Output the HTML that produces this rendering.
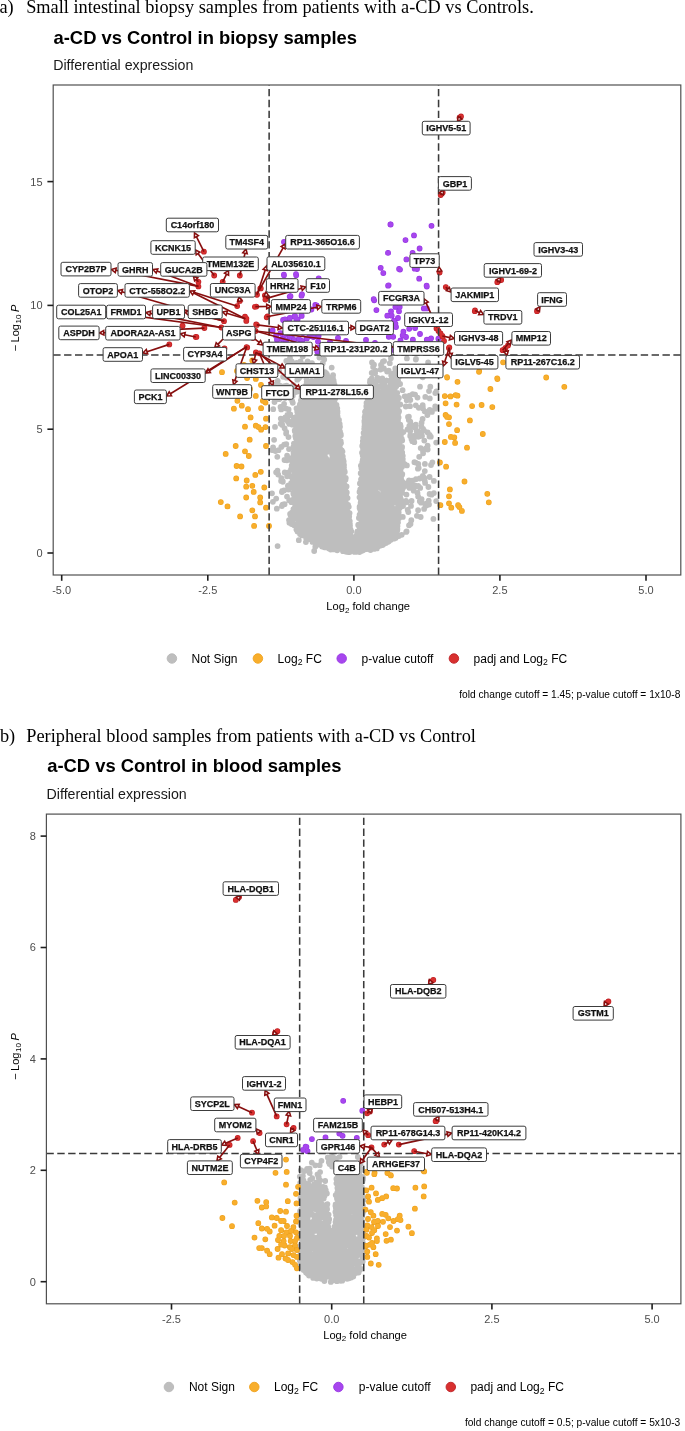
<!DOCTYPE html>
<html><head><meta charset="utf-8"><title>Volcano plots</title><style>
html,body{margin:0;padding:0;background:#fff;}
body{width:685px;height:1431px;overflow:hidden;}
svg{display:block;will-change:transform;}
text{font-family:"Liberation Sans",sans-serif;}
.cap{font-family:"Liberation Serif",serif;font-size:18.32px;fill:#000;}
.ttl{font-weight:bold;font-size:18.4px;fill:#000;}
.sub{font-size:14.2px;fill:#1a1a1a;}
.tick{font-size:11px;fill:#4d4d4d;}
.axt{font-size:11.15px;fill:#000;}
.leg{font-size:12px;fill:#000;}
.foot{font-size:10.2px;fill:#000;}
.lab{font-weight:bold;font-size:9px;fill:#111;stroke:#111;stroke-width:0.25px;}
</style></head><body>
<svg width="685" height="1431" viewBox="0 0 685 1431">
<rect width="685" height="1431" fill="#fff"/>
<text x="-0.6" y="12.6" class="cap">a)</text><text x="26.2" y="12.6" class="cap">Small intestinal biopsy samples from patients with a-CD vs Controls.</text>
<text x="53.5" y="43.7" class="ttl">a-CD vs Control in biopsy samples</text>
<text x="53.2" y="69.9" class="sub">Differential expression</text>
<text x="-0.1" y="741.9" class="cap">b)</text><text x="26.3" y="741.9" class="cap">Peripheral blood samples from patients with a-CD vs Control</text>
<text x="47.2" y="772.4" class="ttl">a-CD vs Control in blood samples</text>
<text x="46.6" y="798.8" class="sub">Differential expression</text>
<g>
<path d="M371.0 501.1h0M428.4 487.0h0M374.4 474.8h0M332.6 540.1h0M381.2 459.2h0M317.1 538.4h0M294.3 476.1h0M356.3 536.0h0M362.4 486.4h0M305.3 421.9h0M363.1 550.3h0M330.0 511.3h0M369.4 447.4h0M310.4 459.8h0M317.4 504.7h0M295.9 488.5h0M382.9 361.7h0M305.0 488.5h0M307.4 456.6h0M304.7 473.4h0M328.7 524.2h0M386.9 454.0h0M327.7 399.2h0M298.0 488.2h0M385.9 520.0h0M280.5 407.0h0M322.6 467.4h0M324.0 461.3h0M300.1 474.9h0M393.8 427.1h0M303.9 407.0h0M370.5 449.6h0M303.0 423.2h0M320.0 449.3h0M323.7 444.3h0M314.2 448.4h0M327.9 483.0h0M395.0 397.4h0M312.1 443.9h0M361.8 491.4h0M386.1 464.6h0M400.8 439.4h0M296.3 434.0h0M375.1 384.2h0M295.3 435.9h0M397.2 392.8h0M331.0 513.8h0M298.5 416.4h0M330.6 525.7h0M376.8 448.9h0M297.9 488.4h0M372.6 416.3h0M309.8 476.8h0M363.4 512.5h0M376.9 483.6h0M325.3 509.5h0M378.0 505.5h0M329.8 527.4h0M323.7 488.7h0M336.9 545.8h0M364.4 426.6h0M384.6 541.3h0M390.4 387.3h0M397.3 530.2h0M315.7 413.9h0M402.2 501.7h0M336.1 412.3h0M371.2 403.2h0M374.5 446.0h0M330.6 432.5h0M393.1 475.3h0M340.2 432.7h0M363.1 534.4h0M382.9 532.1h0M314.1 524.8h0M325.3 482.6h0M297.1 496.6h0M376.9 548.4h0M320.9 421.4h0M378.2 446.6h0M327.8 405.2h0M395.6 435.4h0M335.2 488.1h0M296.9 502.3h0M364.1 445.5h0M345.6 517.2h0M365.1 415.3h0M388.3 503.3h0M417.4 372.9h0M332.9 496.4h0M346.8 532.9h0M373.6 525.5h0M340.0 462.2h0M358.9 524.7h0M293.7 494.6h0M299.8 391.6h0M360.2 489.5h0M305.8 452.5h0M389.7 403.5h0M361.1 542.9h0M319.2 534.6h0M313.8 422.7h0M343.7 515.9h0M393.6 407.0h0M307.8 395.2h0M335.4 449.6h0M393.9 485.4h0M372.4 493.8h0M346.3 549.5h0M331.9 498.4h0M338.8 422.3h0M395.0 433.5h0M332.0 458.7h0M296.9 434.5h0M366.7 523.0h0M369.8 491.8h0M382.9 472.5h0M333.3 388.6h0M301.8 502.2h0M319.8 531.5h0M390.8 529.8h0M325.3 498.9h0M386.0 471.7h0M354.6 551.9h0M299.0 443.7h0M326.4 477.6h0M369.8 520.4h0M337.5 411.4h0M336.3 422.6h0M368.0 403.6h0M357.4 531.3h0M390.3 452.4h0M331.8 488.8h0M380.5 369.6h0M298.5 442.7h0M369.5 545.5h0M359.3 542.3h0M340.3 441.2h0M308.9 405.8h0M333.5 518.5h0M327.3 543.9h0M332.0 436.7h0M302.0 456.2h0M271.9 450.1h0M335.2 465.6h0M324.0 484.5h0M335.6 449.5h0M279.9 385.7h0M363.2 532.2h0M330.2 508.0h0M380.1 409.0h0M344.7 506.1h0M307.1 440.1h0M394.9 463.7h0M339.7 489.7h0M385.3 410.7h0M344.1 471.3h0M356.5 537.3h0M397.4 442.0h0M383.8 483.3h0M391.0 529.8h0M384.5 529.8h0M320.2 486.4h0M317.0 534.5h0M322.2 466.9h0M368.3 506.6h0M322.5 449.0h0M334.3 467.2h0M383.9 497.8h0M333.8 531.6h0M389.8 391.1h0M301.1 489.7h0M301.4 409.5h0M396.9 488.7h0M388.5 526.0h0M400.6 498.6h0M293.6 518.7h0M386.6 454.2h0M384.3 392.1h0M328.3 409.8h0M388.8 520.6h0M335.6 507.9h0M333.1 395.1h0M336.8 518.7h0M296.8 481.5h0M373.6 487.0h0M375.6 528.5h0M296.6 448.1h0M325.0 453.4h0M377.8 541.5h0M372.1 481.8h0M325.3 501.6h0M333.1 426.7h0M314.3 486.1h0M369.9 424.8h0M399.3 443.7h0M388.8 414.9h0M391.1 514.6h0M345.7 518.4h0M376.5 537.0h0M309.3 430.7h0M315.2 525.6h0M298.8 504.5h0M309.3 490.3h0M331.3 514.3h0M331.3 542.5h0M375.1 491.2h0M394.5 529.5h0M334.9 479.3h0M318.7 472.5h0M322.6 446.1h0M325.2 510.1h0M326.6 394.1h0M325.6 522.2h0M376.4 539.5h0M392.0 479.0h0M307.6 372.0h0M311.7 367.7h0M312.6 513.1h0M319.1 405.6h0M367.8 418.4h0M326.4 399.7h0M369.7 526.3h0M386.2 538.5h0M377.3 486.1h0M294.7 430.3h0M374.8 444.2h0M389.2 451.6h0M374.1 389.1h0M362.8 495.7h0M429.5 436.5h0M322.7 502.3h0M289.3 423.9h0M349.0 547.6h0M374.0 511.3h0M316.6 524.3h0M319.2 471.6h0M329.3 441.3h0M426.4 505.6h0M297.9 450.4h0M317.5 522.8h0M424.8 471.1h0M329.1 509.8h0M310.8 506.8h0M394.3 526.4h0M435.3 393.1h0M396.0 468.9h0M422.8 406.2h0M337.0 438.2h0M323.2 458.6h0M354.4 548.6h0M315.2 414.5h0M370.1 402.8h0M395.5 438.8h0M376.8 415.1h0M368.7 407.3h0M305.0 404.8h0M364.4 528.4h0M322.2 507.4h0M328.7 406.3h0M344.9 497.8h0M371.9 401.8h0M284.6 428.3h0M303.2 390.8h0M308.0 463.4h0M298.4 467.9h0M306.2 538.4h0M308.5 425.1h0M378.7 439.6h0M331.7 490.9h0M299.3 448.4h0M315.0 479.3h0M299.8 464.7h0M390.1 524.9h0M343.6 479.8h0M331.7 438.1h0M313.6 490.8h0M385.0 406.0h0M365.1 437.9h0M368.7 512.2h0M397.1 406.0h0M386.9 464.4h0M371.2 549.2h0M330.9 467.1h0M297.4 511.5h0M390.2 403.4h0M319.2 418.6h0M340.6 495.8h0M371.2 521.1h0M400.4 440.4h0M314.6 510.7h0M387.6 535.2h0M360.9 517.4h0M328.9 410.7h0M329.3 520.0h0M389.2 429.2h0M339.0 420.0h0M318.2 488.5h0M333.3 513.6h0M307.6 417.6h0M386.7 515.2h0M322.1 424.6h0M392.3 528.0h0M388.6 541.5h0M306.9 465.1h0M376.3 458.6h0M316.4 486.2h0M315.0 508.5h0M297.9 422.0h0M329.6 461.7h0M336.8 466.3h0M371.7 423.7h0M336.0 502.0h0M395.0 427.4h0M372.8 463.3h0M343.5 549.6h0M398.1 509.3h0M308.1 468.2h0M343.8 541.1h0M312.2 506.0h0M307.7 496.0h0M333.6 380.4h0M284.1 404.0h0M382.9 437.3h0M391.8 414.4h0M321.4 503.0h0M398.7 512.5h0M304.7 479.5h0M291.7 361.3h0M395.1 462.7h0M365.0 411.8h0M326.6 502.8h0M367.9 425.9h0M336.3 480.8h0M299.7 517.2h0M312.1 418.8h0M376.6 544.4h0M367.5 480.1h0M369.2 546.4h0M335.9 409.1h0M284.6 504.2h0M340.8 434.2h0M284.5 419.6h0M336.0 455.1h0M397.8 476.0h0M318.2 514.4h0M394.3 424.9h0M310.1 494.2h0M319.0 425.2h0M368.1 458.2h0M408.0 416.9h0M365.8 500.0h0M367.2 463.2h0M317.4 397.2h0M371.0 548.0h0M309.9 410.5h0M381.1 449.3h0M367.0 461.3h0M375.4 451.4h0M327.2 471.3h0M346.4 495.9h0M306.8 466.8h0M365.5 499.0h0M382.4 518.5h0M292.2 457.8h0M320.7 408.9h0M370.3 546.3h0M345.6 528.0h0M372.5 481.1h0M308.3 480.6h0M370.1 412.1h0M329.9 484.3h0M324.2 359.4h0M368.5 485.3h0M385.4 516.3h0M316.0 513.8h0M325.6 413.9h0M370.2 439.7h0M357.0 538.1h0M385.4 509.6h0M330.4 463.4h0M286.5 377.7h0M383.8 507.9h0M373.0 502.0h0M364.6 503.6h0M358.8 533.5h0M320.8 378.0h0M338.9 471.0h0M392.3 521.0h0M341.6 515.7h0M378.7 420.0h0M338.8 431.9h0M375.9 502.4h0M322.2 503.6h0M316.0 542.8h0M312.5 517.9h0M336.6 481.0h0M357.8 536.4h0M384.1 512.9h0M342.3 531.8h0M296.2 427.7h0M392.7 408.7h0M307.7 435.8h0M325.2 413.3h0M382.5 445.8h0M293.8 517.5h0M312.7 512.1h0M397.5 526.1h0M321.1 481.5h0M316.1 397.0h0M325.9 403.5h0M298.0 428.3h0M362.7 495.9h0M361.8 535.1h0M299.6 531.5h0M395.4 423.5h0M305.8 497.5h0M367.9 419.7h0M396.2 518.7h0M384.3 494.8h0M361.4 483.9h0M328.2 402.2h0M301.3 436.2h0M414.4 462.2h0M379.1 508.4h0M331.2 528.7h0M392.9 475.8h0M328.0 496.1h0M384.4 394.9h0M335.2 491.5h0M309.3 446.8h0M387.1 441.8h0M328.4 511.8h0M366.3 454.4h0M392.3 410.2h0M340.5 455.9h0M427.7 432.4h0M340.6 474.4h0M301.6 428.4h0M322.4 541.8h0M315.0 519.0h0M307.3 516.5h0M391.7 408.4h0M385.0 412.7h0M384.9 488.9h0M367.9 443.0h0M382.9 422.5h0M383.9 395.5h0M390.8 401.1h0M286.2 431.8h0M398.8 432.9h0M318.6 479.2h0M291.6 460.6h0M325.1 523.3h0M326.1 464.6h0M305.2 469.5h0M333.4 545.9h0M312.0 445.6h0M385.7 458.4h0M330.7 549.5h0M378.5 422.5h0M383.8 405.9h0M395.9 453.5h0M330.2 535.2h0M343.6 531.2h0M310.1 451.9h0M372.0 465.8h0M301.7 465.1h0M385.9 424.7h0M340.0 431.4h0M337.8 512.8h0M314.0 458.8h0M336.4 414.8h0M376.8 398.0h0M364.4 420.8h0M334.8 522.5h0M315.5 499.9h0M296.6 480.3h0M328.2 479.7h0M330.2 400.1h0M319.6 505.6h0M293.5 385.2h0M307.2 480.7h0M428.7 500.6h0M331.2 416.9h0M400.2 465.5h0M355.9 551.4h0M315.3 405.6h0M329.5 507.5h0M317.0 473.1h0M302.5 524.0h0M290.4 398.2h0M329.2 409.4h0M391.0 518.5h0M364.2 461.5h0M391.8 491.6h0M310.8 508.9h0M400.9 486.3h0M376.2 418.1h0M294.2 525.3h0M335.2 511.8h0M304.7 533.8h0M314.4 499.4h0M336.7 411.7h0M319.0 438.2h0M371.3 494.5h0M373.3 498.4h0M372.2 407.7h0M379.2 425.4h0M373.2 431.7h0M379.9 545.7h0M368.1 450.6h0M340.9 458.4h0M310.8 364.8h0M317.6 533.0h0M298.5 468.7h0M397.5 521.1h0M383.6 391.2h0M340.5 538.7h0M363.4 505.4h0M370.1 380.5h0M398.7 453.2h0M303.0 501.4h0M313.1 514.8h0M379.8 507.5h0M387.7 541.9h0M433.4 518.9h0M301.5 437.6h0M319.2 391.0h0M398.0 507.2h0M325.1 515.9h0M399.0 376.4h0M377.3 514.7h0M423.4 476.8h0M291.0 469.5h0M389.5 402.8h0M400.0 477.9h0M297.3 530.1h0M349.9 524.0h0M332.8 483.8h0M336.7 466.7h0M379.4 448.3h0M384.1 384.2h0M379.5 530.9h0M294.9 512.7h0M281.2 409.4h0M336.9 492.0h0M378.9 443.8h0M374.5 526.3h0M389.6 527.8h0M284.5 460.0h0M310.8 507.1h0M320.9 462.3h0M374.9 477.7h0M389.2 407.7h0M374.7 401.6h0M369.0 396.1h0M320.1 438.8h0M418.1 510.2h0M311.2 468.2h0M295.3 505.9h0M327.5 430.3h0M336.7 543.8h0M288.5 485.3h0M388.3 464.5h0M312.0 466.1h0M318.7 442.3h0M317.7 543.8h0M322.9 469.5h0M371.2 451.3h0M297.2 494.7h0M385.3 486.5h0M395.2 489.3h0M370.2 515.3h0M306.0 421.8h0M385.6 496.5h0M378.7 521.8h0M366.7 548.8h0M307.5 427.3h0M330.2 500.5h0M399.0 503.8h0M350.1 539.4h0M345.7 477.8h0M389.4 472.7h0M327.9 521.8h0M397.9 504.3h0M386.9 542.1h0M339.1 538.2h0M329.3 443.6h0M357.0 546.6h0M340.8 497.4h0M387.5 481.0h0M312.9 440.9h0M396.3 485.0h0M378.9 450.0h0M319.8 473.9h0M394.2 392.5h0M350.3 547.0h0M361.3 528.5h0M311.6 537.2h0M376.5 528.9h0M382.6 459.8h0M367.8 449.6h0M321.4 507.8h0M328.2 409.5h0M302.2 514.6h0M336.7 412.5h0M313.3 368.4h0M295.7 513.6h0M391.9 428.8h0M351.3 531.3h0M314.1 509.5h0M334.3 536.5h0M332.9 377.6h0M312.4 527.5h0M340.4 515.7h0M304.2 421.1h0M409.5 395.7h0M376.0 459.2h0M302.9 526.4h0M299.9 429.3h0M379.7 542.8h0M368.6 422.1h0M383.2 441.6h0M402.3 481.6h0M374.1 548.9h0M338.1 450.1h0M328.4 527.6h0M363.4 531.3h0M292.8 480.2h0M304.7 428.2h0M339.0 441.1h0M347.2 510.9h0M346.8 526.8h0M383.0 506.0h0M379.6 519.7h0M344.4 502.1h0M295.8 516.8h0M344.4 510.2h0M344.7 541.7h0M397.2 528.9h0M384.9 437.1h0M335.7 536.3h0M376.6 454.3h0M313.7 532.0h0M317.8 434.3h0M309.4 488.9h0M342.3 466.4h0M334.8 490.2h0M399.0 485.5h0M420.0 386.7h0M327.4 432.3h0M337.7 445.9h0M395.1 408.9h0M310.0 381.5h0M394.4 418.6h0M337.0 448.3h0M296.5 508.4h0M319.4 357.6h0M415.9 479.2h0M389.2 447.7h0M345.2 499.4h0M372.6 509.5h0M329.6 531.2h0M304.2 514.7h0M324.8 407.9h0M314.1 394.7h0M305.4 407.6h0M312.8 486.9h0M391.7 486.9h0M378.5 432.1h0M320.3 430.7h0M309.4 521.3h0M351.5 539.4h0M345.4 505.0h0M291.0 522.8h0M364.9 460.4h0M368.5 528.0h0M324.2 524.6h0M313.2 494.3h0M373.6 401.5h0M315.5 413.8h0M316.7 500.7h0M367.5 498.8h0M319.8 451.5h0M379.5 435.9h0M308.0 416.3h0M348.2 541.1h0M300.3 448.3h0M317.9 433.2h0M349.3 533.8h0M365.4 517.6h0M401.6 489.6h0M371.5 400.8h0M374.1 522.4h0M398.5 482.4h0M305.3 458.3h0M374.6 481.6h0M321.1 442.8h0M381.0 403.6h0M390.1 508.3h0M305.6 418.5h0M375.0 407.0h0M380.9 497.7h0M370.1 511.8h0M379.9 451.2h0M296.0 428.6h0M326.0 420.7h0M393.3 464.4h0M357.1 532.7h0M386.5 463.4h0M382.0 427.2h0M333.3 448.7h0M305.0 461.1h0M386.5 470.2h0M386.6 433.3h0M373.4 411.2h0M405.7 396.3h0M304.3 478.7h0M337.6 545.9h0M334.1 483.6h0M380.0 495.6h0M412.7 394.1h0M328.2 493.8h0M372.2 401.6h0M335.6 429.9h0M402.8 516.9h0M381.0 457.5h0M366.0 473.1h0M298.4 491.0h0M388.7 443.6h0M319.2 457.4h0M364.5 440.7h0M337.3 546.5h0M373.4 502.4h0M375.9 521.0h0M364.8 473.2h0M313.2 413.1h0M380.9 544.4h0M369.1 547.5h0M333.9 401.2h0M296.7 474.7h0M423.1 453.3h0M329.9 463.7h0M318.3 419.8h0M366.5 403.0h0M326.2 458.6h0M341.8 450.5h0M381.3 496.3h0M376.6 459.9h0M372.4 500.8h0M356.0 551.9h0M344.9 549.8h0M383.2 400.3h0M308.5 493.8h0M317.3 390.2h0M404.7 396.3h0M303.8 528.2h0M321.2 392.4h0M339.8 540.0h0M398.0 419.0h0M324.7 508.4h0M378.5 498.5h0M375.5 409.7h0M375.9 434.9h0M336.7 539.5h0M293.4 493.9h0M340.2 492.8h0M338.7 421.6h0M337.8 529.3h0M337.4 457.2h0M305.3 447.0h0M329.8 540.3h0M388.3 490.2h0M367.2 523.6h0M327.8 485.3h0M310.8 457.3h0M311.9 399.9h0M369.5 524.6h0M303.3 526.2h0M332.8 443.0h0M285.3 417.3h0M385.5 417.2h0M384.0 501.9h0M300.5 410.5h0M365.4 506.4h0M298.4 461.6h0M275.5 451.0h0M332.2 468.2h0M338.5 464.2h0M388.6 538.5h0M393.6 509.8h0M300.0 534.0h0M390.1 458.2h0M385.3 539.3h0M349.2 529.0h0M398.4 465.4h0M376.2 493.9h0M316.6 379.5h0M308.2 522.2h0M324.3 520.2h0M313.9 445.7h0M394.4 423.4h0M324.6 444.5h0M339.0 523.9h0M326.6 432.0h0M318.8 478.3h0M329.2 382.5h0M326.1 479.9h0M364.2 477.7h0M358.3 543.9h0M378.1 519.5h0M382.6 420.7h0M392.3 453.1h0M328.4 520.5h0M307.3 537.5h0M319.3 486.5h0M316.4 443.1h0M398.0 522.5h0M390.9 506.6h0M374.4 521.1h0M277.7 380.8h0M391.1 480.7h0M309.7 469.8h0M300.8 439.9h0M297.3 379.7h0M372.2 548.3h0M346.5 503.9h0M307.3 391.1h0M319.5 451.9h0M292.2 487.3h0M418.2 485.9h0M384.9 536.1h0M349.6 531.4h0M362.2 499.4h0M392.7 528.3h0M340.0 517.1h0M320.5 517.5h0M327.1 497.0h0M316.9 468.9h0M409.0 480.3h0M300.4 447.6h0M346.0 549.0h0M359.6 533.2h0M389.0 387.1h0M374.6 512.7h0M365.2 494.9h0M315.3 383.2h0M320.6 432.4h0M329.1 400.5h0M334.8 507.3h0M373.9 397.4h0M306.7 381.8h0M393.6 384.4h0M294.3 500.5h0M324.9 372.2h0M396.7 411.4h0M320.9 379.1h0M299.9 404.4h0M319.2 525.6h0M363.0 448.5h0M319.0 458.1h0M282.8 481.8h0M326.8 433.3h0M373.1 494.7h0M365.9 411.8h0M328.6 471.3h0M367.7 486.7h0M339.6 542.4h0M299.0 459.1h0M402.0 492.1h0M339.7 505.6h0M314.2 494.6h0M389.4 478.3h0M332.4 457.7h0M364.5 488.5h0M383.8 416.8h0M366.1 532.5h0M303.3 515.5h0M312.7 414.2h0M365.8 549.2h0M311.7 489.6h0M295.2 465.5h0M366.7 524.8h0M337.6 444.6h0M365.9 462.7h0M396.8 438.5h0M328.7 476.4h0M333.9 524.8h0M373.3 436.2h0M313.3 492.7h0M383.6 418.3h0M292.2 401.1h0M336.1 425.0h0M385.1 501.4h0M331.1 513.6h0M346.9 510.9h0M318.7 489.2h0M371.5 416.6h0M369.4 462.8h0M299.4 528.1h0M305.5 437.2h0M307.0 447.5h0M324.2 526.5h0M366.4 449.4h0M389.3 529.2h0M375.8 381.7h0M307.7 441.2h0M337.6 416.4h0M385.6 532.8h0M293.8 483.2h0M376.8 446.1h0M301.9 453.5h0M382.4 529.7h0M398.5 456.8h0M384.6 501.2h0M313.6 455.8h0M371.0 418.6h0M377.0 460.4h0M314.0 423.5h0M365.7 510.6h0M306.7 534.1h0M316.1 431.4h0M386.0 391.4h0M376.8 499.3h0M334.9 459.7h0M395.8 408.4h0M311.9 460.5h0M385.9 543.0h0M325.2 379.7h0M296.8 479.9h0M289.0 520.1h0M330.6 437.2h0M400.0 465.4h0M329.9 461.4h0M345.7 550.5h0M377.6 514.9h0M395.3 404.9h0M360.2 509.5h0M398.9 397.9h0M392.2 475.0h0M343.9 519.5h0M394.0 389.4h0M370.2 438.0h0M300.8 503.5h0M357.0 544.7h0M300.9 400.5h0M319.1 453.1h0M324.7 496.1h0M365.7 538.9h0M387.5 404.8h0M394.1 527.8h0M310.0 517.8h0M332.6 506.2h0M379.8 541.2h0M307.8 416.0h0M325.8 415.6h0M316.5 525.7h0M402.2 452.4h0M314.0 531.3h0M397.3 445.1h0M305.4 457.4h0M326.7 402.7h0M314.5 418.6h0M384.5 533.3h0M372.8 545.8h0M375.3 469.0h0M274.1 439.8h0M325.2 522.1h0M304.4 441.2h0M315.5 506.5h0M420.2 487.9h0M304.2 399.0h0M339.1 451.8h0M389.3 459.7h0M324.6 536.6h0M379.0 415.1h0M384.3 412.1h0M302.4 535.4h0M401.1 463.9h0M302.3 391.4h0M398.8 475.3h0M322.7 544.5h0M385.4 508.5h0M366.0 514.5h0M321.4 466.4h0M327.8 534.1h0M349.1 522.6h0M341.6 519.6h0M381.6 407.0h0M330.2 444.7h0M393.5 431.1h0M365.6 533.0h0M391.1 470.2h0M311.6 535.9h0M337.7 543.4h0M365.3 539.3h0M309.6 406.0h0M374.0 413.5h0M326.6 541.4h0M295.8 438.1h0M397.8 517.0h0M299.3 389.7h0M384.0 389.4h0M386.6 380.6h0M310.2 458.0h0M363.1 452.6h0M307.6 409.5h0M387.5 514.8h0M331.5 500.7h0M383.5 496.3h0M416.9 515.8h0M299.8 499.5h0M389.8 509.4h0M398.2 495.3h0M366.4 511.7h0M383.2 476.6h0M305.2 528.0h0M296.8 488.3h0M322.8 396.7h0M335.2 483.4h0M394.7 419.2h0M302.1 429.8h0M334.0 431.4h0M322.5 483.4h0M336.2 413.5h0M370.2 509.5h0M281.4 478.2h0M324.3 547.3h0M319.9 413.2h0M418.3 436.8h0M370.8 532.5h0M317.9 456.5h0M348.1 552.0h0M340.1 501.6h0M326.4 381.4h0M339.1 426.6h0M347.2 513.5h0M376.2 535.1h0M388.2 402.7h0M320.3 419.0h0M326.6 396.0h0M359.6 506.7h0M371.7 545.8h0M362.8 454.5h0M423.0 451.5h0M337.5 412.9h0M399.7 457.7h0M362.2 476.3h0M302.9 485.4h0M316.8 474.1h0M326.0 478.4h0M295.3 474.3h0M397.4 519.4h0M346.1 524.2h0M328.9 414.5h0M368.3 546.0h0M309.5 486.1h0M365.5 443.2h0M373.4 475.7h0M341.4 511.6h0M394.5 413.0h0M379.9 507.1h0M359.4 544.6h0M316.3 501.6h0M328.8 511.4h0M317.2 436.8h0M384.3 411.2h0M314.5 501.8h0M381.0 365.0h0M396.1 454.4h0M318.2 410.2h0M372.3 452.0h0M396.9 456.2h0M387.3 503.1h0M332.2 483.2h0M384.6 461.0h0M386.7 480.5h0M406.6 531.5h0M304.7 507.9h0M345.3 509.2h0M320.0 391.2h0M295.0 471.0h0M338.8 420.4h0M334.4 447.1h0M396.6 408.7h0M285.2 398.1h0M288.5 489.5h0M400.9 435.0h0M347.0 528.3h0M300.8 520.6h0M310.6 385.5h0M361.4 468.3h0M389.5 409.9h0M394.5 476.2h0M383.2 473.4h0M294.9 482.5h0M346.6 486.4h0M369.3 483.0h0M290.8 459.6h0M359.5 552.0h0M394.5 497.6h0M396.6 482.3h0M361.0 545.4h0M384.6 540.6h0M306.7 429.1h0M321.4 446.7h0M366.4 421.1h0M389.4 479.5h0M336.8 548.5h0M307.6 450.7h0M429.7 409.9h0M380.9 496.6h0M327.1 460.9h0M291.8 512.7h0M399.2 451.6h0M356.2 547.8h0M322.8 376.8h0M308.5 404.0h0M402.3 474.1h0M297.9 501.4h0M392.2 418.1h0M338.2 540.0h0M311.8 385.8h0M363.6 532.4h0M320.8 413.3h0M368.7 503.0h0M333.2 494.0h0M315.7 433.6h0M343.2 477.9h0M397.9 403.8h0M349.1 532.4h0M316.1 540.3h0M367.0 537.1h0M371.3 480.5h0M382.5 534.6h0M311.5 528.6h0M298.2 467.6h0M309.4 524.5h0M350.1 535.9h0M428.2 375.1h0M371.4 439.1h0M402.8 459.1h0M310.1 450.1h0M372.6 430.2h0M370.1 496.3h0M325.4 483.9h0M341.4 525.1h0M377.3 466.0h0M304.2 400.4h0M376.7 511.3h0M294.7 460.0h0M392.4 510.1h0M318.5 388.1h0M366.0 456.9h0M407.4 482.8h0M305.3 510.2h0M293.6 494.2h0M296.0 493.6h0M341.3 497.6h0M399.2 466.9h0M332.9 473.2h0M340.9 477.5h0M394.2 464.5h0M312.2 518.7h0M410.3 421.7h0M317.9 426.6h0M376.7 415.6h0M367.4 456.6h0M386.2 419.2h0M331.1 430.7h0M309.0 482.1h0M381.5 467.3h0M294.1 466.1h0M384.4 511.6h0M312.5 503.9h0M324.3 396.2h0M391.3 418.0h0M306.3 511.7h0M369.8 387.1h0M308.7 484.2h0M375.6 546.8h0M371.0 464.5h0M326.1 432.8h0M363.6 492.9h0M303.6 494.5h0M387.9 453.3h0M332.7 535.3h0M302.1 503.6h0M345.1 479.1h0M336.1 514.6h0M393.0 499.8h0M376.7 495.1h0M315.6 510.8h0M391.0 491.3h0M313.7 508.3h0M383.6 508.9h0M366.3 428.7h0M314.4 529.2h0M398.5 509.7h0M311.3 423.7h0M399.6 425.9h0M323.5 406.4h0M394.5 463.7h0M392.0 516.5h0M374.6 423.2h0M332.4 507.4h0M367.2 471.4h0M331.8 546.2h0M370.7 383.1h0M389.7 459.4h0M321.1 496.1h0M316.3 456.8h0M319.3 416.5h0M365.0 524.1h0M386.5 504.8h0M375.4 407.2h0M300.8 444.6h0M327.9 536.7h0M300.9 441.2h0M384.3 493.2h0M311.8 509.7h0M374.3 448.4h0M379.6 420.2h0M382.0 462.7h0M342.0 524.7h0M319.7 461.5h0M335.2 491.5h0M329.5 399.3h0M381.5 401.2h0M306.7 489.8h0M333.1 375.2h0M371.7 383.3h0M315.3 526.3h0M381.5 449.0h0M383.9 368.5h0M380.3 528.5h0M312.4 432.3h0M388.7 370.6h0M274.5 402.0h0M327.6 474.1h0M297.4 515.5h0M386.5 468.8h0M318.8 521.3h0M389.2 492.3h0M401.1 499.9h0M382.9 414.2h0M401.4 451.9h0M324.4 423.7h0M373.6 426.5h0M324.7 524.1h0M325.7 410.6h0M328.2 474.7h0M380.8 541.5h0M293.3 493.0h0M291.2 476.7h0M335.1 463.0h0M335.1 463.3h0M334.2 395.0h0M365.6 417.0h0M357.8 532.8h0M393.1 513.5h0M336.5 433.6h0M359.5 491.9h0M297.4 432.8h0M369.2 538.6h0M321.5 450.7h0M402.8 455.8h0M388.8 464.9h0M313.8 454.4h0M365.9 470.9h0M312.1 461.7h0M397.0 469.1h0M379.1 461.3h0M313.3 471.1h0M276.1 472.3h0M342.7 511.2h0M327.8 436.4h0M333.5 437.3h0M330.8 546.2h0M369.0 459.8h0M300.5 483.8h0M301.2 363.2h0M309.9 525.2h0M394.3 468.1h0M398.0 420.9h0M415.3 427.7h0M321.4 473.9h0M334.4 498.3h0M337.7 516.5h0M323.1 443.6h0M336.0 467.8h0M366.6 449.4h0M334.0 511.8h0M323.2 543.4h0M387.9 400.0h0M380.1 496.3h0M344.4 508.6h0M374.6 489.0h0M385.1 414.9h0M397.1 433.4h0M333.2 500.8h0M355.5 540.9h0M399.8 442.6h0M316.5 432.7h0M306.3 500.3h0M301.8 421.1h0M368.4 480.8h0M383.0 501.2h0M415.8 359.5h0M312.3 461.1h0M344.5 470.9h0M383.0 439.2h0M297.2 448.4h0M370.5 393.5h0M328.8 540.6h0M337.3 425.3h0M309.6 445.2h0M327.1 487.5h0M388.7 494.9h0M329.3 390.4h0M376.4 385.9h0M289.0 449.1h0M379.2 475.4h0M409.5 487.9h0M386.7 511.7h0M377.6 377.9h0M294.2 523.8h0M401.7 482.7h0M338.1 460.9h0M314.4 463.7h0M362.5 508.9h0M387.1 402.1h0M397.4 529.0h0M345.8 500.0h0M372.3 485.5h0M378.4 544.0h0M369.4 500.2h0M390.3 518.5h0M322.7 424.6h0M310.4 398.1h0M324.1 454.2h0M379.8 537.8h0M367.7 419.8h0M374.4 452.1h0M340.4 520.2h0M310.3 390.6h0M431.9 411.9h0M288.6 409.4h0M303.4 427.7h0M386.3 489.6h0M370.9 533.2h0M394.9 491.1h0M352.8 538.9h0M390.6 477.6h0M302.2 510.4h0M369.5 394.3h0M367.8 441.0h0M418.3 463.9h0M326.3 474.3h0M388.3 480.5h0M347.0 550.3h0M380.9 437.9h0M361.0 479.5h0M391.4 516.5h0M374.8 450.7h0M376.0 392.0h0M311.1 397.7h0M398.0 462.3h0M304.3 436.5h0M327.7 477.1h0M406.9 465.4h0M330.5 498.6h0M371.3 405.1h0M343.5 473.9h0M345.4 527.6h0M378.7 517.6h0M431.0 465.0h0M380.0 427.8h0M374.3 414.1h0M333.6 467.3h0M335.8 439.2h0M301.2 425.3h0M381.0 435.2h0M297.7 501.7h0M322.6 469.2h0M375.1 523.6h0M321.5 421.1h0M324.5 408.7h0M352.6 548.7h0M329.7 546.1h0M398.3 515.7h0M388.9 451.8h0M337.0 412.8h0M365.9 537.7h0M369.1 392.3h0M298.8 531.9h0M398.7 478.3h0M367.4 514.2h0M336.7 456.6h0M329.5 400.5h0M326.7 505.6h0M384.3 439.1h0M319.2 429.8h0M335.0 419.0h0M331.6 441.0h0M363.9 492.5h0M371.3 524.8h0M396.1 496.4h0M322.9 423.9h0M365.6 462.8h0M379.4 479.9h0M308.8 472.4h0M313.9 387.0h0M344.5 489.4h0M394.8 487.4h0M382.1 541.1h0M363.1 454.0h0M374.4 548.5h0M370.4 431.3h0M335.8 419.2h0M298.4 494.2h0M363.3 500.7h0M377.0 407.4h0M332.7 481.6h0M322.9 473.7h0M301.3 456.6h0M395.5 530.3h0M308.2 487.1h0M384.0 426.1h0M398.9 518.2h0M318.1 393.9h0M333.9 421.1h0M319.2 509.7h0M335.8 471.9h0M360.6 504.4h0M303.6 455.2h0M298.8 433.1h0M338.7 470.9h0M373.0 402.1h0M311.8 471.4h0M381.0 465.6h0M297.9 412.2h0M312.1 441.5h0M380.6 504.4h0M317.1 393.5h0M427.7 449.5h0M381.4 511.9h0M379.2 512.0h0M347.8 529.2h0M341.8 473.1h0M301.7 427.5h0M336.8 419.3h0M394.7 479.8h0M324.1 503.1h0M366.7 515.5h0M346.2 549.2h0M420.7 448.1h0M397.4 460.8h0M371.2 380.1h0M334.3 438.9h0M306.4 452.4h0M337.8 534.5h0M345.8 478.1h0M332.1 512.5h0M383.1 493.2h0M318.2 491.6h0M368.7 399.5h0M315.9 443.2h0M375.2 413.3h0M319.4 493.7h0M309.4 445.7h0M318.9 509.2h0M390.5 467.2h0M380.0 533.0h0M319.9 530.5h0M377.8 545.7h0M314.7 416.0h0M335.1 538.9h0M385.7 448.1h0M299.6 492.2h0M377.7 519.3h0M371.6 482.8h0M381.1 511.1h0M365.5 411.1h0M330.1 409.0h0M347.6 539.8h0M395.4 490.7h0M356.1 537.7h0M374.3 509.1h0M307.9 427.4h0M332.8 473.4h0M391.7 502.2h0M319.4 404.2h0M326.2 494.2h0M330.6 479.6h0M323.0 457.2h0M367.8 484.5h0M306.3 417.8h0M324.1 515.0h0M308.8 453.0h0M311.4 513.9h0M385.2 499.2h0M300.1 523.7h0M342.1 481.9h0M360.9 465.7h0M325.0 411.7h0M294.7 465.0h0M293.4 509.1h0M334.7 503.2h0M294.9 498.4h0M320.5 373.7h0M388.2 517.8h0M334.8 475.7h0M395.0 465.0h0M299.2 438.7h0M389.0 443.4h0M330.5 524.1h0M340.3 449.0h0M322.6 540.9h0M385.5 467.3h0M368.0 475.1h0M343.1 460.7h0M287.4 419.4h0M340.0 426.7h0M376.9 504.0h0M334.6 472.4h0M311.6 529.4h0M332.2 444.1h0M316.5 442.3h0M382.5 521.0h0M286.4 418.5h0M395.0 479.2h0M322.5 546.2h0M299.8 434.9h0M327.6 420.8h0M382.7 489.8h0M326.5 477.1h0M338.0 513.6h0M293.1 499.6h0M347.1 497.8h0M362.4 527.3h0M336.8 482.3h0M286.6 385.6h0M301.2 519.1h0M299.6 496.3h0M348.6 543.7h0M384.1 436.8h0M435.1 408.7h0M311.3 393.9h0M339.0 504.0h0M359.3 541.8h0M297.9 464.4h0M327.8 425.8h0M371.9 452.9h0M301.3 520.3h0M387.3 392.1h0M363.1 547.5h0M319.0 462.9h0M312.0 469.8h0M418.7 467.9h0M306.2 496.5h0M364.6 417.2h0M331.7 417.9h0M279.2 371.1h0M397.3 415.1h0M394.9 517.7h0M397.0 511.1h0M294.6 453.1h0M387.6 404.6h0M326.9 460.7h0M296.2 482.6h0M338.2 481.8h0M408.3 512.1h0M303.9 405.8h0M310.2 527.0h0M376.9 537.7h0M397.6 406.7h0M295.0 504.0h0M384.9 417.9h0M320.2 526.0h0M355.3 540.3h0M380.5 510.0h0M369.0 426.0h0M305.7 480.3h0M336.8 478.9h0M394.1 513.3h0M387.0 483.1h0M397.0 508.4h0M402.3 484.5h0M312.9 439.2h0M367.1 529.5h0M336.2 425.5h0M375.7 439.3h0M385.0 434.1h0M341.2 547.4h0M362.0 466.2h0M312.7 519.7h0M390.3 456.3h0M342.3 513.6h0M376.5 415.7h0M332.3 546.0h0M381.7 518.1h0M326.5 522.5h0M385.3 476.2h0M291.4 502.2h0M315.0 446.7h0M299.5 487.6h0M393.4 404.7h0M311.9 450.6h0M394.3 530.2h0M373.1 539.2h0M363.4 499.4h0M317.6 503.2h0M308.1 478.9h0M335.5 454.5h0M307.0 452.8h0M294.7 373.4h0M301.4 466.5h0M318.0 483.6h0M383.9 455.6h0M331.9 409.2h0M379.0 398.8h0M418.8 407.8h0M321.1 480.3h0M314.0 464.9h0M373.3 421.2h0M372.8 451.9h0M382.8 449.7h0M318.7 515.5h0M297.2 411.8h0M304.4 511.0h0M324.8 400.1h0M368.6 523.4h0M340.6 462.4h0M301.5 512.0h0M327.7 432.0h0M401.1 488.2h0M315.9 431.1h0M364.2 542.5h0M343.5 479.8h0M320.8 516.4h0M366.2 549.2h0M375.7 387.6h0M367.2 520.1h0M318.6 536.1h0M362.0 452.7h0M377.5 526.1h0M385.4 496.9h0M320.7 480.3h0M384.2 436.8h0M377.6 455.3h0M381.2 540.9h0M320.0 486.7h0M394.9 472.6h0M336.6 413.7h0M390.8 434.7h0M367.4 507.3h0M390.0 452.0h0M339.7 485.0h0M335.1 529.8h0M387.9 513.4h0M369.0 510.4h0M389.5 462.9h0M388.8 496.5h0M323.9 520.6h0M372.4 431.9h0M294.6 419.8h0M405.7 369.8h0M398.8 411.9h0M377.6 401.1h0M326.6 519.8h0M394.3 535.7h0M364.0 511.3h0M318.4 389.1h0M301.4 400.7h0M310.7 482.1h0M306.1 439.4h0M376.6 523.0h0M351.0 546.9h0M312.9 480.8h0M383.6 398.0h0M333.0 455.8h0M388.6 537.3h0M345.5 489.9h0M391.8 452.4h0M376.6 530.1h0M336.5 435.6h0M320.4 403.7h0M322.8 484.2h0M369.0 447.3h0M313.8 493.0h0M369.8 470.1h0M290.1 514.0h0M359.5 497.3h0M336.0 532.3h0M389.4 398.1h0M304.6 493.0h0M342.5 486.2h0M341.9 535.5h0M316.6 412.3h0M397.6 512.5h0M383.0 462.6h0M366.0 521.0h0M379.2 519.5h0M335.6 539.8h0M318.1 424.5h0M311.6 495.2h0M370.5 455.4h0M395.4 533.2h0M300.0 376.9h0M302.0 463.4h0M362.6 499.5h0M380.0 380.9h0M380.6 386.5h0M340.4 500.4h0M324.7 539.9h0M375.9 513.6h0M302.7 356.5h0M328.9 537.3h0M297.6 476.3h0M348.1 504.9h0M344.1 531.8h0M391.0 498.7h0M384.6 443.6h0M397.7 518.7h0M305.2 475.0h0M378.5 479.8h0M298.4 469.7h0M319.3 520.4h0M335.3 398.5h0M317.9 419.5h0M320.1 377.7h0M306.7 532.7h0M370.1 501.9h0M326.2 419.2h0M306.6 491.0h0M333.2 471.9h0M286.3 360.9h0M317.1 500.3h0M329.0 490.9h0M296.6 443.8h0M335.9 532.0h0M370.0 436.6h0M381.8 408.3h0M375.1 373.3h0M317.5 390.9h0M379.9 442.3h0M300.8 521.3h0M341.7 513.9h0M364.5 450.0h0M316.6 430.1h0M385.2 432.8h0M330.9 548.6h0M296.9 502.1h0M304.4 531.9h0M372.4 444.7h0M319.6 431.7h0M315.9 524.9h0M385.9 390.1h0M390.6 405.4h0M319.2 443.5h0M364.5 440.0h0M362.9 517.7h0M337.6 529.0h0M387.4 485.6h0M306.3 490.7h0M335.7 521.6h0M399.4 439.3h0M372.2 424.9h0M340.8 466.2h0M364.4 496.2h0M314.8 405.4h0M396.1 525.5h0M339.6 535.6h0M380.0 433.5h0M369.4 453.9h0M309.9 515.4h0M377.4 497.8h0M387.2 467.7h0M303.4 481.5h0M322.1 546.5h0M333.3 479.3h0M371.9 492.9h0M380.1 478.2h0M317.8 481.8h0M330.4 446.0h0M332.4 445.8h0M286.3 444.1h0M344.0 467.3h0M402.7 460.9h0M387.8 493.8h0M291.9 421.7h0M376.7 520.9h0M312.8 527.1h0M410.3 435.2h0M407.5 429.4h0M402.1 452.9h0M376.7 422.4h0M301.7 468.4h0M325.9 512.1h0M376.7 457.6h0M386.8 532.3h0M389.7 526.4h0M361.6 516.6h0M305.8 433.3h0M382.8 482.9h0M372.0 506.3h0M362.8 441.2h0M391.0 399.5h0M381.7 470.7h0M307.1 532.7h0M391.3 482.4h0M366.3 406.2h0M300.6 487.7h0M334.3 507.2h0M330.2 420.6h0M415.6 462.6h0M321.5 474.1h0M296.5 408.4h0M362.9 463.5h0M338.1 527.9h0M375.1 535.9h0M338.6 524.6h0M319.2 375.0h0M273.2 409.2h0M394.3 461.2h0M399.3 465.2h0M311.8 458.9h0M334.3 455.4h0M315.2 448.8h0M386.8 450.5h0M410.5 523.9h0M316.1 396.2h0M395.1 476.7h0M334.7 471.3h0M315.3 446.0h0M322.4 390.7h0M372.6 464.2h0M320.3 469.0h0M379.8 445.7h0M380.8 488.1h0M303.6 445.9h0M338.0 448.2h0M390.8 488.5h0M360.7 529.7h0M369.6 530.1h0M272.0 493.3h0M385.7 461.9h0M301.9 509.0h0M424.7 411.3h0M377.7 495.5h0M374.5 396.4h0M301.7 484.8h0M331.6 509.4h0M315.8 514.6h0M383.7 479.3h0M289.9 359.2h0M333.8 382.1h0M372.0 447.8h0M332.6 488.2h0M323.7 470.3h0M381.2 417.0h0M322.6 535.8h0M305.4 395.8h0M318.8 432.3h0M357.5 550.5h0M368.3 399.0h0M323.0 515.8h0M292.7 481.6h0M393.1 519.9h0M341.0 483.5h0M304.5 403.9h0M381.3 544.1h0M371.3 449.8h0M343.2 468.4h0M432.4 462.3h0M340.2 503.3h0M411.6 500.9h0M316.2 522.8h0M326.0 458.4h0M324.4 447.5h0M390.4 516.5h0M346.7 543.2h0M309.9 473.3h0M363.8 517.2h0M281.3 446.9h0M375.3 526.6h0M319.7 460.7h0M307.8 535.7h0M396.8 531.7h0M323.3 456.9h0M377.8 542.8h0M401.1 430.6h0M378.4 476.1h0M335.5 501.3h0M396.5 509.6h0M333.3 502.2h0M331.4 546.7h0M318.1 524.8h0M319.9 370.3h0M332.1 498.4h0M309.2 427.7h0M320.4 509.9h0M338.1 516.4h0M397.7 445.6h0M377.3 469.5h0M337.1 436.8h0M392.7 377.2h0M308.8 531.1h0M344.6 497.4h0M313.0 500.6h0M420.9 373.8h0M309.5 474.4h0M317.3 432.5h0M392.8 462.7h0M316.0 508.7h0M390.1 454.4h0M375.2 442.1h0M329.0 548.4h0M379.6 378.9h0M326.8 436.3h0M326.9 426.0h0M365.6 488.6h0M311.4 381.2h0M368.1 459.5h0M304.2 519.8h0M314.1 387.8h0M299.2 484.4h0M368.4 454.5h0M373.7 494.3h0M349.6 533.1h0M329.5 407.0h0M359.8 528.7h0M293.5 418.1h0M379.2 503.3h0M371.8 378.3h0M363.2 465.8h0M308.0 493.8h0M382.5 534.0h0M385.9 391.1h0M379.3 417.6h0M364.2 428.8h0M410.2 436.1h0M308.1 523.0h0M305.6 432.8h0M386.9 452.1h0M362.7 473.6h0M338.4 486.9h0M293.7 475.1h0M325.6 430.4h0M399.2 463.0h0M314.6 513.9h0M404.3 464.0h0M307.8 388.8h0M375.0 473.8h0M380.5 511.4h0M332.7 410.2h0M316.5 455.3h0M305.3 422.6h0M374.4 492.5h0M299.2 524.0h0M318.4 501.3h0M386.4 529.9h0M312.9 431.9h0M310.5 455.5h0M318.8 445.5h0M313.9 481.1h0M365.4 498.8h0M362.9 498.1h0M370.6 476.5h0M366.9 465.4h0M372.5 393.0h0M332.3 472.0h0M310.5 372.1h0M370.9 407.2h0M318.5 397.8h0M322.9 495.7h0M322.3 539.1h0M401.4 483.2h0M373.9 462.8h0M384.8 439.0h0M343.3 506.3h0M369.0 412.1h0M332.1 467.3h0M309.6 453.0h0M323.0 487.5h0M400.1 468.8h0M391.9 506.1h0M389.3 467.9h0M370.0 405.5h0M419.8 501.2h0M395.0 380.0h0M392.5 518.1h0M317.7 522.4h0M313.1 522.3h0M423.0 408.6h0M313.3 538.1h0M374.8 451.3h0M388.6 494.7h0M341.8 483.2h0M422.7 405.1h0M378.4 402.3h0M385.9 459.9h0M290.9 365.2h0M317.1 468.3h0M384.7 482.0h0M402.2 440.5h0M334.7 444.2h0M391.3 415.2h0M297.3 451.6h0M325.2 417.5h0M377.3 440.8h0M299.0 441.3h0M370.6 445.0h0M301.9 438.6h0M388.5 445.0h0M424.9 463.9h0M326.6 378.4h0M305.8 523.0h0M318.8 401.6h0M297.8 478.4h0M296.5 505.4h0M391.5 489.1h0M335.7 450.1h0M388.1 475.1h0M376.0 519.6h0M374.1 535.2h0M322.5 476.0h0M343.0 551.2h0M383.4 539.4h0M339.1 483.1h0M334.7 393.0h0M325.0 529.4h0M385.6 540.3h0M393.8 516.3h0M374.1 536.6h0M312.3 498.5h0M382.0 450.0h0M367.5 472.2h0M410.3 400.0h0M299.2 433.7h0M310.7 531.4h0M336.7 423.5h0M313.6 458.3h0M333.6 476.4h0M344.2 520.3h0M320.3 380.0h0M393.7 399.6h0M328.5 532.5h0M335.1 466.0h0M370.3 442.8h0M305.5 533.2h0M357.7 541.9h0M390.9 383.8h0M338.7 442.1h0M373.1 443.6h0M295.0 487.9h0M354.5 537.2h0M341.2 528.2h0M430.8 436.7h0M284.2 444.6h0M307.6 470.3h0M366.4 448.9h0M316.9 533.9h0M345.1 502.9h0M389.4 390.8h0M380.0 526.9h0M333.6 475.9h0M377.2 525.5h0M390.9 539.8h0M395.3 455.6h0M308.1 464.5h0M334.4 453.5h0M371.6 434.3h0M380.4 477.3h0M374.2 401.4h0M395.4 373.6h0M412.3 441.2h0M349.2 516.5h0M389.6 413.5h0M376.3 478.6h0M383.7 460.6h0M321.5 439.1h0M317.2 426.0h0M344.8 503.1h0M411.3 520.2h0M347.1 551.9h0M389.2 453.3h0M327.0 481.9h0M349.1 519.7h0M325.2 502.6h0M387.2 426.3h0M309.8 456.6h0M394.3 446.3h0M339.2 500.7h0M399.4 433.4h0M380.1 439.0h0M314.0 402.1h0M373.2 494.6h0M322.5 495.0h0M321.0 454.6h0M392.8 420.6h0M311.9 381.0h0M381.5 445.2h0M272.9 501.8h0M401.5 439.7h0M390.4 411.7h0M368.0 514.0h0M388.4 390.2h0M433.9 493.1h0M311.2 464.0h0M332.2 454.8h0M381.1 538.2h0M302.9 435.4h0M311.0 472.7h0M305.9 462.7h0M396.3 520.3h0M362.3 495.3h0M400.3 503.7h0M381.2 466.0h0M304.5 532.7h0M380.2 400.6h0M347.9 535.7h0M322.8 362.9h0M365.1 433.6h0M316.1 533.3h0M387.2 463.8h0M403.0 488.0h0M313.5 528.4h0M310.8 420.7h0M417.5 397.6h0M340.0 444.7h0M368.2 487.7h0M362.3 481.8h0M382.3 437.3h0M388.3 480.5h0M372.7 424.2h0M369.3 466.3h0M321.7 433.3h0M351.0 540.0h0M304.0 405.4h0M314.2 405.4h0M318.7 414.9h0M384.4 503.9h0M377.5 496.7h0M298.9 484.4h0M294.5 508.1h0M376.2 449.3h0M331.7 527.8h0M303.5 507.9h0M403.4 432.1h0M320.0 466.0h0M306.9 524.8h0M380.9 478.8h0M388.5 475.1h0M383.1 533.2h0M333.5 471.4h0M368.9 535.0h0M359.6 514.6h0M399.4 502.3h0M331.8 528.5h0M323.0 488.8h0M345.5 479.7h0M377.3 400.6h0M302.7 474.2h0M328.4 525.6h0M424.1 508.9h0M349.5 541.2h0M316.0 441.1h0M329.4 478.7h0M393.8 538.7h0M390.2 452.2h0M393.8 474.1h0M375.5 485.4h0M304.3 414.5h0M340.8 463.9h0M318.7 535.2h0M374.0 537.4h0M388.4 442.8h0M373.6 437.1h0M393.7 473.0h0M308.8 539.2h0M383.2 484.5h0M319.0 500.9h0M333.5 480.3h0M396.0 442.2h0M298.9 526.9h0M399.8 473.1h0M330.7 416.0h0M381.7 476.2h0M315.7 536.8h0M382.1 471.5h0M319.8 465.7h0M328.6 478.1h0M314.8 420.6h0M382.6 447.0h0M297.5 506.2h0M387.8 540.5h0M301.6 396.9h0M343.2 467.1h0M373.0 464.3h0M340.1 548.6h0M377.0 512.5h0M319.0 497.2h0M360.8 547.6h0M313.5 400.1h0M303.9 452.6h0M381.4 437.3h0M293.8 470.7h0M314.3 412.4h0M334.9 412.5h0M329.3 523.8h0M331.2 425.6h0M360.4 517.8h0M309.3 514.9h0M409.0 525.3h0M395.8 431.5h0M326.3 443.4h0M398.0 480.8h0M400.3 404.4h0M381.7 429.7h0M362.0 521.9h0M376.7 515.7h0M304.0 500.4h0M325.8 547.4h0M378.7 514.9h0M386.9 508.6h0M390.9 358.3h0M417.2 486.3h0M388.6 529.1h0M327.3 447.9h0M367.3 432.9h0M308.3 477.6h0M298.9 479.4h0M381.9 436.8h0M384.1 474.6h0M317.9 446.0h0M334.3 429.6h0M321.9 522.9h0M318.2 437.8h0M321.3 399.9h0M350.7 544.6h0M399.2 501.7h0M385.1 470.6h0M386.0 524.6h0M316.4 427.1h0M358.2 524.9h0M353.6 550.3h0M318.6 530.2h0M338.5 448.4h0M365.2 541.5h0M383.3 400.6h0M366.5 410.5h0M384.3 471.1h0M306.2 417.9h0M341.4 501.1h0M396.4 423.7h0M335.9 527.7h0M395.1 471.5h0M392.3 447.2h0M319.6 485.0h0M327.4 442.8h0M381.6 453.5h0M294.4 490.6h0M377.1 428.8h0M394.6 427.6h0M316.4 437.7h0M303.4 500.8h0M305.1 532.7h0M368.4 518.5h0M375.9 478.7h0M313.5 503.2h0M323.4 508.8h0M387.1 402.6h0M388.4 538.5h0M299.2 490.0h0M344.2 492.6h0M366.4 532.7h0M337.6 496.8h0M381.8 399.4h0M373.7 477.7h0M394.3 476.5h0M304.9 478.6h0M297.9 458.0h0M364.6 423.9h0M392.2 427.1h0M398.8 497.2h0M389.5 516.2h0M326.1 543.0h0M337.0 436.3h0M328.6 509.5h0M313.9 406.3h0M322.6 517.5h0M334.0 501.5h0M309.8 477.3h0M308.2 400.3h0M340.5 500.8h0M358.2 532.5h0M378.1 431.3h0M393.7 457.1h0M328.5 531.4h0M301.5 433.2h0M322.1 440.2h0M395.0 415.5h0M387.9 445.2h0M297.7 470.7h0M382.4 408.9h0M321.4 529.5h0M314.4 477.9h0M375.4 407.5h0M337.5 436.7h0M396.0 411.2h0M337.0 468.0h0M380.2 497.0h0M323.5 413.3h0M338.2 522.4h0M310.5 407.2h0M318.4 536.8h0M335.0 519.7h0M392.7 467.5h0M389.9 484.0h0M314.8 542.0h0M353.2 542.7h0M334.3 431.1h0M309.7 479.5h0M397.2 416.0h0M393.7 397.8h0M394.2 424.5h0M371.1 415.7h0M396.6 524.3h0M305.5 430.8h0M297.6 455.9h0M342.7 499.1h0M305.8 512.0h0M309.4 520.5h0M372.6 459.8h0M295.9 463.9h0M346.0 497.8h0M430.3 386.7h0M304.6 451.7h0M314.0 390.8h0M413.2 425.9h0M413.4 485.7h0M364.8 546.8h0M321.4 511.9h0M330.1 479.7h0M379.1 501.5h0M327.7 440.6h0M352.7 545.4h0M374.3 450.7h0M296.8 470.3h0M335.9 526.6h0M318.8 434.6h0M400.2 467.2h0M386.3 540.8h0M398.2 447.4h0M336.4 414.8h0M385.4 476.3h0M386.1 520.4h0M334.0 522.9h0M320.3 445.1h0M302.1 398.1h0M330.9 517.9h0M318.2 424.9h0M421.6 499.2h0M330.9 533.9h0M397.8 435.7h0M367.4 460.2h0M366.2 492.6h0M365.6 452.8h0M373.9 489.5h0M315.2 402.3h0M300.4 446.1h0M317.9 491.7h0M322.6 451.1h0M306.6 459.9h0M313.3 489.3h0M372.8 507.3h0M349.6 513.1h0M379.6 422.2h0M384.8 482.4h0M320.6 490.4h0M337.2 550.3h0M306.8 521.8h0M333.9 533.0h0M334.5 397.5h0M396.2 379.1h0M324.0 523.2h0M330.1 412.8h0M308.5 538.9h0M396.5 509.4h0M346.8 492.5h0M363.0 502.5h0M415.8 424.7h0M367.3 441.5h0M315.5 389.0h0M298.1 497.4h0M334.5 384.7h0M309.5 535.3h0M365.9 528.0h0M380.6 419.0h0M395.5 451.0h0M424.1 430.7h0M385.9 389.7h0M303.2 499.1h0M381.7 432.7h0M387.1 371.5h0M307.5 480.1h0M322.0 527.7h0M307.5 453.8h0M390.8 464.5h0M379.1 477.3h0M379.4 415.7h0M315.2 520.0h0M365.1 446.9h0M412.2 480.7h0M388.3 487.9h0M312.3 420.2h0M364.5 438.2h0M389.2 514.1h0M419.7 478.5h0M334.6 545.8h0M330.2 393.6h0M365.9 485.9h0M311.3 425.9h0M341.5 506.4h0M293.5 501.5h0M401.9 493.1h0M387.3 448.3h0M385.8 486.6h0M335.0 390.7h0M318.2 543.7h0M309.4 509.0h0M371.2 432.4h0M323.4 409.6h0M391.7 418.2h0M411.5 439.3h0M378.5 480.4h0M320.7 411.7h0M320.9 519.6h0M363.4 466.1h0M309.5 437.0h0M319.8 533.7h0M374.8 479.4h0M326.2 412.3h0M363.9 484.4h0M427.7 503.0h0M382.6 545.0h0M336.0 407.2h0M390.3 518.3h0M348.1 518.8h0M375.6 427.1h0M313.9 427.7h0M395.2 473.8h0M375.4 489.7h0M327.2 434.1h0M313.7 504.8h0M334.6 418.0h0M377.8 449.5h0M277.5 470.6h0M299.1 458.6h0M334.0 507.5h0M396.4 495.4h0M336.0 514.8h0M383.5 413.7h0M329.8 504.2h0M384.6 452.9h0M274.8 384.8h0M310.7 445.0h0M335.9 507.8h0M384.0 520.2h0M369.1 506.3h0M370.1 457.6h0M333.7 533.5h0M381.7 403.1h0M399.5 455.0h0M332.2 525.8h0M383.9 441.2h0M393.9 390.9h0M320.1 509.8h0M316.0 438.2h0M368.4 423.6h0M429.6 434.9h0M304.2 488.1h0M315.9 478.2h0M286.1 408.6h0M330.4 541.0h0M381.2 525.9h0M394.3 407.2h0M316.0 390.2h0M376.0 413.4h0M393.1 403.3h0M396.2 414.9h0M380.0 503.7h0M323.0 457.1h0M325.8 518.9h0M382.4 448.6h0M296.9 371.3h0M384.5 395.2h0M368.8 389.3h0M378.7 462.6h0M324.2 422.0h0M394.1 421.5h0M303.1 488.9h0M395.0 384.0h0M305.3 465.2h0M311.7 466.1h0M326.9 512.2h0M393.8 447.3h0M296.8 434.7h0M377.9 402.0h0M390.6 405.3h0M431.5 494.7h0M362.6 512.8h0M296.1 497.4h0M305.6 448.6h0M419.2 456.8h0M305.0 485.2h0M364.3 537.8h0M328.5 451.3h0M300.3 517.5h0M389.9 387.0h0M393.7 465.9h0M335.2 514.6h0M346.2 516.3h0M297.3 495.7h0M338.0 426.5h0M367.7 505.8h0M393.9 407.9h0M405.8 406.5h0M315.6 467.0h0M366.4 528.9h0M311.6 412.3h0M338.2 483.3h0M364.4 421.8h0M311.8 510.1h0M388.4 442.0h0M304.4 414.9h0M320.3 470.2h0M312.7 493.1h0M299.6 440.6h0M334.4 401.1h0M365.9 436.1h0M348.7 524.3h0M334.9 524.3h0M365.5 531.3h0M306.1 526.0h0M336.8 486.2h0M384.1 479.0h0M397.6 502.2h0M293.6 476.2h0M373.8 547.9h0M297.6 508.8h0M331.8 542.9h0M341.8 485.6h0M400.7 503.1h0M368.3 449.3h0M332.5 417.1h0M319.0 499.6h0M380.9 414.7h0M325.1 484.0h0M393.6 373.5h0M325.4 527.4h0M277.6 383.3h0M332.4 486.2h0M301.4 512.0h0M322.7 436.2h0M399.4 449.8h0M307.5 527.5h0M334.9 444.0h0M398.4 436.7h0M332.0 411.4h0M308.3 430.0h0M379.1 398.6h0M299.6 504.8h0M310.9 459.9h0M368.1 487.3h0M313.9 533.5h0M336.1 460.3h0M393.3 433.3h0M313.9 439.1h0M393.2 523.7h0M392.1 450.6h0M334.7 392.1h0M328.0 518.6h0M383.4 437.2h0M363.3 524.5h0M372.5 465.4h0M331.2 386.2h0M306.4 530.1h0M373.4 484.0h0M278.2 474.5h0M360.8 547.9h0M401.8 438.8h0M375.1 451.3h0M310.5 486.5h0M319.3 418.8h0M343.7 532.3h0M382.4 410.0h0M394.5 458.3h0M372.0 537.3h0M390.6 493.5h0M392.5 481.6h0M341.6 487.1h0M343.5 501.7h0M316.5 475.6h0M329.7 533.9h0M372.0 362.5h0M308.3 507.3h0M335.2 495.2h0M287.1 476.3h0M277.5 391.6h0M326.2 424.1h0M388.5 482.3h0M377.6 443.9h0M315.4 450.7h0M382.5 541.7h0M386.7 420.1h0M388.8 423.7h0M386.1 442.6h0M384.4 526.7h0M301.2 402.1h0M373.9 512.4h0M301.1 422.4h0M321.4 451.1h0M375.9 423.8h0M371.6 480.7h0M297.2 444.1h0M376.2 427.2h0M363.1 446.8h0M307.9 420.3h0M429.0 504.5h0M370.5 413.5h0M300.1 494.7h0M366.5 451.3h0M428.1 362.5h0M369.1 544.6h0M397.9 462.9h0M296.3 512.5h0M306.8 363.4h0M396.9 399.7h0M364.5 478.0h0M367.4 470.6h0M378.1 388.8h0M315.0 381.7h0M322.1 446.4h0M279.9 398.4h0M309.9 436.2h0M391.4 414.9h0M368.4 497.9h0M287.4 415.0h0M366.4 423.5h0M349.5 538.6h0M402.1 456.4h0M329.6 411.2h0M389.9 485.2h0M311.8 503.7h0M372.1 382.5h0M388.0 532.4h0M365.9 492.4h0M350.0 525.7h0M302.0 497.1h0M374.0 537.0h0M289.7 386.9h0M321.7 408.5h0M386.7 482.1h0M302.3 516.8h0M331.6 527.7h0M371.3 478.8h0M380.1 500.8h0M300.4 433.0h0M325.3 409.6h0M389.0 399.9h0M417.6 432.9h0M367.4 437.8h0M384.9 477.7h0M295.5 454.3h0M363.0 539.2h0M399.7 463.8h0M306.3 530.1h0M304.4 428.8h0M335.7 418.5h0M302.3 412.9h0M319.0 410.6h0M369.1 535.7h0M384.3 491.8h0M334.0 448.5h0M311.2 450.5h0M321.1 472.6h0M368.6 389.3h0M332.9 436.3h0M328.1 410.5h0M295.3 495.5h0M369.6 429.1h0M332.7 443.9h0M299.9 416.7h0M329.4 464.9h0M389.4 438.8h0M392.6 518.7h0M314.1 384.3h0M327.5 473.5h0M317.2 512.6h0M373.5 458.4h0M303.0 487.6h0M290.3 414.3h0M325.3 411.2h0M367.8 531.2h0M394.1 435.4h0M392.7 423.0h0M333.3 470.7h0M384.4 532.1h0M322.3 521.9h0M370.9 386.5h0M307.5 506.8h0M314.2 475.9h0M377.4 493.1h0M302.7 426.0h0M335.8 427.6h0M363.1 437.8h0M382.5 503.9h0M380.7 477.9h0M287.0 460.3h0M308.3 449.8h0M406.7 400.3h0M292.8 395.7h0M281.1 481.0h0M387.3 408.2h0M329.4 523.8h0M396.5 533.1h0M370.4 528.9h0M321.8 430.3h0M273.1 447.3h0M377.2 523.7h0M394.3 437.8h0M372.1 540.8h0M309.7 480.0h0M372.2 518.3h0M336.9 412.4h0M312.2 453.7h0M321.6 464.3h0M299.4 464.2h0M293.6 418.1h0M338.2 514.5h0M373.0 448.7h0M368.5 396.8h0M303.0 442.1h0M335.7 447.7h0M327.9 483.8h0M384.7 505.1h0M300.1 487.1h0M329.9 506.7h0M399.2 465.0h0M369.3 482.8h0M310.0 406.4h0M335.1 479.4h0M366.3 533.4h0M313.8 496.1h0M417.6 431.1h0M336.6 469.8h0M348.9 550.2h0M320.3 499.8h0M308.4 472.6h0M299.8 500.5h0M420.7 517.0h0M374.3 506.3h0M366.3 443.9h0M397.6 465.9h0M341.7 470.4h0M303.2 391.6h0M392.5 407.3h0M330.2 448.5h0M291.7 465.4h0M329.8 398.6h0M371.8 449.8h0M390.8 444.5h0M370.4 503.7h0M374.8 536.4h0M386.6 414.6h0M315.9 485.6h0M391.4 513.5h0M312.8 526.1h0M306.1 385.1h0M334.3 488.7h0M320.1 479.5h0M376.1 539.3h0M371.8 523.9h0M395.1 511.6h0M367.7 398.6h0M316.2 426.2h0M377.8 431.4h0M316.4 522.2h0M344.7 484.9h0M399.1 506.8h0M334.0 548.0h0M318.1 477.4h0M342.1 506.8h0M325.0 382.8h0M398.7 432.2h0M322.7 469.7h0M312.8 531.1h0M307.9 410.5h0M344.8 546.8h0M436.4 391.4h0M392.5 391.4h0M361.5 548.4h0M389.8 503.7h0M303.0 529.4h0M339.5 480.9h0M298.1 481.7h0M320.7 485.6h0M328.8 422.8h0M333.5 489.8h0M303.7 524.5h0M376.4 467.3h0M311.5 527.7h0M381.3 434.3h0M365.6 419.8h0M315.0 434.3h0M411.5 482.8h0M329.1 526.1h0M306.2 500.1h0M302.0 465.5h0M330.2 543.9h0M382.1 524.5h0M384.0 451.1h0M333.0 501.0h0M313.2 522.5h0M343.9 544.9h0M315.8 464.2h0M304.1 393.9h0M382.1 503.6h0M371.5 480.4h0M308.9 444.5h0M399.3 470.2h0M359.9 483.4h0M319.9 429.3h0M375.9 422.8h0M314.9 531.8h0M313.0 477.2h0M397.4 470.1h0M364.9 493.4h0M333.4 520.2h0M369.7 466.9h0M380.9 406.9h0M377.0 506.5h0M394.9 521.6h0M391.4 423.6h0M391.5 529.4h0M344.6 520.6h0M365.5 513.6h0M366.4 407.0h0M369.7 449.3h0M386.3 405.9h0M395.5 418.1h0M350.8 530.9h0M314.2 551.0h0M387.2 496.5h0M335.7 510.2h0M336.9 511.7h0M370.8 546.1h0M315.9 445.9h0M297.2 503.4h0M296.9 517.0h0M341.0 443.1h0M375.7 465.4h0M378.1 502.4h0M379.2 482.1h0M309.5 406.6h0M309.1 390.1h0M325.3 519.2h0M313.2 473.1h0M379.3 441.6h0M308.0 409.6h0M372.1 453.0h0M385.7 483.8h0M320.8 418.6h0M312.6 525.6h0M398.6 417.4h0M317.3 383.4h0M273.2 384.7h0M324.5 484.1h0M321.5 530.4h0M367.4 456.8h0M329.0 437.3h0M327.7 399.0h0M389.0 439.8h0M323.8 538.9h0M386.6 489.4h0M311.0 472.4h0M376.8 509.7h0M339.7 546.2h0M333.1 484.6h0M368.0 433.7h0M322.7 453.3h0M303.4 432.0h0M333.2 466.5h0M323.6 416.7h0M303.0 469.8h0M330.6 415.3h0M330.7 537.2h0M383.0 485.0h0M310.9 426.8h0M394.9 388.2h0M389.7 522.5h0M391.8 398.9h0M425.3 396.9h0M327.7 463.5h0M376.0 423.9h0M338.8 486.4h0M297.3 433.1h0M326.1 490.9h0M398.5 482.1h0M314.7 524.0h0M364.8 446.2h0M397.2 482.0h0M322.0 378.3h0M371.8 417.2h0M303.6 506.3h0M380.6 527.6h0M319.8 502.5h0M407.5 486.0h0M337.8 426.8h0M331.9 415.7h0M315.8 436.5h0M370.6 479.5h0M381.1 415.8h0M360.3 514.9h0M401.7 534.8h0M324.1 410.6h0M361.1 493.9h0M323.8 477.8h0M313.8 505.8h0M298.7 465.1h0M331.4 430.0h0M349.8 521.1h0M386.9 526.8h0M302.1 437.7h0M372.5 526.4h0M312.6 514.1h0M343.3 516.4h0M320.9 491.4h0M368.3 422.7h0M365.9 430.5h0M399.3 516.1h0M299.6 466.6h0M381.2 431.2h0M330.4 489.8h0M309.1 508.4h0M389.1 483.1h0M376.1 517.0h0M326.6 532.1h0M327.3 426.1h0M327.0 432.0h0M381.1 520.7h0M320.3 446.0h0M359.6 508.1h0M383.9 385.2h0M315.4 528.4h0M379.8 497.5h0M347.1 526.4h0M377.6 485.2h0M385.1 463.3h0M328.6 451.7h0M325.5 517.9h0M372.4 435.9h0M305.9 542.1h0M325.7 389.3h0M372.5 510.4h0M301.7 485.5h0M312.5 529.5h0M367.4 518.4h0M311.6 462.6h0M312.5 462.8h0M305.9 440.4h0M373.1 367.0h0M319.1 492.4h0M398.1 434.3h0M386.1 389.5h0M323.6 507.2h0M300.8 532.0h0M337.5 513.7h0M368.5 496.1h0M400.8 475.6h0M348.1 522.7h0M312.7 422.3h0M368.9 493.3h0M381.0 414.1h0M398.1 512.5h0M299.8 529.4h0M344.0 465.0h0M329.8 421.9h0M277.6 546.1h0M370.6 445.8h0M295.3 492.2h0M425.3 504.0h0M301.7 396.4h0M376.2 517.4h0M388.4 477.5h0M329.0 434.7h0M311.1 450.1h0M427.6 445.7h0M325.2 447.2h0M371.0 506.4h0M374.2 421.3h0M343.4 473.4h0M397.8 397.1h0M378.9 444.7h0M334.6 426.4h0M298.0 436.1h0M294.3 459.0h0M314.7 437.2h0M369.0 471.8h0M312.5 407.7h0M325.3 513.3h0M391.7 427.1h0M317.3 441.9h0M374.0 418.7h0M400.7 502.5h0M321.9 389.0h0M380.7 417.7h0M301.7 451.1h0M398.8 492.2h0M366.3 437.6h0M338.3 475.4h0M316.1 399.1h0M349.9 527.5h0M332.4 504.4h0M388.9 462.8h0M374.0 428.9h0M381.8 449.6h0M383.2 432.2h0M347.6 498.1h0M318.7 391.4h0M325.0 447.1h0M314.3 424.7h0M383.3 501.3h0M327.2 380.2h0M386.4 509.0h0M282.3 424.9h0M340.1 444.5h0M361.6 550.9h0M327.0 410.2h0M367.5 474.1h0M409.0 371.9h0M299.3 422.5h0M302.6 459.1h0M323.0 401.4h0M415.8 405.3h0M339.0 515.3h0M384.1 409.8h0M301.3 470.0h0M299.1 415.4h0M382.4 432.2h0M369.5 436.9h0M366.0 420.6h0M321.0 517.1h0M296.2 462.6h0M329.7 443.4h0M399.7 457.1h0M361.7 550.1h0M366.4 523.9h0M391.1 481.4h0M348.1 541.8h0M374.0 455.3h0M341.8 522.1h0M398.1 412.4h0M399.1 411.2h0M311.3 418.9h0M310.1 465.4h0M313.7 391.6h0M344.8 513.8h0M378.2 429.7h0M395.0 425.4h0M338.8 433.3h0M309.5 437.1h0M309.8 453.7h0M388.4 441.1h0M388.3 430.1h0M315.1 474.5h0M298.9 418.9h0M315.7 473.2h0M310.6 524.2h0M368.9 480.9h0M314.5 436.6h0M373.4 431.4h0M315.1 510.3h0M392.8 433.5h0M395.6 538.0h0M400.3 492.0h0M331.6 484.7h0M369.4 530.3h0M322.8 488.1h0M384.9 430.8h0M342.9 543.2h0M326.0 413.4h0M380.5 399.8h0M310.3 537.8h0M297.9 428.0h0M392.5 498.3h0M306.5 445.9h0M398.7 442.3h0M295.2 499.7h0M302.8 408.9h0M318.4 470.0h0M345.6 544.4h0M351.4 536.7h0M348.3 526.9h0M319.5 397.5h0M360.8 542.9h0M301.9 402.5h0M377.1 504.0h0M317.9 522.2h0M389.7 455.2h0M403.0 506.0h0M337.4 475.1h0M365.5 414.1h0M340.3 482.3h0M306.1 414.9h0M315.4 539.7h0M383.1 475.5h0M394.5 453.6h0M390.2 454.6h0M408.9 416.6h0M338.3 544.7h0M310.9 470.9h0M309.1 450.9h0M288.3 472.5h0M424.2 477.9h0M393.5 403.6h0M368.2 502.8h0M337.8 543.6h0M370.3 549.4h0M394.4 421.4h0M332.8 480.4h0M335.4 541.6h0M313.3 433.3h0M336.9 422.3h0M393.1 479.5h0M322.2 415.1h0M322.8 363.2h0M401.9 467.1h0M377.3 470.9h0M280.7 423.7h0M422.7 377.3h0M340.2 458.2h0M309.0 526.7h0M310.9 501.2h0M324.4 468.4h0M369.1 437.8h0M322.3 399.9h0M327.0 478.0h0M429.6 477.0h0M325.3 539.4h0M387.3 459.9h0M305.3 419.7h0M308.4 535.8h0M348.6 548.9h0M335.3 434.1h0M298.8 540.2h0M305.5 462.2h0M324.1 459.7h0M384.4 536.3h0M349.7 540.7h0M311.9 494.7h0M362.9 481.8h0M394.7 459.4h0M388.8 441.2h0M330.4 517.0h0M363.9 489.9h0M324.8 398.5h0M326.7 392.8h0M318.4 536.4h0M323.7 529.3h0M308.2 454.5h0M385.5 499.9h0M297.8 436.2h0M334.4 432.4h0M309.6 455.7h0M390.3 523.4h0M312.5 451.4h0M330.9 442.3h0M315.8 436.1h0M374.1 492.8h0M324.9 456.2h0M360.6 528.0h0M312.0 520.2h0M336.6 510.3h0M338.7 538.8h0M363.6 507.7h0M305.9 525.3h0M328.6 441.2h0M309.8 490.8h0M304.5 471.3h0M372.4 530.9h0M282.6 504.6h0M334.3 507.8h0M373.4 398.3h0M333.9 527.4h0M313.6 426.9h0M362.0 505.8h0M400.0 498.1h0M376.3 433.3h0M319.6 396.0h0M323.5 501.8h0M328.6 529.8h0M386.2 459.2h0M392.0 500.0h0M388.1 531.8h0M326.8 478.9h0M337.8 443.0h0M374.6 482.0h0M343.1 525.9h0M402.0 464.3h0M310.1 498.4h0M394.8 525.5h0M282.8 481.2h0M371.0 476.4h0M369.9 441.3h0M390.7 442.0h0M380.6 409.5h0M331.1 533.3h0M339.7 423.9h0M329.8 432.8h0M382.8 444.9h0M316.6 490.0h0M301.9 498.9h0M401.0 456.0h0M381.1 495.1h0M387.9 520.7h0M324.1 398.4h0M363.4 533.6h0M393.4 393.6h0M339.9 466.9h0M390.6 468.0h0M340.7 441.2h0M320.8 480.8h0M373.8 409.9h0M326.3 444.6h0M390.5 401.5h0M322.6 413.0h0M373.2 441.4h0M321.8 511.0h0M378.0 456.0h0M313.6 431.7h0M330.0 477.8h0M398.6 497.3h0M377.1 447.8h0M400.5 450.9h0M300.0 495.0h0M336.7 410.3h0M384.6 411.0h0M307.9 515.7h0M363.6 456.4h0M335.2 496.0h0M298.7 435.6h0M308.8 441.8h0M307.9 414.4h0M332.3 527.8h0M320.7 508.0h0M336.3 461.1h0M363.8 497.5h0M389.6 396.5h0M384.2 529.0h0M337.9 507.7h0M327.0 478.9h0M421.6 422.7h0M383.5 475.1h0M337.7 534.2h0M376.2 515.2h0M385.2 528.3h0M363.8 472.0h0M294.8 479.3h0M374.0 415.2h0M381.8 514.2h0M361.3 509.2h0M295.9 496.6h0M344.5 502.4h0M334.5 421.0h0M386.4 398.0h0M381.4 432.3h0M367.8 527.8h0M365.1 518.5h0M335.1 543.5h0M312.9 532.6h0M376.0 435.2h0M316.1 515.2h0M386.0 427.7h0M400.6 446.7h0M372.4 394.8h0M402.0 447.8h0M322.5 530.5h0M287.9 486.0h0M310.3 533.8h0M317.5 451.9h0M390.1 421.5h0M335.9 455.0h0M379.7 428.1h0M394.9 474.3h0M415.1 394.6h0M305.8 525.6h0M346.1 510.9h0M344.8 471.9h0M310.4 418.5h0M314.1 439.2h0M280.8 418.6h0M331.5 399.3h0M343.8 479.5h0M306.8 474.4h0M379.0 518.6h0M363.7 532.9h0M330.8 529.2h0M321.5 435.2h0M321.2 398.9h0M364.2 507.5h0M392.0 517.7h0M302.0 479.2h0M374.6 426.7h0M390.5 448.5h0M343.8 538.3h0M313.9 523.4h0M331.7 506.5h0M393.5 439.7h0M399.1 463.3h0M394.4 406.5h0M315.3 476.0h0M283.1 376.8h0M334.3 410.9h0M301.5 416.4h0M387.7 486.7h0M326.1 462.7h0M302.1 449.6h0M399.0 489.4h0M294.8 431.2h0M414.0 436.0h0M380.2 392.5h0M314.0 415.6h0M402.4 503.1h0M290.0 357.9h0M361.3 504.1h0M362.3 462.2h0M300.9 417.1h0M331.8 396.8h0M365.8 539.8h0M295.4 422.3h0M345.9 503.8h0M309.7 501.8h0M296.7 449.5h0M337.7 452.8h0M275.0 426.9h0M392.0 403.6h0M314.5 488.1h0M375.6 393.6h0M301.2 436.3h0M389.7 540.4h0M338.9 533.9h0M413.7 490.7h0M375.1 505.4h0M319.7 413.0h0M372.3 418.3h0M368.5 541.3h0M308.2 389.8h0M400.3 472.7h0M315.0 485.4h0M327.7 409.6h0M309.3 416.4h0M310.0 474.4h0M370.0 510.7h0M301.8 533.9h0M311.7 433.2h0M301.9 465.4h0M345.1 523.0h0M367.3 415.7h0M302.5 535.4h0M313.9 474.1h0M314.8 522.7h0M290.6 515.3h0M377.9 529.7h0M421.2 434.2h0M305.8 426.1h0M307.8 496.1h0M393.5 403.0h0M397.0 501.5h0M295.8 392.0h0M340.3 535.0h0M348.8 506.8h0M317.6 465.1h0M348.1 537.4h0M365.9 513.0h0M367.9 466.2h0M371.1 422.4h0M316.7 440.2h0M314.7 533.7h0M313.0 479.9h0M317.5 404.2h0M347.2 529.6h0M307.0 435.0h0M373.7 437.9h0M365.0 546.9h0M316.9 499.1h0M401.5 474.1h0M306.8 475.2h0M293.6 447.7h0M324.0 439.5h0M383.0 537.0h0M391.2 375.3h0M417.5 493.0h0M368.7 433.9h0M303.0 456.5h0M395.5 445.4h0M349.3 550.7h0M310.2 498.6h0M326.0 525.3h0M314.0 397.7h0M409.3 426.0h0M371.6 489.5h0M331.4 449.6h0M329.3 396.3h0M378.8 407.6h0M392.2 441.1h0M387.5 393.0h0M321.2 377.1h0M360.8 523.5h0M336.8 498.3h0M375.9 494.4h0M324.0 413.9h0M401.1 438.6h0M395.2 497.5h0M294.2 386.2h0M329.2 421.6h0M310.6 492.5h0M373.1 404.2h0M398.5 476.8h0M309.8 421.3h0M334.2 444.7h0M388.5 399.7h0M369.3 542.8h0M369.5 529.0h0M313.3 495.1h0M312.3 448.3h0M302.1 424.9h0M422.6 418.9h0M321.2 368.2h0M322.3 421.1h0M358.4 524.7h0M333.8 438.5h0M323.4 425.1h0M378.5 471.1h0M327.0 472.6h0M377.4 443.6h0M284.7 472.5h0M288.4 362.4h0M399.3 467.5h0M297.4 510.9h0M374.0 538.9h0M321.7 424.4h0M379.5 527.6h0M368.3 494.1h0M371.0 498.8h0M303.6 392.9h0M336.7 471.9h0M372.3 486.7h0M411.7 436.2h0M384.9 390.6h0M372.9 414.2h0M307.8 412.4h0M333.4 509.6h0M380.3 417.7h0M396.0 404.7h0M311.1 478.2h0M330.8 480.7h0M379.1 408.5h0M342.0 455.2h0M395.5 465.0h0M318.2 531.8h0M381.7 432.1h0M360.5 535.6h0M350.9 542.4h0M336.5 408.2h0M328.0 542.8h0M376.9 468.1h0M393.2 468.2h0M338.8 422.4h0M325.5 473.0h0M379.1 392.1h0M375.1 539.6h0M367.3 542.9h0M320.7 483.7h0M386.7 468.8h0M425.1 482.9h0M348.2 519.1h0M337.2 441.7h0M360.6 502.8h0M307.6 361.5h0M372.1 415.2h0M371.5 423.9h0M379.3 522.2h0M324.3 479.7h0M344.0 547.9h0M392.3 442.2h0M369.2 513.8h0M362.8 459.6h0M331.8 417.0h0M331.7 449.5h0M305.1 509.9h0M387.6 488.5h0M307.6 433.3h0M380.0 467.9h0M308.8 451.4h0M433.9 480.9h0M310.3 450.6h0M329.5 470.0h0M380.5 417.0h0M371.6 411.6h0M392.7 407.9h0M298.5 390.0h0M347.0 547.2h0M307.2 455.2h0M371.6 480.1h0M378.6 440.7h0M396.3 386.3h0M296.8 505.1h0M348.9 551.7h0M320.8 383.1h0M316.9 425.2h0M296.8 515.7h0M324.9 414.8h0M384.6 405.4h0M385.6 495.1h0M382.0 513.2h0M328.8 484.2h0M378.7 455.5h0M327.2 469.8h0M334.5 437.0h0M333.1 470.7h0M308.2 453.5h0M392.8 419.9h0M305.4 411.6h0M375.4 370.7h0M366.7 425.3h0M303.0 501.6h0M370.9 531.8h0M297.4 513.0h0M364.9 466.7h0M385.7 523.3h0M315.3 525.7h0M310.9 478.5h0M314.1 412.8h0M364.3 521.7h0M325.3 465.7h0M361.6 507.7h0M342.7 506.3h0M360.9 501.0h0M335.2 502.5h0M305.2 486.6h0M428.6 412.2h0M311.1 474.5h0M362.1 547.2h0M429.6 493.9h0M388.7 528.2h0M315.5 409.2h0M375.2 466.2h0M394.6 434.4h0M305.2 530.2h0M374.0 364.7h0M295.5 471.3h0M371.5 431.8h0M344.7 530.8h0M393.8 376.7h0M299.0 462.7h0M378.2 473.4h0M393.7 488.1h0M325.6 467.2h0M361.3 523.1h0M322.5 495.7h0M416.0 358.9h0M349.7 552.0h0M318.3 520.6h0M395.4 369.2h0M311.8 447.5h0M369.2 436.3h0M333.9 534.7h0M303.3 392.4h0M395.7 533.2h0M393.2 434.0h0M361.6 484.9h0M384.1 537.0h0M400.5 474.1h0M317.8 544.1h0M370.6 503.4h0M308.6 484.1h0M308.7 414.6h0M397.9 489.9h0M322.9 493.8h0M321.5 484.0h0M326.8 471.7h0M337.5 467.6h0M309.3 448.7h0M297.6 503.7h0M337.8 486.9h0M387.1 453.2h0M380.5 417.1h0M368.0 471.2h0M363.7 439.4h0M362.2 445.9h0M378.7 450.4h0M344.2 520.3h0M367.9 405.8h0M329.3 501.9h0M334.2 494.0h0M311.7 508.0h0M305.6 419.9h0M363.1 535.8h0M424.8 481.1h0M295.7 451.3h0M316.8 533.1h0M400.7 426.5h0M372.2 511.4h0M384.6 492.4h0M372.2 469.6h0M300.4 534.3h0M293.8 485.9h0M329.6 507.9h0M340.1 531.6h0M392.7 416.8h0M399.7 508.0h0M293.7 461.5h0M282.1 396.9h0M295.1 455.9h0M373.9 492.3h0M329.6 532.8h0M339.0 544.5h0M400.1 384.0h0M390.8 531.3h0M322.0 507.8h0M395.4 439.0h0M287.9 376.6h0M386.4 390.0h0M398.0 460.6h0M367.8 407.2h0M320.5 441.6h0M426.0 448.4h0M376.6 398.5h0M402.1 490.2h0M327.4 393.0h0M318.7 396.8h0M333.2 494.0h0M297.1 427.7h0M373.7 393.8h0M324.9 481.2h0M305.3 397.6h0M321.4 392.7h0M322.4 493.4h0M321.1 495.4h0M314.4 518.1h0M333.6 426.5h0M423.1 428.8h0M306.8 395.2h0M337.9 447.9h0M383.9 506.5h0M320.0 443.3h0M381.7 439.5h0M371.3 471.5h0M327.8 482.7h0M367.0 534.5h0M361.1 530.3h0M295.8 443.2h0M421.1 502.7h0M401.3 476.0h0M374.4 504.2h0M316.0 521.0h0M302.5 476.2h0M325.5 441.8h0M397.7 479.0h0M318.7 422.4h0M317.7 419.3h0M311.6 496.6h0M382.4 532.7h0M323.0 487.5h0M299.0 412.7h0M342.3 485.2h0M393.6 431.9h0M334.9 511.0h0M343.3 459.9h0M332.8 484.8h0M297.0 434.9h0M311.2 526.5h0M360.7 473.2h0M330.8 535.0h0M359.1 550.5h0M343.3 530.0h0M325.6 401.2h0M365.5 509.5h0M293.0 424.2h0M328.2 470.2h0M317.2 475.4h0M380.2 483.4h0M366.5 420.1h0M381.1 539.2h0M323.8 417.7h0M304.0 442.8h0M342.8 477.8h0M299.7 446.3h0M396.8 408.7h0M299.5 527.3h0M282.3 490.9h0M313.2 506.1h0M390.1 401.4h0M363.1 549.8h0M391.0 422.9h0M389.1 535.4h0M294.2 473.8h0M304.6 426.2h0M371.7 495.2h0M429.0 391.1h0M319.7 507.4h0M346.2 534.2h0M363.4 499.7h0M392.1 447.1h0M367.3 433.6h0M373.7 543.7h0M340.9 435.3h0M416.6 431.0h0M337.1 439.0h0M390.9 435.6h0M375.0 510.1h0M364.4 518.5h0M326.9 533.0h0M308.0 465.4h0M312.4 540.2h0M293.5 452.8h0M322.8 457.2h0M308.2 438.2h0M326.1 517.7h0M318.5 502.3h0M368.7 423.9h0M370.0 459.0h0M298.1 511.9h0M331.7 367.6h0M311.6 498.1h0M338.0 547.7h0M322.1 383.2h0M372.2 539.9h0M400.5 470.8h0M391.6 513.5h0M324.4 425.8h0M278.5 450.2h0M381.5 397.2h0M376.8 435.1h0M385.3 528.7h0M295.1 493.5h0M315.9 436.0h0M343.5 487.7h0M385.6 428.7h0M327.4 426.4h0M312.9 518.4h0M397.6 400.9h0M295.0 450.7h0M386.9 485.1h0M345.8 548.2h0M380.1 537.7h0M304.3 448.0h0M301.4 485.1h0M307.8 428.5h0M331.2 377.3h0M400.4 428.6h0M338.1 528.5h0M342.8 458.4h0M393.2 502.5h0M337.3 467.2h0M315.1 398.5h0M325.3 425.3h0M371.9 397.6h0M371.8 454.2h0M334.2 439.0h0M382.2 513.9h0M332.3 439.2h0M314.2 382.6h0M406.5 494.6h0M377.6 540.0h0M316.4 541.7h0M354.4 547.4h0M394.4 463.5h0M328.7 382.8h0M414.5 485.1h0M337.7 478.9h0M369.3 464.5h0M312.0 461.2h0M345.4 521.5h0M332.1 498.9h0M323.6 406.9h0M276.8 508.7h0M309.8 366.2h0M305.3 477.5h0M340.9 541.0h0M321.7 504.8h0M410.2 430.9h0M368.1 499.8h0M332.2 486.2h0M358.9 518.0h0M317.1 470.6h0M390.9 399.3h0M307.6 414.1h0M292.4 424.7h0M297.4 485.0h0M298.8 378.2h0M398.5 373.0h0M385.6 428.0h0M384.6 477.3h0M334.6 531.1h0M295.4 485.4h0M324.6 503.7h0M376.5 462.6h0M367.3 475.9h0M388.9 444.7h0M334.5 404.0h0M296.3 487.5h0M314.2 453.5h0M394.8 514.6h0M364.6 436.7h0M393.2 487.1h0M406.9 358.4h0M398.8 536.1h0M363.8 518.6h0M300.0 444.7h0M362.7 455.6h0M306.9 438.5h0M383.6 456.0h0M326.7 438.1h0M298.4 487.3h0M305.0 528.0h0M324.7 418.5h0M324.7 523.4h0M318.0 526.3h0M299.8 405.2h0M305.1 430.0h0M364.8 459.8h0M298.4 528.0h0M312.0 363.1h0M366.5 434.0h0M326.1 373.1h0M343.8 501.7h0M313.9 421.1h0M326.1 514.7h0M388.1 420.7h0M371.5 522.7h0M367.6 403.7h0M387.3 449.8h0M335.8 407.9h0M368.4 477.4h0M339.9 466.4h0M398.9 471.4h0M323.2 539.3h0M299.0 421.4h0M387.5 403.1h0M391.9 530.8h0M318.3 458.5h0M298.5 461.0h0M358.6 525.4h0M301.9 435.1h0M324.4 453.5h0M388.7 395.1h0M346.5 530.9h0M313.5 372.6h0M374.8 486.4h0M325.7 424.0h0M390.1 528.8h0M388.4 425.5h0M386.6 460.5h0M374.9 424.3h0M311.4 472.8h0M287.9 421.6h0M380.5 536.6h0M315.3 546.7h0M327.8 481.4h0M316.0 412.2h0M312.2 406.2h0M364.1 487.8h0M379.0 402.6h0M391.6 428.2h0M317.7 490.3h0M365.4 442.6h0M377.8 396.1h0M306.4 378.4h0M384.3 458.1h0M329.4 409.1h0M364.5 504.9h0M372.0 446.5h0M397.0 525.6h0M298.7 520.9h0M297.7 493.0h0M316.3 439.3h0M332.9 476.2h0M300.6 478.8h0M329.1 487.4h0M343.2 494.7h0M384.9 442.9h0M292.5 520.9h0M307.5 445.4h0M321.2 488.0h0M395.8 459.3h0M322.7 406.0h0M328.5 540.0h0M422.8 475.9h0M342.5 451.6h0M323.9 452.2h0M391.0 509.9h0M378.8 462.7h0M370.9 493.7h0M302.8 507.0h0M302.7 410.5h0M393.9 454.6h0M299.4 437.9h0M363.6 432.9h0M366.2 533.0h0M414.2 437.7h0M305.6 512.1h0M384.6 521.2h0M301.6 507.2h0M366.8 452.3h0M382.3 378.5h0M335.9 422.3h0M334.4 477.7h0M325.1 409.0h0M393.8 463.4h0M370.4 443.5h0M333.9 477.9h0M371.8 511.5h0M370.4 418.5h0M384.3 458.9h0M369.0 495.1h0M372.2 463.5h0M389.8 363.2h0M339.8 499.0h0M388.8 455.6h0M368.7 498.8h0M397.7 430.0h0M377.8 476.6h0M337.7 505.6h0M367.8 490.9h0M424.3 440.6h0M333.6 492.7h0M336.4 453.7h0M370.8 459.2h0M318.0 408.8h0M393.4 483.3h0M376.8 447.6h0M305.1 388.0h0M374.9 409.6h0M361.1 514.4h0M336.1 464.2h0M367.0 481.9h0M368.5 548.3h0M365.0 481.0h0M295.1 458.9h0M384.4 501.2h0M436.2 442.6h0M307.4 446.0h0M372.1 416.4h0M310.6 407.8h0M333.9 549.4h0M314.6 469.6h0M301.3 455.5h0M337.7 474.2h0M338.2 504.1h0M365.4 473.3h0M368.4 411.5h0M406.0 500.9h0M400.2 495.5h0M362.4 505.0h0M296.7 362.9h0M380.1 424.5h0M401.1 459.5h0M377.0 454.7h0M307.9 524.4h0M411.0 505.9h0M332.5 499.6h0M309.0 492.1h0M421.4 426.6h0M295.7 513.3h0M303.8 523.7h0M374.3 421.6h0M393.7 404.3h0M339.9 454.2h0M393.8 465.6h0M367.6 486.2h0M368.1 473.1h0M380.7 399.1h0M307.9 481.1h0M398.3 507.4h0M394.5 403.0h0M288.5 437.1h0M340.7 468.9h0M316.3 440.1h0M398.1 458.8h0M429.8 398.4h0M365.7 443.9h0M360.1 550.6h0M332.3 499.4h0M388.2 424.4h0M387.7 514.4h0M338.3 487.4h0M390.1 403.4h0M303.7 452.2h0M360.9 489.2h0M294.0 389.3h0M391.4 493.8h0M324.4 402.7h0M380.6 539.4h0M375.6 409.6h0M289.2 500.2h0M349.0 512.8h0M380.9 381.3h0M298.4 509.2h0M326.1 519.1h0M327.8 518.7h0M372.7 518.5h0M348.5 534.0h0M383.1 457.3h0M379.6 514.3h0M414.3 442.2h0M303.2 478.0h0M304.0 430.1h0M373.0 403.3h0M385.4 495.2h0M326.3 424.5h0M333.8 441.5h0M378.8 439.6h0M323.4 523.1h0M335.2 505.0h0M317.4 505.2h0M311.6 507.0h0M302.7 491.7h0M319.8 544.0h0M303.1 474.7h0M316.9 491.3h0M364.0 532.0h0M309.4 408.2h0M390.2 447.8h0M340.9 480.0h0M330.6 429.6h0M334.9 492.9h0M316.6 397.9h0M417.9 468.7h0M303.5 462.3h0M373.7 517.1h0M375.6 409.9h0M387.3 460.4h0M343.7 461.5h0M298.5 457.1h0M281.9 506.0h0M391.7 453.0h0M376.0 446.2h0M388.8 406.8h0M372.8 454.5h0M410.0 406.2h0M328.1 417.3h0M326.8 507.9h0M300.2 430.3h0M376.2 531.8h0M331.5 491.4h0M390.2 431.0h0M395.4 454.0h0M374.9 394.8h0M297.9 490.2h0M308.0 451.3h0M355.3 547.2h0M381.9 544.3h0M406.2 531.9h0M343.5 518.9h0M383.7 544.1h0M388.9 500.4h0M359.7 516.5h0M324.2 533.5h0M324.8 409.0h0M317.2 437.0h0M385.8 387.9h0M334.7 536.3h0M381.9 416.1h0M324.6 433.0h0M300.7 523.1h0M324.4 444.6h0M376.4 401.5h0M387.2 525.0h0M306.8 420.1h0M330.8 531.3h0M323.8 481.0h0M322.9 405.9h0M389.9 396.9h0M382.6 415.1h0M303.3 435.8h0M325.0 395.5h0M397.3 492.4h0M287.1 455.7h0M337.3 539.1h0M395.1 450.5h0M384.1 361.1h0M400.2 455.2h0M376.9 541.6h0M376.1 451.4h0M319.4 544.7h0M381.8 475.5h0M340.2 505.4h0M329.3 504.6h0M393.2 463.1h0M383.8 474.9h0M391.1 501.2h0M316.0 488.9h0M369.9 382.3h0M368.8 462.6h0M339.1 525.9h0M392.3 385.3h0M293.6 488.2h0M364.1 489.7h0M336.0 416.6h0M341.9 523.6h0M314.7 538.2h0M363.1 452.1h0M427.4 415.1h0M383.4 436.0h0M345.5 545.6h0M314.8 519.0h0M330.9 479.6h0M300.5 361.4h0M293.9 443.6h0M337.3 408.3h0M346.8 520.3h0M299.3 519.0h0M391.5 484.2h0M295.6 390.4h0M327.0 374.3h0M422.0 435.9h0M331.0 501.7h0M397.4 502.3h0M297.7 472.3h0M379.9 463.2h0M367.9 518.7h0M379.5 512.6h0M402.1 474.8h0M327.5 445.9h0M344.7 484.9h0M371.7 372.8h0M343.6 525.5h0M312.1 492.3h0M384.2 493.3h0M384.9 381.9h0M335.1 411.1h0M332.5 544.0h0M393.1 407.6h0M370.9 526.9h0M336.5 405.0h0M299.8 469.4h0M397.8 414.2h0M381.4 454.4h0M299.0 513.3h0M378.5 546.3h0M326.8 420.5h0M342.1 464.2h0M306.1 504.2h0M329.0 517.8h0M397.4 414.5h0M388.0 424.8h0M380.5 456.5h0M340.0 529.0h0M324.1 407.1h0M346.7 516.0h0M383.8 457.9h0M319.7 540.1h0M303.4 444.5h0M338.6 494.4h0M334.4 529.7h0M330.4 515.0h0M316.7 521.1h0M365.9 414.6h0M291.6 524.1h0M281.9 492.0h0M370.1 402.7h0M380.4 483.0h0M394.3 475.9h0M397.9 502.7h0M309.4 520.4h0M342.8 521.3h0M391.8 425.1h0M339.0 469.0h0M296.8 512.9h0M293.3 455.9h0M307.2 431.6h0M304.2 440.1h0M307.5 493.0h0M406.3 502.3h0M313.9 406.1h0M344.8 490.0h0M326.2 486.0h0M315.1 472.9h0M279.0 399.2h0M372.9 453.6h0M374.9 523.7h0M345.1 551.2h0M331.1 382.9h0M299.5 520.4h0M293.4 447.0h0M324.6 388.5h0M335.3 453.1h0M393.2 448.0h0M305.0 466.2h0M277.3 456.8h0M418.1 496.5h0M333.5 402.2h0M314.4 471.1h0M318.6 444.6h0M395.1 530.6h0M323.5 457.1h0M303.6 460.8h0M331.6 385.2h0M395.3 368.3h0M385.2 417.4h0M343.1 480.6h0M316.4 476.0h0M435.2 406.4h0M330.4 449.7h0M373.6 487.7h0M374.5 526.7h0M391.8 395.8h0M393.8 517.2h0M321.3 492.5h0M386.4 507.2h0M324.6 477.8h0M401.1 478.8h0M340.4 480.6h0M298.7 511.3h0M396.3 523.9h0M319.4 534.2h0M327.9 521.9h0M323.1 484.5h0M296.5 416.7h0M325.9 540.7h0M297.8 439.5h0M385.6 388.4h0M385.5 531.0h0M377.0 393.5h0M318.3 445.6h0M382.7 517.5h0M318.1 536.0h0M386.9 410.5h0M334.2 523.0h0M319.2 413.8h0M320.7 393.6h0M374.5 451.1h0M274.8 390.7h0M312.1 424.5h0M343.6 465.9h0M311.4 493.5h0M332.5 469.0h0M374.8 515.5h0M330.6 433.1h0M345.4 539.5h0M388.8 435.5h0M355.2 550.8h0M324.1 399.7h0M370.0 536.1h0M309.3 465.8h0M389.8 482.0h0M375.6 439.1h0M363.4 464.8h0M328.3 468.8h0M313.9 534.0h0M297.3 446.3h0M402.6 390.2h0M305.9 473.1h0M374.3 433.9h0M288.6 422.6h0M358.7 538.6h0M308.7 427.8h0M304.5 535.4h0M335.6 452.7h0M370.6 545.4h0M315.5 532.9h0M367.4 431.9h0M332.6 469.5h0M364.5 457.1h0M299.3 444.5h0M344.5 477.7h0M338.9 432.7h0M308.9 446.6h0M335.1 456.2h0M313.1 474.3h0M373.8 426.1h0M301.3 439.6h0M365.7 484.8h0M330.7 394.4h0M314.5 498.7h0M296.4 529.6h0M396.6 422.4h0M306.3 412.1h0M325.6 517.8h0M309.6 407.6h0M387.6 507.1h0M389.5 446.4h0M337.6 513.0h0M396.0 520.8h0M366.8 543.3h0M387.5 502.6h0M390.5 513.4h0M336.0 430.3h0M304.7 498.9h0M317.5 434.2h0M307.9 446.2h0M346.6 496.9h0M286.1 433.6h0M310.1 425.2h0M332.4 515.9h0M330.8 437.4h0M305.3 451.5h0M323.0 436.2h0M314.8 517.7h0M396.0 483.9h0M381.1 533.3h0M398.2 484.7h0M365.9 471.7h0M322.7 522.8h0M374.0 433.3h0M398.1 414.0h0M400.3 424.7h0M276.2 498.6h0M299.6 508.8h0M342.8 456.3h0M304.4 498.1h0M384.6 455.1h0M313.3 417.1h0M388.7 386.9h0M300.0 468.7h0M324.6 440.0h0M388.2 518.7h0M326.5 464.1h0M319.7 531.7h0M316.2 412.1h0M292.8 402.8h0M390.8 380.1h0M316.6 518.8h0M383.3 507.5h0M402.1 446.8h0M328.3 405.8h0M378.3 534.1h0M385.7 387.1h0M330.7 467.1h0M309.5 473.5h0M399.5 460.3h0M326.6 536.2h0M325.9 534.6h0M327.4 436.1h0M296.3 526.4h0M370.0 536.7h0M360.6 534.2h0M302.2 424.2h0M381.5 415.3h0M343.2 533.6h0M391.0 492.3h0M316.3 521.7h0M315.5 532.2h0M369.9 420.9h0M312.6 457.5h0M284.0 490.4h0M325.5 427.7h0M344.5 478.6h0M332.0 472.0h0M311.7 408.2h0M393.8 538.2h0M309.3 455.8h0M333.7 411.3h0M328.0 412.1h0M295.2 501.5h0M375.4 503.4h0M339.3 544.0h0M392.6 448.4h0M375.1 383.9h0M307.7 533.8h0M388.1 520.2h0M381.8 466.9h0M301.1 510.0h0M309.1 446.0h0M332.3 475.6h0M387.0 459.8h0M360.7 512.6h0M320.0 376.1h0M344.1 489.1h0M366.0 510.9h0M395.3 439.0h0M363.7 496.3h0M353.8 538.3h0M284.3 386.2h0M380.0 422.2h0M326.9 495.6h0M338.3 465.9h0M381.7 468.2h0M362.1 529.9h0M314.8 448.3h0M392.5 443.4h0M363.6 500.0h0M393.5 413.0h0M299.2 446.0h0M338.4 482.2h0M393.8 498.7h0M375.0 406.1h0M327.3 444.9h0M384.8 543.1h0M381.8 516.3h0M342.6 530.8h0M309.5 483.7h0M357.2 544.0h0M371.6 502.0h0M374.2 531.3h0M366.5 426.4h0M299.2 415.9h0M338.2 529.2h0M399.5 441.9h0M381.1 410.3h0M381.5 542.8h0M396.3 495.9h0M330.6 443.5h0M305.9 524.7h0M339.5 548.5h0M322.2 545.8h0M378.7 524.1h0M400.2 505.0h0M314.1 436.4h0M303.9 512.0h0M340.4 523.7h0M297.9 517.8h0M336.7 436.3h0M287.0 496.6h0M347.7 546.2h0M367.4 410.5h0M313.7 502.2h0M302.9 517.1h0M299.9 456.6h0M304.4 418.4h0M289.7 415.0h0M330.1 422.5h0M315.0 414.4h0M395.7 520.2h0M403.6 369.1h0M391.1 470.6h0M393.0 432.4h0M376.5 501.8h0M347.1 522.9h0M379.6 464.9h0M407.7 509.9h0M362.1 505.0h0M319.6 488.6h0M386.7 541.1h0M369.9 521.5h0M332.2 403.8h0M400.8 485.6h0M381.6 538.1h0M385.9 505.7h0M396.4 409.7h0M421.3 432.1h0M350.7 529.9h0M379.5 526.1h0M297.5 531.6h0M341.8 477.7h0M334.5 395.5h0M342.0 520.7h0M370.5 550.0h0M313.7 404.1h0M320.4 402.0h0M303.4 448.8h0M302.7 504.0h0M308.7 514.3h0M346.9 534.3h0M306.5 398.4h0M386.4 380.7h0M314.1 508.6h0M371.2 535.8h0M315.3 452.6h0M340.1 442.8h0M326.8 478.7h0M304.4 534.1h0M376.5 483.6h0M317.9 438.0h0M359.8 518.2h0M381.3 412.2h0M331.8 465.5h0M340.7 441.6h0M307.6 399.3h0M306.3 517.9h0M321.9 486.5h0M316.6 463.0h0M380.4 472.7h0M332.6 396.0h0M375.4 435.7h0M313.9 423.8h0M327.0 449.4h0M327.7 497.1h0M387.3 498.6h0M302.3 510.0h0M388.3 417.5h0M304.5 436.9h0M367.2 503.2h0M383.9 426.4h0M319.6 394.6h0M302.4 442.2h0M369.5 393.4h0M298.3 497.1h0M376.2 445.9h0M301.5 431.6h0M398.2 445.2h0M307.5 463.3h0M322.3 455.5h0M312.5 541.9h0M398.1 380.3h0M364.5 543.1h0M332.6 471.3h0M394.1 408.7h0M321.5 431.0h0M302.6 479.1h0M394.3 407.3h0M289.4 522.8h0M314.3 462.9h0M388.9 400.6h0M394.2 515.8h0M343.0 542.9h0M388.1 450.2h0M291.1 483.2h0M321.7 434.4h0M312.7 408.8h0M396.0 445.6h0M335.0 394.7h0M333.3 478.6h0M331.1 393.3h0M341.6 536.4h0M355.2 541.2h0M375.6 429.7h0M392.8 440.5h0M313.8 429.8h0M328.0 414.6h0M375.8 405.8h0M329.9 466.3h0M400.6 493.5h0M333.1 422.7h0M307.5 451.7h0M337.2 520.8h0M296.0 482.5h0M367.5 469.8h0M387.1 466.0h0M362.8 444.2h0M318.4 446.5h0M338.4 448.9h0M314.3 539.0h0M304.8 478.6h0M304.6 402.2h0M307.3 447.9h0M436.2 501.1h0M309.9 417.1h0M307.8 393.0h0M325.5 545.2h0M342.1 480.6h0M376.5 468.1h0M381.3 437.6h0M338.7 482.2h0M350.4 534.0h0M420.4 436.1h0M320.5 458.0h0M322.8 469.7h0M326.9 527.4h0M301.7 438.2h0M302.1 427.3h0M408.8 420.1h0M345.6 551.5h0M295.6 436.8h0M326.4 463.6h0M380.5 395.4h0M377.6 380.4h0M331.0 526.2h0M324.3 465.6h0M335.8 530.9h0M316.3 495.5h0M308.5 504.5h0" stroke="#BEBEBE" stroke-width="5.8" stroke-linecap="round" fill="none"/>
<path d="M222.0 372.2h0M247.1 378.0h0M255.8 378.9h0M252.3 360.5h0M255.8 395.9h0M237.4 400.8h0M241.8 405.7h0M233.9 408.7h0M248.0 409.2h0M261.1 408.2h0M262.9 400.8h0M265.5 402.6h0M250.6 417.4h0M266.0 418.7h0M245.0 426.7h0M255.8 425.7h0M258.5 427.1h0M261.1 429.7h0M265.5 427.1h0M249.7 439.7h0M235.7 446.0h0M266.0 446.0h0M225.7 453.9h0M245.0 451.3h0M248.8 456.0h0M236.6 466.0h0M241.5 466.5h0M260.8 471.8h0M255.3 474.9h0M236.2 478.4h0M246.7 480.5h0M246.2 486.7h0M252.3 485.8h0M264.3 487.5h0M253.7 491.9h0M246.2 497.5h0M260.2 497.5h0M260.2 502.4h0M220.8 502.1h0M227.5 506.4h0M266.0 507.7h0M252.3 510.3h0M240.1 516.4h0M255.0 516.4h0M254.1 525.9h0M269.0 525.9h0M237.0 371.0h0M244.0 365.0h0M258.0 366.0h0M264.0 372.0h0M250.0 389.0h0M261.0 385.0h0M503.1 362.3h0M479.0 371.8h0M546.2 377.5h0M447.1 377.5h0M457.5 381.8h0M497.4 379.0h0M490.4 389.0h0M444.8 396.1h0M450.5 396.4h0M455.6 395.1h0M457.5 395.7h0M445.6 403.3h0M456.6 404.6h0M472.1 406.1h0M481.6 405.0h0M492.3 407.1h0M445.6 415.0h0M447.1 416.9h0M449.0 417.3h0M469.9 420.4h0M449.0 424.1h0M457.1 430.2h0M482.8 434.0h0M450.9 436.9h0M454.3 437.4h0M444.8 442.0h0M455.1 442.9h0M467.0 447.7h0M439.9 462.5h0M446.1 466.7h0M464.5 481.5h0M449.9 489.4h0M449.0 496.3h0M487.3 493.8h0M488.8 502.3h0M449.0 503.3h0M440.4 505.2h0M451.3 507.7h0M458.1 505.2h0M459.4 507.1h0M461.9 510.9h0M564.3 386.8h0M447.0 377.1h0M479.2 371.2h0M497.2 378.3h0" stroke="#EFA21C" stroke-width="5.8" stroke-linecap="round" fill="none"/>
<path d="M222.0 372.2h0M247.1 378.0h0M255.8 378.9h0M252.3 360.5h0M255.8 395.9h0M237.4 400.8h0M241.8 405.7h0M233.9 408.7h0M248.0 409.2h0M261.1 408.2h0M262.9 400.8h0M265.5 402.6h0M250.6 417.4h0M266.0 418.7h0M245.0 426.7h0M255.8 425.7h0M258.5 427.1h0M261.1 429.7h0M265.5 427.1h0M249.7 439.7h0M235.7 446.0h0M266.0 446.0h0M225.7 453.9h0M245.0 451.3h0M248.8 456.0h0M236.6 466.0h0M241.5 466.5h0M260.8 471.8h0M255.3 474.9h0M236.2 478.4h0M246.7 480.5h0M246.2 486.7h0M252.3 485.8h0M264.3 487.5h0M253.7 491.9h0M246.2 497.5h0M260.2 497.5h0M260.2 502.4h0M220.8 502.1h0M227.5 506.4h0M266.0 507.7h0M252.3 510.3h0M240.1 516.4h0M255.0 516.4h0M254.1 525.9h0M269.0 525.9h0M237.0 371.0h0M244.0 365.0h0M258.0 366.0h0M264.0 372.0h0M250.0 389.0h0M261.0 385.0h0M503.1 362.3h0M479.0 371.8h0M546.2 377.5h0M447.1 377.5h0M457.5 381.8h0M497.4 379.0h0M490.4 389.0h0M444.8 396.1h0M450.5 396.4h0M455.6 395.1h0M457.5 395.7h0M445.6 403.3h0M456.6 404.6h0M472.1 406.1h0M481.6 405.0h0M492.3 407.1h0M445.6 415.0h0M447.1 416.9h0M449.0 417.3h0M469.9 420.4h0M449.0 424.1h0M457.1 430.2h0M482.8 434.0h0M450.9 436.9h0M454.3 437.4h0M444.8 442.0h0M455.1 442.9h0M467.0 447.7h0M439.9 462.5h0M446.1 466.7h0M464.5 481.5h0M449.9 489.4h0M449.0 496.3h0M487.3 493.8h0M488.8 502.3h0M449.0 503.3h0M440.4 505.2h0M451.3 507.7h0M458.1 505.2h0M459.4 507.1h0M461.9 510.9h0M564.3 386.8h0M447.0 377.1h0M479.2 371.2h0M497.2 378.3h0" stroke="#F8AE2C" stroke-width="4.7" stroke-linecap="round" fill="none"/>
<path d="M390.7 224.5h0M431.5 225.8h0M414.0 235.4h0M405.5 240.1h0M419.6 248.5h0M388.0 252.9h0M406.4 259.4h0M412.6 252.9h0M380.7 267.8h0M383.3 273.1h0M400.0 269.6h0M414.7 268.7h0M417.0 269.0h0M419.2 278.7h0M388.6 285.3h0M426.6 285.7h0M388.1 252.9h0M399.1 269.0h0M373.7 299.2h0M284.0 275.2h0M296.2 275.2h0M290.5 296.2h0M301.9 294.5h0M284.0 241.9h0M318.7 278.4h0M316.6 305.4h0M301.7 315.9h0M285.0 319.4h0M296.4 319.4h0M390.4 224.4h0M289.7 296.6h0M301.5 295.7h0M315.3 304.9h0M311.4 309.5h0M301.5 315.4h0M295.0 316.0h0M289.7 318.7h0M283.1 320.0h0M297.6 319.3h0M272.6 330.5h0M280.5 333.1h0M281.8 339.0h0M289.7 337.0h0M298.9 339.0h0M306.8 338.4h0M313.4 337.0h0M318.6 335.7h0M318.0 341.6h0M318.6 347.6h0M317.3 351.5h0M276.0 336.0h0M285.0 335.0h0M293.0 334.0h0M303.0 333.0h0M310.0 336.0h0M286.0 341.0h0M294.0 340.0h0M302.0 341.0h0M277.0 340.0h0M283.9 319.8h0M289.8 317.8h0M294.4 316.5h0M301.6 315.2h0M290.2 296.1h0M302.0 294.4h0M316.8 306.0h0M283.9 274.7h0M296.0 274.2h0M388.1 285.7h0M426.8 286.5h0M374.2 300.3h0M376.4 310.1h0M391.0 311.3h0M399.0 311.3h0M399.7 306.9h0M395.4 306.9h0M387.3 315.7h0M391.7 315.7h0M393.9 320.8h0M395.4 323.7h0M423.8 308.4h0M426.8 308.4h0M403.4 331.7h0M402.7 335.4h0M409.2 328.8h0M415.1 328.1h0M388.8 336.8h0M393.2 336.8h0M400.5 340.5h0M412.9 339.7h0M426.8 339.7h0M431.1 338.3h0M438.4 338.7h0M396.0 327.0h0M406.0 337.0h0M420.0 334.0h0M430.0 342.0h0M398.0 318.0h0M385.0 326.0h0M380.0 331.0h0M414.0 346.0h0M404.0 348.0h0M394.0 350.0h0M384.0 345.0h0M422.0 349.0h0M434.0 350.0h0M375.0 343.0h0M366.0 340.0h0M360.0 345.0h0M352.0 350.0h0M346.0 341.0h0M338.0 338.0h0M330.0 342.0h0M325.0 347.0h0M335.0 350.0h0M343.0 352.0h0M372.0 352.0h0M380.0 353.0h0" stroke="#9636E2" stroke-width="5.8" stroke-linecap="round" fill="none"/>
<path d="M390.7 224.5h0M431.5 225.8h0M414.0 235.4h0M405.5 240.1h0M419.6 248.5h0M388.0 252.9h0M406.4 259.4h0M412.6 252.9h0M380.7 267.8h0M383.3 273.1h0M400.0 269.6h0M414.7 268.7h0M417.0 269.0h0M419.2 278.7h0M388.6 285.3h0M426.6 285.7h0M388.1 252.9h0M399.1 269.0h0M373.7 299.2h0M284.0 275.2h0M296.2 275.2h0M290.5 296.2h0M301.9 294.5h0M284.0 241.9h0M318.7 278.4h0M316.6 305.4h0M301.7 315.9h0M285.0 319.4h0M296.4 319.4h0M390.4 224.4h0M289.7 296.6h0M301.5 295.7h0M315.3 304.9h0M311.4 309.5h0M301.5 315.4h0M295.0 316.0h0M289.7 318.7h0M283.1 320.0h0M297.6 319.3h0M272.6 330.5h0M280.5 333.1h0M281.8 339.0h0M289.7 337.0h0M298.9 339.0h0M306.8 338.4h0M313.4 337.0h0M318.6 335.7h0M318.0 341.6h0M318.6 347.6h0M317.3 351.5h0M276.0 336.0h0M285.0 335.0h0M293.0 334.0h0M303.0 333.0h0M310.0 336.0h0M286.0 341.0h0M294.0 340.0h0M302.0 341.0h0M277.0 340.0h0M283.9 319.8h0M289.8 317.8h0M294.4 316.5h0M301.6 315.2h0M290.2 296.1h0M302.0 294.4h0M316.8 306.0h0M283.9 274.7h0M296.0 274.2h0M388.1 285.7h0M426.8 286.5h0M374.2 300.3h0M376.4 310.1h0M391.0 311.3h0M399.0 311.3h0M399.7 306.9h0M395.4 306.9h0M387.3 315.7h0M391.7 315.7h0M393.9 320.8h0M395.4 323.7h0M423.8 308.4h0M426.8 308.4h0M403.4 331.7h0M402.7 335.4h0M409.2 328.8h0M415.1 328.1h0M388.8 336.8h0M393.2 336.8h0M400.5 340.5h0M412.9 339.7h0M426.8 339.7h0M431.1 338.3h0M438.4 338.7h0M396.0 327.0h0M406.0 337.0h0M420.0 334.0h0M430.0 342.0h0M398.0 318.0h0M385.0 326.0h0M380.0 331.0h0M414.0 346.0h0M404.0 348.0h0M394.0 350.0h0M384.0 345.0h0M422.0 349.0h0M434.0 350.0h0M375.0 343.0h0M366.0 340.0h0M360.0 345.0h0M352.0 350.0h0M346.0 341.0h0M338.0 338.0h0M330.0 342.0h0M325.0 347.0h0M335.0 350.0h0M343.0 352.0h0M372.0 352.0h0M380.0 353.0h0" stroke="#A746EE" stroke-width="4.7" stroke-linecap="round" fill="none"/>
<path d="M461.0 116.5h0M459.5 117.8h0M440.7 195.0h0M442.7 192.5h0M203.9 251.7h0M214.2 275.5h0M239.8 275.5h0M198.4 281.8h0M198.4 286.4h0M222.7 281.8h0M256.9 294.3h0M260.8 288.4h0M237.2 306.1h0M239.8 300.9h0M246.4 318.6h0M245.0 316.6h0M254.9 306.8h0M224.0 321.2h0M204.3 327.8h0M182.6 325.8h0M256.2 324.5h0M266.7 317.3h0M265.4 299.6h0M196.4 336.9h0M169.3 344.4h0M247.2 347.4h0M257.0 294.8h0M260.3 288.3h0M264.9 295.5h0M266.2 298.8h0M256.3 306.6h0M267.5 316.5h0M224.5 348.3h0M246.6 347.2h0M255.9 352.4h0M259.4 353.3h0M256.8 324.9h0M246.3 320.9h0M251.0 334.0h0M253.0 338.0h0M182.5 325.6h0M204.4 328.1h0M255.5 331.0h0M221.4 327.5h0M195.8 337.0h0M439.6 272.5h0M445.8 287.1h0M437.0 327.3h0M442.3 336.0h0M449.3 347.4h0M474.8 311.2h0M497.3 282.2h0M501.2 280.0h0M537.0 311.2h0M475.0 310.5h0M448.9 347.9h0M502.6 350.2h0M505.4 347.9h0M508.0 345.5h0M440.0 320.0h0M444.0 341.0h0M436.5 328.5h0M438.5 331.0h0M440.5 333.5h0M442.5 336.5h0" stroke="#BE2026" stroke-width="5.8" stroke-linecap="round" fill="none"/>
<path d="M461.0 116.5h0M459.5 117.8h0M440.7 195.0h0M442.7 192.5h0M203.9 251.7h0M214.2 275.5h0M239.8 275.5h0M198.4 281.8h0M198.4 286.4h0M222.7 281.8h0M256.9 294.3h0M260.8 288.4h0M237.2 306.1h0M239.8 300.9h0M246.4 318.6h0M245.0 316.6h0M254.9 306.8h0M224.0 321.2h0M204.3 327.8h0M182.6 325.8h0M256.2 324.5h0M266.7 317.3h0M265.4 299.6h0M196.4 336.9h0M169.3 344.4h0M247.2 347.4h0M257.0 294.8h0M260.3 288.3h0M264.9 295.5h0M266.2 298.8h0M256.3 306.6h0M267.5 316.5h0M224.5 348.3h0M246.6 347.2h0M255.9 352.4h0M259.4 353.3h0M256.8 324.9h0M246.3 320.9h0M251.0 334.0h0M253.0 338.0h0M182.5 325.6h0M204.4 328.1h0M255.5 331.0h0M221.4 327.5h0M195.8 337.0h0M439.6 272.5h0M445.8 287.1h0M437.0 327.3h0M442.3 336.0h0M449.3 347.4h0M474.8 311.2h0M497.3 282.2h0M501.2 280.0h0M537.0 311.2h0M475.0 310.5h0M448.9 347.9h0M502.6 350.2h0M505.4 347.9h0M508.0 345.5h0M440.0 320.0h0M444.0 341.0h0M436.5 328.5h0M438.5 331.0h0M440.5 333.5h0M442.5 336.5h0" stroke="#D8302F" stroke-width="4.7" stroke-linecap="round" fill="none"/>
<line x1="269.13" y1="575.0" x2="269.13" y2="85.0" stroke="#3a3a3a" stroke-width="1.55" stroke-dasharray="7.4 3.48"/>
<line x1="438.57" y1="575.0" x2="438.57" y2="85.0" stroke="#3a3a3a" stroke-width="1.55" stroke-dasharray="7.4 3.48"/>
<line x1="53.2" y1="354.92" x2="680.8" y2="354.92" stroke="#3a3a3a" stroke-width="1.55" stroke-dasharray="7.4 3.48"/>
<line x1="191.5" y1="291.5" x2="237.4" y2="306.3" stroke="#870E0E" stroke-width="1.65"/>
<line x1="461.0" y1="116.5" x2="460.0" y2="117.8" stroke="#870E0E" stroke-width="1.65"/><path d="M457.5 121.3L458.2 116.5L461.9 119.2Z" fill="#fff" stroke="#870E0E" stroke-width="1.55" stroke-linejoin="miter"/>
<line x1="440.7" y1="195.0" x2="441.4" y2="193.8" stroke="#870E0E" stroke-width="1.65"/><path d="M443.5 190.0L443.4 194.9L439.4 192.7Z" fill="#fff" stroke="#870E0E" stroke-width="1.55" stroke-linejoin="miter"/>
<line x1="203.9" y1="251.7" x2="196.4" y2="236.7" stroke="#870E0E" stroke-width="1.65"/><path d="M194.5 232.8L198.4 235.6L194.4 237.7Z" fill="#fff" stroke="#870E0E" stroke-width="1.55" stroke-linejoin="miter"/>
<line x1="214.2" y1="275.5" x2="198.0" y2="253.5" stroke="#870E0E" stroke-width="1.65"/><path d="M195.5 250.0L199.9 252.1L196.2 254.8Z" fill="#fff" stroke="#870E0E" stroke-width="1.55" stroke-linejoin="miter"/>
<line x1="239.8" y1="275.5" x2="245.0" y2="253.2" stroke="#870E0E" stroke-width="1.65"/><path d="M246.0 249.0L247.2 253.7L242.8 252.7Z" fill="#fff" stroke="#870E0E" stroke-width="1.55" stroke-linejoin="miter"/>
<line x1="222.7" y1="281.8" x2="226.6" y2="274.2" stroke="#870E0E" stroke-width="1.65"/><path d="M228.5 270.4L228.6 275.3L224.5 273.2Z" fill="#fff" stroke="#870E0E" stroke-width="1.55" stroke-linejoin="miter"/>
<line x1="198.4" y1="281.8" x2="196.3" y2="279.4" stroke="#870E0E" stroke-width="1.65"/><path d="M193.4 276.2L197.9 277.9L194.6 280.9Z" fill="#fff" stroke="#870E0E" stroke-width="1.55" stroke-linejoin="miter"/>
<line x1="198.4" y1="286.4" x2="115.7" y2="270.3" stroke="#870E0E" stroke-width="1.65"/><path d="M111.5 269.5L116.2 268.1L115.3 272.5Z" fill="#fff" stroke="#870E0E" stroke-width="1.55" stroke-linejoin="miter"/>
<line x1="198.4" y1="286.4" x2="157.0" y2="271.0" stroke="#870E0E" stroke-width="1.65"/><path d="M153.0 269.5L157.8 268.9L156.2 273.1Z" fill="#fff" stroke="#870E0E" stroke-width="1.55" stroke-linejoin="miter"/>
<line x1="224.0" y1="321.2" x2="121.9" y2="291.7" stroke="#870E0E" stroke-width="1.65"/><path d="M117.8 290.5L122.6 289.5L121.3 293.9Z" fill="#fff" stroke="#870E0E" stroke-width="1.55" stroke-linejoin="miter"/>
<line x1="245.3" y1="318.7" x2="193.6" y2="292.9" stroke="#870E0E" stroke-width="1.65"/><path d="M189.8 291.0L194.7 290.9L192.6 294.9Z" fill="#fff" stroke="#870E0E" stroke-width="1.55" stroke-linejoin="miter"/>
<line x1="239.8" y1="300.9" x2="239.9" y2="301.2" stroke="#870E0E" stroke-width="1.65"/><path d="M239.1 297.0L242.1 300.8L237.6 301.6Z" fill="#fff" stroke="#870E0E" stroke-width="1.55" stroke-linejoin="miter"/>
<line x1="221.4" y1="327.5" x2="110.3" y2="312.6" stroke="#870E0E" stroke-width="1.65"/><path d="M106.0 312.0L110.6 310.3L110.0 314.8Z" fill="#fff" stroke="#870E0E" stroke-width="1.55" stroke-linejoin="miter"/>
<line x1="221.4" y1="327.5" x2="150.2" y2="313.4" stroke="#870E0E" stroke-width="1.65"/><path d="M146.0 312.6L150.7 311.2L149.8 315.6Z" fill="#fff" stroke="#870E0E" stroke-width="1.55" stroke-linejoin="miter"/>
<line x1="224.3" y1="320.9" x2="189.2" y2="313.2" stroke="#870E0E" stroke-width="1.65"/><path d="M185.0 312.3L189.7 311.0L188.7 315.4Z" fill="#fff" stroke="#870E0E" stroke-width="1.55" stroke-linejoin="miter"/>
<line x1="245.3" y1="318.7" x2="226.7" y2="313.2" stroke="#870E0E" stroke-width="1.65"/><path d="M222.6 312.0L227.4 311.1L226.1 315.4Z" fill="#fff" stroke="#870E0E" stroke-width="1.55" stroke-linejoin="miter"/>
<line x1="204.4" y1="328.1" x2="103.8" y2="332.8" stroke="#870E0E" stroke-width="1.65"/><path d="M99.5 333.0L103.7 330.6L103.9 335.0Z" fill="#fff" stroke="#870E0E" stroke-width="1.55" stroke-linejoin="miter"/>
<line x1="195.8" y1="337.0" x2="184.7" y2="334.7" stroke="#870E0E" stroke-width="1.65"/><path d="M180.5 333.8L185.2 332.5L184.2 336.9Z" fill="#fff" stroke="#870E0E" stroke-width="1.55" stroke-linejoin="miter"/>
<line x1="169.3" y1="344.4" x2="147.0" y2="351.7" stroke="#870E0E" stroke-width="1.65"/><path d="M142.9 353.0L146.3 349.5L147.7 353.8Z" fill="#fff" stroke="#870E0E" stroke-width="1.55" stroke-linejoin="miter"/>
<line x1="228.0" y1="334.0" x2="217.8" y2="344.3" stroke="#870E0E" stroke-width="1.65"/><path d="M214.8 347.4L216.2 342.8L219.4 345.9Z" fill="#fff" stroke="#870E0E" stroke-width="1.55" stroke-linejoin="miter"/>
<line x1="246.9" y1="346.6" x2="209.2" y2="370.7" stroke="#870E0E" stroke-width="1.65"/><path d="M205.6 373.0L208.0 368.8L210.4 372.6Z" fill="#fff" stroke="#870E0E" stroke-width="1.55" stroke-linejoin="miter"/>
<line x1="246.9" y1="346.6" x2="170.4" y2="393.7" stroke="#870E0E" stroke-width="1.65"/><path d="M166.7 396.0L169.2 391.8L171.5 395.7Z" fill="#fff" stroke="#870E0E" stroke-width="1.55" stroke-linejoin="miter"/>
<line x1="246.6" y1="347.2" x2="234.9" y2="380.6" stroke="#870E0E" stroke-width="1.65"/><path d="M233.5 384.7L232.8 379.9L237.0 381.4Z" fill="#fff" stroke="#870E0E" stroke-width="1.55" stroke-linejoin="miter"/>
<line x1="255.9" y1="352.4" x2="254.4" y2="359.6" stroke="#870E0E" stroke-width="1.65"/><path d="M253.5 363.8L252.2 359.1L256.6 360.1Z" fill="#fff" stroke="#870E0E" stroke-width="1.55" stroke-linejoin="miter"/>
<line x1="255.9" y1="352.4" x2="281.0" y2="366.0" stroke="#870E0E" stroke-width="1.65"/><path d="M284.8 368.0L279.9 367.9L282.1 364.0Z" fill="#fff" stroke="#870E0E" stroke-width="1.55" stroke-linejoin="miter"/>
<line x1="259.4" y1="353.3" x2="271.3" y2="381.7" stroke="#870E0E" stroke-width="1.65"/><path d="M273.0 385.7L269.3 382.6L273.4 380.9Z" fill="#fff" stroke="#870E0E" stroke-width="1.55" stroke-linejoin="miter"/>
<line x1="259.4" y1="353.3" x2="297.0" y2="386.6" stroke="#870E0E" stroke-width="1.65"/><path d="M300.2 389.5L295.5 388.3L298.5 385.0Z" fill="#fff" stroke="#870E0E" stroke-width="1.55" stroke-linejoin="miter"/>
<line x1="252.0" y1="337.0" x2="259.3" y2="342.4" stroke="#870E0E" stroke-width="1.65"/><path d="M262.7 345.0L257.9 344.2L260.6 340.6Z" fill="#fff" stroke="#870E0E" stroke-width="1.55" stroke-linejoin="miter"/>
<line x1="255.5" y1="331.0" x2="315.3" y2="347.8" stroke="#870E0E" stroke-width="1.65"/><path d="M319.4 349.0L314.7 350.0L315.9 345.7Z" fill="#fff" stroke="#870E0E" stroke-width="1.55" stroke-linejoin="miter"/>
<line x1="255.5" y1="331.0" x2="388.7" y2="346.5" stroke="#870E0E" stroke-width="1.65"/><path d="M393.0 347.0L388.5 348.7L389.0 344.3Z" fill="#fff" stroke="#870E0E" stroke-width="1.55" stroke-linejoin="miter"/>
<line x1="256.8" y1="324.9" x2="278.2" y2="327.5" stroke="#870E0E" stroke-width="1.65"/><path d="M282.5 328.0L278.0 329.7L278.5 325.3Z" fill="#fff" stroke="#870E0E" stroke-width="1.55" stroke-linejoin="miter"/>
<line x1="300.0" y1="328.0" x2="351.0" y2="327.7" stroke="#870E0E" stroke-width="1.65"/><path d="M355.3 327.7L351.0 330.0L351.0 325.5Z" fill="#fff" stroke="#870E0E" stroke-width="1.55" stroke-linejoin="miter"/>
<line x1="255.3" y1="306.6" x2="266.7" y2="306.5" stroke="#870E0E" stroke-width="1.65"/><path d="M271.0 306.5L266.7 308.8L266.7 304.3Z" fill="#fff" stroke="#870E0E" stroke-width="1.55" stroke-linejoin="miter"/>
<line x1="266.6" y1="316.8" x2="317.2" y2="307.3" stroke="#870E0E" stroke-width="1.65"/><path d="M321.4 306.5L317.6 309.5L316.8 305.1Z" fill="#fff" stroke="#870E0E" stroke-width="1.55" stroke-linejoin="miter"/>
<line x1="266.6" y1="298.4" x2="266.4" y2="296.1" stroke="#870E0E" stroke-width="1.65"/><path d="M266.0 291.8L268.6 295.9L264.1 296.3Z" fill="#fff" stroke="#870E0E" stroke-width="1.55" stroke-linejoin="miter"/>
<line x1="266.6" y1="298.4" x2="301.7" y2="288.2" stroke="#870E0E" stroke-width="1.65"/><path d="M305.8 287.0L302.3 290.4L301.0 286.0Z" fill="#fff" stroke="#870E0E" stroke-width="1.55" stroke-linejoin="miter"/>
<line x1="257.0" y1="294.8" x2="265.2" y2="270.0" stroke="#870E0E" stroke-width="1.65"/><path d="M266.6 265.9L267.4 270.7L263.1 269.3Z" fill="#fff" stroke="#870E0E" stroke-width="1.55" stroke-linejoin="miter"/>
<line x1="257.0" y1="294.0" x2="283.2" y2="247.7" stroke="#870E0E" stroke-width="1.65"/><path d="M285.3 244.0L285.1 248.9L281.2 246.6Z" fill="#fff" stroke="#870E0E" stroke-width="1.55" stroke-linejoin="miter"/>
<line x1="439.6" y1="272.5" x2="439.5" y2="271.2" stroke="#870E0E" stroke-width="1.65"/><path d="M439.0 266.9L441.7 270.9L437.2 271.4Z" fill="#fff" stroke="#870E0E" stroke-width="1.55" stroke-linejoin="miter"/>
<line x1="437.0" y1="327.3" x2="426.1" y2="302.9" stroke="#870E0E" stroke-width="1.65"/><path d="M424.4 299.0L428.2 302.0L424.1 303.8Z" fill="#fff" stroke="#870E0E" stroke-width="1.55" stroke-linejoin="miter"/>
<line x1="445.8" y1="287.1" x2="447.9" y2="289.1" stroke="#870E0E" stroke-width="1.65"/><path d="M451.0 292.0L446.3 290.7L449.4 287.4Z" fill="#fff" stroke="#870E0E" stroke-width="1.55" stroke-linejoin="miter"/>
<line x1="497.3" y1="282.2" x2="498.1" y2="280.9" stroke="#870E0E" stroke-width="1.65"/><path d="M500.5 277.3L500.0 282.1L496.3 279.7Z" fill="#fff" stroke="#870E0E" stroke-width="1.55" stroke-linejoin="miter"/>
<line x1="537.0" y1="311.2" x2="537.6" y2="310.3" stroke="#870E0E" stroke-width="1.65"/><path d="M540.0 306.7L539.5 311.5L535.7 309.0Z" fill="#fff" stroke="#870E0E" stroke-width="1.55" stroke-linejoin="miter"/>
<line x1="475.0" y1="310.5" x2="479.6" y2="312.7" stroke="#870E0E" stroke-width="1.65"/><path d="M483.5 314.5L478.7 314.7L480.6 310.6Z" fill="#fff" stroke="#870E0E" stroke-width="1.55" stroke-linejoin="miter"/>
<line x1="442.3" y1="336.0" x2="449.9" y2="337.6" stroke="#870E0E" stroke-width="1.65"/><path d="M454.1 338.5L449.4 339.8L450.4 335.4Z" fill="#fff" stroke="#870E0E" stroke-width="1.55" stroke-linejoin="miter"/>
<line x1="502.6" y1="350.2" x2="508.7" y2="343.2" stroke="#870E0E" stroke-width="1.65"/><path d="M511.5 340.0L510.4 344.7L507.0 341.8Z" fill="#fff" stroke="#870E0E" stroke-width="1.55" stroke-linejoin="miter"/>
<line x1="448.9" y1="347.9" x2="450.1" y2="353.8" stroke="#870E0E" stroke-width="1.65"/><path d="M451.0 358.0L447.9 354.2L452.3 353.3Z" fill="#fff" stroke="#870E0E" stroke-width="1.55" stroke-linejoin="miter"/>
<line x1="505.4" y1="347.9" x2="506.1" y2="351.2" stroke="#870E0E" stroke-width="1.65"/><path d="M507.0 355.4L503.9 351.7L508.3 350.7Z" fill="#fff" stroke="#870E0E" stroke-width="1.55" stroke-linejoin="miter"/>
<line x1="449.3" y1="347.4" x2="444.7" y2="361.9" stroke="#870E0E" stroke-width="1.65"/><path d="M443.4 366.0L442.6 361.2L446.8 362.6Z" fill="#fff" stroke="#870E0E" stroke-width="1.55" stroke-linejoin="miter"/>
<rect x="422.3" y="121.3" width="47.8" height="13.6" rx="1.8" fill="#fff" stroke="#3c3c3c" stroke-width="1.0"/><text x="446.2" y="131.2" text-anchor="middle" class="lab">IGHV5-51</text>
<rect x="438.4" y="176.6" width="33.0" height="13.6" rx="1.8" fill="#fff" stroke="#3c3c3c" stroke-width="1.0"/><text x="454.9" y="186.5" text-anchor="middle" class="lab">GBP1</text>
<rect x="166.3" y="218.2" width="52.2" height="13.6" rx="1.8" fill="#fff" stroke="#3c3c3c" stroke-width="1.0"/><text x="192.4" y="228.1" text-anchor="middle" class="lab">C14orf180</text>
<rect x="150.9" y="240.7" width="44.3" height="13.6" rx="1.8" fill="#fff" stroke="#3c3c3c" stroke-width="1.0"/><text x="173.1" y="250.6" text-anchor="middle" class="lab">KCNK15</text>
<rect x="225.8" y="235.4" width="41.9" height="13.6" rx="1.8" fill="#fff" stroke="#3c3c3c" stroke-width="1.0"/><text x="246.8" y="245.3" text-anchor="middle" class="lab">TM4SF4</text>
<rect x="202.7" y="257.0" width="55.6" height="13.6" rx="1.8" fill="#fff" stroke="#3c3c3c" stroke-width="1.0"/><text x="230.5" y="266.9" text-anchor="middle" class="lab">TMEM132E</text>
<rect x="160.7" y="262.6" width="46.2" height="13.6" rx="1.8" fill="#fff" stroke="#3c3c3c" stroke-width="1.0"/><text x="183.8" y="272.5" text-anchor="middle" class="lab">GUCA2B</text>
<rect x="61.0" y="262.3" width="50.0" height="13.6" rx="1.8" fill="#fff" stroke="#3c3c3c" stroke-width="1.0"/><text x="86.0" y="272.2" text-anchor="middle" class="lab">CYP2B7P</text>
<rect x="118.0" y="262.6" width="34.5" height="13.6" rx="1.8" fill="#fff" stroke="#3c3c3c" stroke-width="1.0"/><text x="135.2" y="272.5" text-anchor="middle" class="lab">GHRH</text>
<rect x="78.6" y="283.6" width="38.8" height="13.6" rx="1.8" fill="#fff" stroke="#3c3c3c" stroke-width="1.0"/><text x="98.0" y="293.5" text-anchor="middle" class="lab">OTOP2</text>
<rect x="125.0" y="283.6" width="64.4" height="13.6" rx="1.8" fill="#fff" stroke="#3c3c3c" stroke-width="1.0"/><text x="157.2" y="293.5" text-anchor="middle" class="lab">CTC-558O2.2</text>
<rect x="210.4" y="283.5" width="44.7" height="13.6" rx="1.8" fill="#fff" stroke="#3c3c3c" stroke-width="1.0"/><text x="232.8" y="293.4" text-anchor="middle" class="lab">UNC93A</text>
<rect x="56.7" y="305.2" width="49.0" height="13.6" rx="1.8" fill="#fff" stroke="#3c3c3c" stroke-width="1.0"/><text x="81.2" y="315.1" text-anchor="middle" class="lab">COL25A1</text>
<rect x="106.6" y="305.2" width="38.9" height="13.6" rx="1.8" fill="#fff" stroke="#3c3c3c" stroke-width="1.0"/><text x="126.0" y="315.1" text-anchor="middle" class="lab">FRMD1</text>
<rect x="152.6" y="305.0" width="31.9" height="13.6" rx="1.8" fill="#fff" stroke="#3c3c3c" stroke-width="1.0"/><text x="168.6" y="314.9" text-anchor="middle" class="lab">UPB1</text>
<rect x="188.2" y="305.0" width="34.0" height="13.6" rx="1.8" fill="#fff" stroke="#3c3c3c" stroke-width="1.0"/><text x="205.2" y="314.9" text-anchor="middle" class="lab">SHBG</text>
<rect x="58.8" y="326.1" width="40.3" height="13.6" rx="1.8" fill="#fff" stroke="#3c3c3c" stroke-width="1.0"/><text x="78.9" y="336.0" text-anchor="middle" class="lab">ASPDH</text>
<rect x="105.7" y="326.4" width="74.4" height="13.6" rx="1.8" fill="#fff" stroke="#3c3c3c" stroke-width="1.0"/><text x="142.9" y="336.3" text-anchor="middle" class="lab">ADORA2A-AS1</text>
<rect x="103.1" y="347.7" width="39.4" height="13.6" rx="1.8" fill="#fff" stroke="#3c3c3c" stroke-width="1.0"/><text x="122.8" y="357.6" text-anchor="middle" class="lab">APOA1</text>
<rect x="222.6" y="326.4" width="32.5" height="13.6" rx="1.8" fill="#fff" stroke="#3c3c3c" stroke-width="1.0"/><text x="238.8" y="336.3" text-anchor="middle" class="lab">ASPG</text>
<rect x="183.6" y="347.4" width="43.0" height="13.6" rx="1.8" fill="#fff" stroke="#3c3c3c" stroke-width="1.0"/><text x="205.1" y="357.3" text-anchor="middle" class="lab">CYP3A4</text>
<rect x="150.9" y="368.9" width="54.3" height="13.6" rx="1.8" fill="#fff" stroke="#3c3c3c" stroke-width="1.0"/><text x="178.1" y="378.8" text-anchor="middle" class="lab">LINC00330</text>
<rect x="134.4" y="390.0" width="32.0" height="13.6" rx="1.8" fill="#fff" stroke="#3c3c3c" stroke-width="1.0"/><text x="150.4" y="399.9" text-anchor="middle" class="lab">PCK1</text>
<rect x="212.7" y="384.7" width="38.9" height="13.6" rx="1.8" fill="#fff" stroke="#3c3c3c" stroke-width="1.0"/><text x="232.1" y="394.6" text-anchor="middle" class="lab">WNT9B</text>
<rect x="236.0" y="363.8" width="41.8" height="13.6" rx="1.8" fill="#fff" stroke="#3c3c3c" stroke-width="1.0"/><text x="256.9" y="373.7" text-anchor="middle" class="lab">CHST13</text>
<rect x="285.2" y="363.8" width="38.5" height="13.6" rx="1.8" fill="#fff" stroke="#3c3c3c" stroke-width="1.0"/><text x="304.4" y="373.7" text-anchor="middle" class="lab">LAMA1</text>
<rect x="261.7" y="385.7" width="31.5" height="13.6" rx="1.8" fill="#fff" stroke="#3c3c3c" stroke-width="1.0"/><text x="277.4" y="395.6" text-anchor="middle" class="lab">FTCD</text>
<rect x="300.4" y="385.2" width="73.0" height="13.6" rx="1.8" fill="#fff" stroke="#3c3c3c" stroke-width="1.0"/><text x="336.9" y="395.1" text-anchor="middle" class="lab">RP11-278L15.6</text>
<rect x="263.1" y="342.2" width="49.1" height="13.6" rx="1.8" fill="#fff" stroke="#3c3c3c" stroke-width="1.0"/><text x="287.6" y="352.1" text-anchor="middle" class="lab">TMEM198</text>
<rect x="319.8" y="342.4" width="71.8" height="13.6" rx="1.8" fill="#fff" stroke="#3c3c3c" stroke-width="1.0"/><text x="355.7" y="352.3" text-anchor="middle" class="lab">RP11-231P20.2</text>
<rect x="393.3" y="341.7" width="50.4" height="13.6" rx="1.8" fill="#fff" stroke="#3c3c3c" stroke-width="1.0"/><text x="418.5" y="351.6" text-anchor="middle" class="lab">TMPRSS6</text>
<rect x="282.9" y="321.2" width="65.6" height="13.6" rx="1.8" fill="#fff" stroke="#3c3c3c" stroke-width="1.0"/><text x="315.7" y="331.1" text-anchor="middle" class="lab">CTC-251I16.1</text>
<rect x="355.7" y="320.9" width="37.7" height="13.6" rx="1.8" fill="#fff" stroke="#3c3c3c" stroke-width="1.0"/><text x="374.5" y="330.8" text-anchor="middle" class="lab">DGAT2</text>
<rect x="271.4" y="299.6" width="39.0" height="13.6" rx="1.8" fill="#fff" stroke="#3c3c3c" stroke-width="1.0"/><text x="290.9" y="309.5" text-anchor="middle" class="lab">MMP24</text>
<rect x="321.8" y="299.6" width="38.9" height="13.6" rx="1.8" fill="#fff" stroke="#3c3c3c" stroke-width="1.0"/><text x="341.2" y="309.5" text-anchor="middle" class="lab">TRPM6</text>
<rect x="266.4" y="278.7" width="31.6" height="13.6" rx="1.8" fill="#fff" stroke="#3c3c3c" stroke-width="1.0"/><text x="282.2" y="288.6" text-anchor="middle" class="lab">HRH2</text>
<rect x="306.2" y="278.7" width="23.3" height="13.6" rx="1.8" fill="#fff" stroke="#3c3c3c" stroke-width="1.0"/><text x="317.9" y="288.6" text-anchor="middle" class="lab">F10</text>
<rect x="267.0" y="256.8" width="57.8" height="13.6" rx="1.8" fill="#fff" stroke="#3c3c3c" stroke-width="1.0"/><text x="295.9" y="266.7" text-anchor="middle" class="lab">AL035610.1</text>
<rect x="285.7" y="235.4" width="73.7" height="13.6" rx="1.8" fill="#fff" stroke="#3c3c3c" stroke-width="1.0"/><text x="322.5" y="245.3" text-anchor="middle" class="lab">RP11-365O16.6</text>
<rect x="409.9" y="253.8" width="29.3" height="13.6" rx="1.8" fill="#fff" stroke="#3c3c3c" stroke-width="1.0"/><text x="424.5" y="263.7" text-anchor="middle" class="lab">TP73</text>
<rect x="378.7" y="291.4" width="45.3" height="13.6" rx="1.8" fill="#fff" stroke="#3c3c3c" stroke-width="1.0"/><text x="401.4" y="301.3" text-anchor="middle" class="lab">FCGR3A</text>
<rect x="404.7" y="312.9" width="47.8" height="13.6" rx="1.8" fill="#fff" stroke="#3c3c3c" stroke-width="1.0"/><text x="428.6" y="322.8" text-anchor="middle" class="lab">IGKV1-12</text>
<rect x="451.1" y="288.0" width="47.4" height="13.6" rx="1.8" fill="#fff" stroke="#3c3c3c" stroke-width="1.0"/><text x="474.8" y="297.9" text-anchor="middle" class="lab">JAKMIP1</text>
<rect x="484.2" y="263.6" width="57.3" height="13.6" rx="1.8" fill="#fff" stroke="#3c3c3c" stroke-width="1.0"/><text x="512.9" y="273.5" text-anchor="middle" class="lab">IGHV1-69-2</text>
<rect x="534.0" y="242.6" width="48.5" height="13.6" rx="1.8" fill="#fff" stroke="#3c3c3c" stroke-width="1.0"/><text x="558.2" y="252.5" text-anchor="middle" class="lab">IGHV3-43</text>
<rect x="537.6" y="292.7" width="28.9" height="13.6" rx="1.8" fill="#fff" stroke="#3c3c3c" stroke-width="1.0"/><text x="552.0" y="302.6" text-anchor="middle" class="lab">IFNG</text>
<rect x="483.9" y="310.5" width="37.9" height="13.6" rx="1.8" fill="#fff" stroke="#3c3c3c" stroke-width="1.0"/><text x="502.8" y="320.4" text-anchor="middle" class="lab">TRDV1</text>
<rect x="454.5" y="331.5" width="48.1" height="13.6" rx="1.8" fill="#fff" stroke="#3c3c3c" stroke-width="1.0"/><text x="478.6" y="341.4" text-anchor="middle" class="lab">IGHV3-48</text>
<rect x="511.9" y="331.5" width="38.6" height="13.6" rx="1.8" fill="#fff" stroke="#3c3c3c" stroke-width="1.0"/><text x="531.2" y="341.4" text-anchor="middle" class="lab">MMP12</text>
<rect x="451.2" y="355.4" width="46.7" height="13.6" rx="1.8" fill="#fff" stroke="#3c3c3c" stroke-width="1.0"/><text x="474.5" y="365.3" text-anchor="middle" class="lab">IGLV5-45</text>
<rect x="505.9" y="355.4" width="73.6" height="13.6" rx="1.8" fill="#fff" stroke="#3c3c3c" stroke-width="1.0"/><text x="542.7" y="365.3" text-anchor="middle" class="lab">RP11-267C16.2</text>
<rect x="397.4" y="364.2" width="45.6" height="13.6" rx="1.8" fill="#fff" stroke="#3c3c3c" stroke-width="1.0"/><text x="420.2" y="374.1" text-anchor="middle" class="lab">IGLV1-47</text>
</g>
<rect x="53.2" y="85.0" width="627.6" height="490.0" fill="none" stroke="#505050" stroke-width="1.2"/>
<line x1="61.7" y1="575.0" x2="61.7" y2="580.8" stroke="#1e1e1e" stroke-width="1.6"/>
<text x="61.7" y="594.0" text-anchor="middle" class="tick">-5.0</text>
<line x1="207.8" y1="575.0" x2="207.8" y2="580.8" stroke="#1e1e1e" stroke-width="1.6"/>
<text x="207.8" y="594.0" text-anchor="middle" class="tick">-2.5</text>
<line x1="353.9" y1="575.0" x2="353.9" y2="580.8" stroke="#1e1e1e" stroke-width="1.6"/>
<text x="353.9" y="594.0" text-anchor="middle" class="tick">0.0</text>
<line x1="499.9" y1="575.0" x2="499.9" y2="580.8" stroke="#1e1e1e" stroke-width="1.6"/>
<text x="499.9" y="594.0" text-anchor="middle" class="tick">2.5</text>
<line x1="646.0" y1="575.0" x2="646.0" y2="580.8" stroke="#1e1e1e" stroke-width="1.6"/>
<text x="646.0" y="594.0" text-anchor="middle" class="tick">5.0</text>
<line x1="47.4" y1="553.0" x2="53.2" y2="553.0" stroke="#1e1e1e" stroke-width="1.6"/>
<text x="42.6" y="556.9" text-anchor="end" class="tick">0</text>
<line x1="47.4" y1="429.2" x2="53.2" y2="429.2" stroke="#1e1e1e" stroke-width="1.6"/>
<text x="42.6" y="433.1" text-anchor="end" class="tick">5</text>
<line x1="47.4" y1="305.4" x2="53.2" y2="305.4" stroke="#1e1e1e" stroke-width="1.6"/>
<text x="42.6" y="309.3" text-anchor="end" class="tick">10</text>
<line x1="47.4" y1="181.6" x2="53.2" y2="181.6" stroke="#1e1e1e" stroke-width="1.6"/>
<text x="42.6" y="185.5" text-anchor="end" class="tick">15</text>
<text x="368.2" y="610.1" text-anchor="middle" class="axt">Log<tspan font-size="8" dy="2.4">2</tspan><tspan dy="-2.4"> fold change</tspan></text>
<text transform="translate(18.9 328.0) rotate(-90)" text-anchor="middle" class="axt" style="font-size:11px"><tspan>−</tspan><tspan dx="2.4">Log</tspan><tspan font-size="8" dy="2.3" dx="0.6">10</tspan><tspan dy="-2.3" dx="2.6" font-style="italic">P</tspan></text>
<circle cx="171.9" cy="658.5" r="4.75" fill="#BEBEBE" stroke="#B8B8B8" stroke-width="0.9"/>
<text x="191.5" y="662.7" class="leg">Not Sign</text>
<circle cx="257.9" cy="658.5" r="4.75" fill="#F8AE2C" stroke="#EFA21C" stroke-width="0.9"/>
<text x="277.6" y="662.7" class="leg">Log<tspan font-size="8.7" dy="2.6">2</tspan><tspan dy="-2.6"> FC</tspan></text>
<circle cx="341.7" cy="658.5" r="4.75" fill="#A746EE" stroke="#9636E2" stroke-width="0.9"/>
<text x="361.6" y="662.7" class="leg">p-value cutoff</text>
<circle cx="453.9" cy="658.5" r="4.75" fill="#D8302F" stroke="#BE2026" stroke-width="0.9"/>
<text x="473.6" y="662.7" class="leg">padj and Log<tspan font-size="8.7" dy="2.6">2</tspan><tspan dy="-2.6"> FC</tspan></text>
<text x="680.3" y="697.9" text-anchor="end" class="foot">fold change cutoff = 1.45; p-value cutoff = 1x10-8</text>
<path d="M302.7 1208.8h0M303.2 1192.2h0M327.5 1244.5h0M344.3 1231.5h0M306.1 1257.7h0M359.5 1245.9h0M358.6 1224.5h0M318.2 1269.1h0M362.7 1261.6h0M334.2 1265.3h0M358.7 1208.3h0M302.7 1210.0h0M341.5 1231.0h0M322.8 1224.6h0M309.4 1244.4h0M359.3 1173.0h0M302.5 1190.1h0M317.7 1227.4h0M329.2 1232.0h0M339.5 1226.4h0M335.4 1211.9h0M339.8 1177.0h0M314.5 1184.0h0M344.4 1219.4h0M354.7 1216.0h0M300.0 1211.2h0M358.2 1220.7h0M361.1 1195.6h0M321.8 1278.6h0M326.3 1212.0h0M338.1 1236.3h0M360.8 1230.6h0M328.6 1214.6h0M358.0 1218.6h0M309.6 1269.4h0M357.6 1265.0h0M313.9 1225.7h0M316.9 1224.1h0M313.4 1242.5h0M316.8 1256.4h0M344.2 1228.1h0M331.1 1230.6h0M346.3 1228.2h0M357.9 1254.3h0M345.9 1269.9h0M335.3 1233.3h0M355.9 1174.4h0M307.5 1232.4h0M348.6 1212.9h0M345.3 1250.8h0M305.5 1246.3h0M361.8 1169.7h0M326.8 1259.9h0M325.3 1220.9h0M352.3 1174.3h0M328.9 1158.6h0M342.7 1234.4h0M321.5 1272.5h0M358.6 1272.5h0M356.8 1184.7h0M356.5 1171.4h0M335.0 1279.7h0M314.0 1258.8h0M356.8 1189.1h0M343.5 1185.5h0M347.7 1263.4h0M360.1 1269.8h0M307.3 1211.9h0M322.3 1248.2h0M318.1 1189.9h0M350.8 1175.0h0M324.5 1262.2h0M328.7 1268.1h0M327.4 1237.8h0M317.5 1218.7h0M308.7 1252.6h0M335.6 1262.4h0M329.5 1163.4h0M356.3 1192.6h0M317.5 1255.4h0M334.7 1254.6h0M337.9 1190.9h0M302.7 1202.2h0M360.5 1163.9h0M309.6 1168.6h0M351.3 1203.8h0M345.9 1277.3h0M318.6 1177.4h0M337.7 1185.0h0M324.9 1272.4h0M336.9 1197.7h0M343.5 1257.5h0M357.7 1261.6h0M360.0 1180.5h0M307.2 1230.8h0M332.2 1251.8h0M312.7 1204.4h0M346.6 1182.5h0M344.4 1250.9h0M362.5 1260.8h0M349.9 1231.4h0M351.3 1260.2h0M354.5 1218.9h0M304.6 1183.4h0M320.2 1188.4h0M327.2 1226.8h0M338.4 1182.0h0M326.0 1231.7h0M341.2 1191.0h0M345.4 1177.1h0M322.7 1225.5h0M310.7 1226.4h0M345.7 1227.6h0M324.1 1262.7h0M332.4 1273.9h0M306.5 1207.3h0M361.6 1189.1h0M358.8 1266.5h0M340.3 1251.9h0M301.6 1232.6h0M304.6 1268.3h0M312.7 1222.7h0M322.5 1241.2h0M302.6 1206.2h0M351.5 1168.9h0M304.1 1219.5h0M314.4 1227.9h0M349.0 1266.0h0M355.6 1217.3h0M302.8 1236.3h0M360.5 1262.4h0M348.7 1210.9h0M341.1 1186.5h0M307.7 1241.9h0M308.7 1196.7h0M344.9 1256.6h0M353.0 1218.3h0M361.7 1193.3h0M347.8 1236.0h0M351.8 1221.0h0M343.8 1254.8h0M340.3 1186.1h0M310.7 1242.5h0M332.8 1255.0h0M332.5 1250.2h0M336.2 1241.2h0M308.3 1259.2h0M315.3 1165.3h0M336.9 1281.2h0M338.5 1270.3h0M318.7 1199.4h0M314.9 1220.8h0M329.7 1232.3h0M357.2 1180.9h0M343.4 1206.2h0M350.6 1276.0h0M362.9 1212.7h0M312.4 1201.9h0M336.6 1210.5h0M343.7 1231.4h0M361.0 1243.5h0M352.2 1232.2h0M355.4 1185.7h0M342.2 1189.0h0M316.5 1200.9h0M300.2 1182.9h0M305.5 1265.0h0M300.1 1219.5h0M361.0 1199.6h0M324.1 1217.8h0M360.9 1218.2h0M306.6 1191.3h0M306.9 1239.3h0M346.9 1242.8h0M326.9 1193.5h0M363.4 1199.2h0M311.3 1188.3h0M310.2 1179.8h0M329.8 1239.6h0M300.3 1245.8h0M362.5 1181.2h0M335.1 1248.2h0M330.5 1232.2h0M301.1 1263.7h0M359.6 1200.9h0M301.1 1225.3h0M304.9 1197.7h0M330.1 1246.0h0M342.2 1280.7h0M342.2 1258.4h0M308.8 1229.0h0M340.1 1214.0h0M335.7 1195.1h0M306.3 1232.8h0M356.0 1218.0h0M337.4 1178.7h0M307.6 1191.3h0M328.2 1233.8h0M347.4 1208.4h0M341.3 1270.9h0M324.7 1226.0h0M334.0 1243.6h0M315.8 1224.4h0M349.9 1236.0h0M359.9 1239.0h0M342.5 1277.0h0M318.5 1211.5h0M340.0 1200.4h0M363.1 1177.8h0M348.1 1268.7h0M361.3 1242.9h0M309.6 1273.2h0M334.3 1230.1h0M339.5 1259.2h0M356.3 1210.2h0M323.2 1193.3h0M308.0 1193.5h0M339.4 1271.3h0M324.3 1227.7h0M309.2 1196.9h0M320.8 1232.2h0M311.1 1199.8h0M353.5 1248.6h0M309.5 1257.4h0M363.2 1197.3h0M353.9 1173.4h0M352.8 1259.7h0M312.5 1193.6h0M304.8 1200.6h0M354.9 1219.0h0M336.2 1207.4h0M332.1 1265.7h0M312.4 1245.9h0M315.7 1225.9h0M352.1 1172.2h0M311.3 1210.0h0M314.1 1275.8h0M337.4 1226.6h0M330.5 1157.5h0M350.3 1180.9h0M355.9 1263.1h0M313.9 1277.7h0M316.4 1182.5h0M339.3 1265.2h0M358.4 1225.5h0M336.6 1263.1h0M344.8 1246.6h0M338.6 1275.2h0M315.2 1218.4h0M313.8 1222.0h0M325.5 1190.5h0M320.6 1259.8h0M348.7 1240.3h0M337.8 1177.7h0M363.1 1189.7h0M317.4 1209.6h0M302.5 1215.0h0M317.2 1220.2h0M301.4 1188.6h0M319.7 1272.9h0M323.9 1262.0h0M309.5 1264.4h0M310.1 1202.9h0M337.2 1267.7h0M345.7 1188.0h0M331.2 1270.2h0M303.3 1236.0h0M315.2 1261.7h0M360.1 1177.4h0M350.3 1245.6h0M362.2 1253.5h0M305.8 1215.3h0M321.3 1275.5h0M346.4 1237.6h0M353.2 1193.4h0M322.0 1194.5h0M350.2 1250.5h0M339.0 1212.2h0M307.7 1271.9h0M322.4 1225.2h0M319.6 1264.4h0M349.1 1232.4h0M338.3 1194.9h0M359.3 1230.4h0M358.9 1164.9h0M303.3 1253.5h0M326.8 1206.9h0M321.5 1240.0h0M306.1 1196.6h0M361.4 1244.3h0M306.9 1184.4h0M361.2 1232.8h0M300.8 1252.7h0M354.3 1204.1h0M308.3 1196.6h0M330.2 1251.9h0M319.1 1208.3h0M336.9 1246.7h0M312.5 1237.8h0M325.2 1181.0h0M345.8 1255.5h0M351.8 1204.3h0M333.7 1231.7h0M360.0 1203.0h0M340.2 1244.4h0M320.3 1213.0h0M358.7 1167.0h0M336.7 1250.7h0M326.2 1250.7h0M357.7 1198.3h0M338.5 1265.5h0M344.5 1273.7h0M344.6 1253.0h0M328.2 1233.5h0M319.9 1208.8h0M302.7 1209.2h0M306.3 1226.3h0M348.7 1272.7h0M356.9 1262.5h0M300.9 1182.5h0M359.8 1162.8h0M344.0 1195.2h0M345.0 1183.1h0M316.3 1186.1h0M359.5 1240.1h0M326.3 1232.8h0M339.7 1176.4h0M330.8 1237.9h0M346.7 1189.3h0M306.2 1184.3h0M317.8 1191.3h0M361.1 1191.1h0M320.2 1207.7h0M321.3 1278.8h0M323.1 1233.9h0M363.0 1179.6h0M310.9 1194.9h0M351.3 1277.6h0M339.8 1279.6h0M343.4 1263.9h0M347.1 1278.8h0M356.7 1194.3h0M309.0 1275.6h0M338.1 1226.0h0M311.6 1245.8h0M346.7 1197.6h0M328.8 1255.7h0M360.0 1234.4h0M348.7 1201.2h0M343.2 1183.0h0M354.0 1242.6h0M322.3 1197.1h0M340.7 1242.8h0M332.1 1166.5h0M308.1 1221.5h0M344.9 1271.1h0M360.5 1199.8h0M307.9 1201.8h0M334.7 1158.1h0M324.9 1242.0h0M311.2 1230.5h0M355.5 1177.3h0M305.4 1183.3h0M337.1 1223.8h0M306.0 1257.7h0M354.9 1229.1h0M326.0 1250.4h0M344.5 1276.2h0M338.1 1185.9h0M339.3 1268.5h0M338.7 1238.1h0M305.2 1206.5h0M346.3 1263.4h0M350.0 1210.0h0M335.5 1255.1h0M357.5 1263.1h0M347.0 1272.7h0M355.2 1197.1h0M304.3 1259.7h0M363.4 1237.8h0M347.2 1251.6h0M338.9 1240.8h0M321.1 1231.3h0M347.3 1242.8h0M300.8 1170.1h0M314.7 1198.7h0M320.7 1252.5h0M317.2 1196.9h0M330.1 1275.1h0M318.8 1239.8h0M349.5 1196.9h0M306.9 1245.6h0M313.0 1186.3h0M349.3 1231.0h0M338.0 1267.7h0M340.1 1274.9h0M353.9 1198.3h0M311.6 1198.0h0M345.2 1180.9h0M319.1 1269.4h0M358.6 1218.2h0M309.0 1205.1h0M344.8 1213.0h0M320.8 1253.1h0M315.5 1278.1h0M302.5 1191.6h0M336.8 1274.3h0M305.0 1266.0h0M345.1 1191.4h0M327.6 1247.3h0M347.9 1256.4h0M308.2 1204.3h0M315.9 1221.8h0M319.7 1165.2h0M319.0 1183.0h0M362.2 1260.3h0M359.2 1239.7h0M332.9 1266.3h0M312.4 1240.1h0M336.3 1224.9h0M314.8 1205.5h0M357.5 1246.3h0M302.7 1211.0h0M338.0 1225.3h0M311.9 1205.2h0M363.7 1244.3h0M336.9 1218.2h0M346.7 1190.8h0M310.6 1235.3h0M332.1 1237.0h0M309.8 1231.5h0M352.8 1172.0h0M350.0 1243.2h0M308.4 1258.1h0M337.0 1268.9h0M357.4 1198.6h0M328.6 1222.0h0M345.8 1199.0h0M349.2 1187.6h0M314.1 1275.6h0M356.1 1257.2h0M359.9 1197.7h0M362.2 1221.4h0M356.6 1218.5h0M352.2 1211.1h0M361.9 1251.8h0M321.3 1187.3h0M348.1 1219.5h0M349.1 1257.1h0M360.9 1234.1h0M348.2 1266.4h0M319.8 1218.6h0M304.8 1187.9h0M334.5 1226.6h0M355.6 1243.8h0M359.5 1243.6h0M335.9 1210.7h0M324.9 1187.4h0M351.1 1252.8h0M314.7 1242.0h0M344.7 1271.0h0M316.7 1216.6h0M321.1 1226.7h0M327.8 1230.5h0M316.7 1186.1h0M324.9 1240.9h0M325.0 1190.6h0M303.2 1214.3h0M342.9 1228.8h0M307.0 1237.2h0M308.8 1261.2h0M350.5 1241.4h0M331.3 1271.5h0M348.6 1265.7h0M310.2 1198.7h0M345.3 1221.5h0M358.8 1225.3h0M312.2 1178.2h0M359.7 1208.8h0M345.8 1176.1h0M346.2 1224.2h0M359.1 1239.1h0M313.2 1237.0h0M312.9 1259.4h0M308.0 1252.2h0M316.9 1202.0h0M301.5 1223.3h0M358.4 1266.5h0M337.4 1199.2h0M322.2 1261.9h0M318.8 1272.4h0M344.8 1191.0h0M310.1 1248.4h0M354.9 1228.8h0M313.8 1274.8h0M361.8 1210.3h0M317.5 1174.3h0M319.7 1225.3h0M326.6 1262.0h0M315.2 1185.1h0M329.2 1219.2h0M351.6 1173.4h0M349.6 1171.6h0M311.1 1190.3h0M331.7 1163.4h0M329.8 1158.2h0M317.7 1227.5h0M355.6 1212.9h0M322.6 1239.7h0M358.1 1227.3h0M337.1 1255.7h0M313.7 1185.1h0M357.7 1183.6h0M347.3 1278.7h0M320.9 1198.3h0M318.7 1176.8h0M330.0 1270.9h0M325.5 1263.4h0M359.9 1230.4h0M304.9 1224.0h0M354.6 1199.3h0M300.8 1200.9h0M353.4 1170.7h0M302.6 1205.1h0M335.1 1238.7h0M349.5 1234.8h0M352.5 1264.4h0M356.9 1229.9h0M320.9 1223.7h0M344.8 1172.3h0M340.9 1280.8h0M362.2 1216.2h0M319.1 1245.2h0M355.1 1232.3h0M302.3 1217.9h0M355.8 1273.0h0M300.8 1202.5h0M306.8 1243.5h0M358.4 1219.7h0M343.7 1223.4h0M332.9 1272.2h0M322.8 1234.8h0M343.1 1187.8h0M301.0 1265.5h0M344.7 1245.4h0M312.2 1232.3h0M309.5 1214.2h0M316.3 1241.3h0M322.2 1215.1h0M321.9 1208.2h0M320.3 1246.6h0M333.5 1269.6h0M322.0 1212.4h0M355.0 1257.2h0M360.9 1213.1h0M329.8 1261.3h0M318.1 1182.3h0M337.7 1249.4h0M346.6 1223.0h0M347.3 1275.2h0M310.1 1254.5h0M360.6 1214.0h0M351.5 1273.7h0M351.4 1259.1h0M345.5 1219.0h0M355.2 1223.9h0M311.9 1246.7h0M354.7 1201.7h0M311.2 1195.6h0M351.5 1177.5h0M356.3 1240.8h0M315.8 1197.4h0M363.4 1231.0h0M340.4 1237.4h0M355.3 1200.1h0M338.7 1177.9h0M310.6 1232.9h0M330.7 1238.9h0M332.5 1260.7h0M352.3 1202.3h0M319.6 1244.1h0M305.3 1213.2h0M328.9 1271.3h0M359.7 1243.8h0M332.8 1160.5h0M314.2 1196.5h0M332.7 1156.9h0M321.5 1160.8h0M360.5 1255.0h0M312.8 1197.1h0M304.7 1242.7h0M319.6 1271.8h0M356.4 1185.0h0M350.2 1277.3h0M344.8 1217.9h0M356.0 1262.8h0M353.4 1210.3h0M347.9 1171.9h0M359.9 1237.4h0M357.8 1269.4h0M356.7 1252.3h0M348.9 1171.9h0M358.1 1225.2h0M337.6 1176.8h0M360.7 1240.7h0M316.7 1243.8h0M340.9 1261.9h0M343.4 1273.8h0M306.9 1240.9h0M343.8 1180.1h0M339.8 1266.4h0M303.7 1221.9h0M352.6 1171.0h0M328.3 1234.5h0M304.3 1260.8h0M355.5 1199.7h0M307.7 1250.1h0M324.9 1276.4h0M314.8 1248.6h0M310.0 1207.4h0M336.4 1204.2h0M302.9 1248.1h0M309.7 1253.8h0M342.8 1249.8h0M341.9 1264.2h0M362.8 1224.6h0M338.3 1208.4h0M319.0 1246.8h0M314.5 1215.6h0M312.7 1237.2h0M303.7 1193.7h0M318.8 1211.9h0M340.5 1256.4h0M322.1 1248.2h0M354.6 1192.9h0M300.7 1253.3h0M331.7 1271.1h0M345.6 1226.3h0M308.9 1263.2h0M313.2 1244.6h0M341.8 1208.3h0M334.2 1164.0h0M359.0 1164.3h0M323.3 1197.4h0M320.3 1251.9h0M342.1 1268.3h0M346.4 1277.8h0M302.7 1224.6h0M321.0 1231.4h0M331.6 1266.0h0M317.8 1278.1h0M332.9 1236.5h0M316.2 1226.6h0M355.6 1183.4h0M323.2 1211.7h0M301.2 1262.6h0M307.9 1213.9h0M345.3 1235.2h0M344.1 1181.6h0M324.0 1206.3h0M348.6 1213.6h0M327.9 1257.8h0M340.9 1199.4h0M323.7 1198.5h0M313.2 1277.9h0M336.2 1244.1h0M348.1 1226.1h0M340.9 1223.2h0M313.7 1264.7h0M349.3 1198.1h0M352.9 1185.8h0M316.9 1247.0h0M330.8 1164.6h0M362.4 1252.8h0M336.4 1178.9h0M355.2 1209.5h0M308.1 1239.4h0M317.7 1261.9h0M306.0 1219.7h0M361.1 1206.7h0M320.6 1208.5h0M354.9 1230.5h0M317.7 1192.0h0M335.1 1237.8h0M325.7 1222.1h0M339.6 1254.5h0M359.6 1248.3h0M335.2 1161.0h0M362.6 1254.9h0M327.3 1272.6h0M323.6 1207.0h0M358.6 1261.7h0M315.6 1230.0h0M301.3 1255.5h0M352.8 1224.6h0M311.8 1257.0h0M316.8 1191.6h0M324.1 1226.4h0M340.2 1243.7h0M307.1 1168.8h0M339.3 1215.8h0M302.9 1186.4h0M341.6 1257.3h0M300.8 1183.4h0M317.5 1274.1h0M316.4 1240.4h0M305.8 1238.0h0M311.7 1257.0h0M345.7 1209.2h0M347.9 1221.5h0M331.8 1247.6h0M336.5 1260.6h0M316.2 1278.0h0M344.0 1265.8h0M308.5 1200.3h0M360.8 1180.3h0M348.7 1200.8h0M344.4 1191.8h0M347.3 1205.6h0M329.6 1243.6h0M357.5 1172.6h0M314.2 1238.5h0M305.8 1218.5h0M361.2 1200.6h0M362.4 1177.0h0M362.3 1199.6h0M318.8 1277.3h0M345.1 1175.1h0M310.9 1186.2h0M320.5 1258.7h0M353.9 1237.6h0M328.6 1274.9h0M360.9 1251.1h0M322.7 1193.6h0M357.7 1228.5h0M320.6 1246.5h0M350.8 1246.6h0M356.0 1190.0h0M304.4 1235.5h0M351.0 1170.9h0M336.4 1275.9h0M307.6 1270.0h0M309.8 1210.3h0M324.5 1280.4h0M354.7 1178.8h0M352.1 1220.3h0M350.2 1191.4h0M339.6 1202.5h0M321.6 1191.7h0M307.3 1226.0h0M336.1 1253.6h0M312.5 1247.3h0M327.1 1209.2h0M347.1 1185.0h0M312.8 1205.1h0M352.7 1269.8h0M355.1 1249.9h0M302.3 1237.8h0M309.4 1193.2h0M335.9 1251.7h0M312.9 1207.0h0M345.8 1269.0h0M328.8 1276.7h0M328.5 1158.0h0M300.2 1186.4h0M345.1 1253.6h0M362.9 1247.3h0M333.6 1230.7h0M311.5 1200.2h0M326.5 1263.3h0M358.7 1270.2h0M352.1 1208.0h0M327.7 1266.5h0M335.5 1222.1h0M317.9 1266.7h0M363.8 1190.0h0M326.2 1208.1h0M323.0 1217.2h0M338.5 1234.6h0M304.4 1239.4h0M353.5 1253.0h0M332.7 1159.3h0M313.2 1247.2h0M360.6 1181.5h0M328.2 1273.9h0M340.4 1176.3h0M336.0 1219.7h0M314.1 1220.3h0M319.9 1259.9h0M357.3 1219.9h0M321.6 1275.6h0M356.9 1224.2h0M344.2 1249.3h0M313.9 1229.5h0M335.3 1256.0h0M352.8 1252.9h0M320.2 1205.9h0M360.9 1190.3h0M319.1 1225.0h0M325.0 1225.2h0M340.1 1218.7h0M328.2 1271.8h0M316.2 1202.6h0M346.2 1260.8h0M341.0 1206.0h0M345.4 1204.0h0M318.2 1175.8h0M337.7 1215.3h0M309.1 1200.9h0M359.0 1194.2h0M325.7 1276.8h0M310.0 1254.6h0M326.6 1245.5h0M361.7 1242.6h0M301.4 1209.1h0M341.1 1204.8h0M314.2 1244.1h0M335.9 1208.2h0M347.3 1244.1h0M340.1 1199.7h0M332.3 1233.4h0M324.4 1260.8h0M353.3 1276.4h0M308.7 1210.2h0M316.7 1186.6h0M318.7 1268.8h0M306.5 1244.2h0M344.0 1223.8h0M314.4 1215.5h0M339.5 1180.6h0M351.0 1195.7h0M356.5 1169.5h0M332.6 1280.4h0M328.8 1162.2h0M307.7 1230.9h0M318.2 1238.4h0M357.9 1191.8h0M359.0 1170.4h0M362.8 1231.7h0M343.8 1270.6h0M304.6 1171.1h0M335.8 1160.1h0M350.7 1171.4h0M304.7 1241.0h0M313.1 1262.7h0M317.3 1195.0h0M345.7 1178.9h0M361.9 1204.4h0M302.7 1188.5h0M359.2 1175.3h0M324.7 1243.7h0M313.1 1268.9h0M353.1 1181.1h0M316.8 1278.5h0M355.8 1251.5h0M307.6 1219.0h0M339.0 1175.9h0M334.6 1279.1h0M320.4 1254.7h0M321.0 1230.4h0M351.4 1234.5h0M328.4 1270.9h0M324.3 1208.0h0M311.7 1266.6h0M342.5 1253.0h0M299.8 1260.4h0M311.8 1162.6h0M335.6 1204.5h0M323.2 1186.9h0M358.6 1263.9h0M313.3 1254.6h0M342.3 1239.1h0M351.5 1208.8h0M331.9 1249.5h0M321.5 1206.0h0M330.1 1236.3h0M321.8 1258.5h0M308.2 1237.5h0M337.4 1188.0h0M328.1 1231.1h0M334.7 1163.1h0M356.0 1174.9h0M345.5 1215.2h0M321.8 1204.2h0M344.0 1180.4h0M348.5 1240.2h0M331.6 1243.6h0M361.2 1236.7h0M340.5 1271.0h0M352.9 1230.9h0M360.4 1185.9h0M307.7 1216.4h0M336.3 1262.3h0M341.5 1178.1h0M318.7 1247.3h0M318.7 1231.4h0M302.6 1227.8h0M320.5 1247.0h0M327.8 1250.5h0M341.1 1201.3h0M315.2 1207.4h0M316.1 1227.9h0M343.6 1180.4h0M318.4 1228.4h0M355.1 1269.6h0M330.3 1273.7h0M333.3 1243.7h0M322.3 1228.9h0M321.3 1264.9h0M326.5 1207.2h0M319.8 1234.2h0M339.9 1201.3h0M304.0 1246.8h0M319.5 1274.0h0M351.5 1243.6h0M302.3 1266.8h0M323.3 1230.7h0M306.9 1191.0h0M358.0 1204.0h0M307.3 1208.6h0M353.0 1245.6h0M357.0 1192.9h0M330.8 1281.9h0M314.4 1207.6h0M332.7 1258.4h0M359.7 1188.5h0M357.7 1201.4h0M301.8 1180.3h0M311.6 1214.2h0M354.0 1192.8h0M338.4 1206.8h0M322.8 1193.9h0M321.4 1212.3h0M339.2 1208.5h0M328.2 1226.6h0M309.1 1232.9h0M348.0 1230.9h0M341.1 1194.6h0M351.1 1238.3h0M340.0 1221.6h0M355.2 1258.4h0M325.0 1252.1h0M361.7 1221.3h0M324.3 1190.5h0M349.3 1243.7h0M312.7 1225.3h0M361.6 1237.5h0M312.6 1222.2h0M334.7 1256.1h0M347.1 1271.2h0M299.9 1222.9h0M313.0 1214.8h0M302.2 1235.5h0M307.8 1256.1h0M352.9 1222.0h0M313.4 1237.9h0M349.1 1215.2h0M313.9 1186.8h0M341.5 1194.0h0M336.8 1216.7h0M329.1 1260.4h0M326.3 1206.4h0M339.3 1243.6h0M329.3 1162.2h0M360.7 1187.1h0M322.5 1217.0h0M309.7 1173.0h0M323.6 1224.4h0M350.7 1256.5h0M322.8 1248.5h0M316.4 1205.9h0M309.9 1249.8h0M327.8 1157.4h0M344.3 1241.9h0M353.5 1238.5h0M307.8 1270.7h0M354.4 1170.9h0M344.8 1256.9h0M314.5 1187.2h0M349.5 1189.4h0M359.6 1195.7h0M322.4 1232.3h0M357.2 1208.9h0M303.6 1270.0h0M361.8 1226.8h0M323.5 1265.6h0M326.9 1205.1h0M312.1 1271.2h0M301.0 1264.0h0M346.3 1276.3h0M340.0 1174.5h0M339.7 1261.2h0M350.4 1268.2h0M329.1 1258.3h0M312.3 1194.0h0M324.5 1256.0h0M325.9 1238.6h0M317.5 1219.4h0M325.0 1264.3h0M320.9 1206.6h0M347.3 1174.6h0M345.0 1173.0h0M328.9 1161.0h0M338.7 1261.3h0M321.8 1206.8h0M319.9 1188.6h0M335.5 1235.0h0M336.3 1215.0h0M356.0 1252.2h0M299.8 1258.4h0M320.8 1202.0h0M327.2 1248.0h0M350.8 1241.3h0M355.5 1177.3h0M360.1 1247.4h0M323.2 1236.3h0M303.7 1243.0h0M350.0 1194.3h0M303.3 1261.7h0M358.8 1241.0h0M318.8 1191.8h0M317.0 1254.9h0M320.4 1263.8h0M312.8 1265.5h0M354.6 1202.6h0M316.5 1245.5h0M308.2 1184.0h0M340.4 1181.9h0M346.4 1236.7h0M353.0 1196.8h0M325.7 1211.1h0M322.6 1241.1h0M321.0 1188.8h0M361.1 1247.7h0M319.0 1226.0h0M301.5 1266.8h0M315.2 1223.0h0M315.7 1200.1h0M326.6 1231.3h0M343.0 1278.3h0M300.0 1213.2h0M311.9 1259.9h0M336.4 1231.3h0M349.2 1245.2h0M357.7 1254.9h0M355.1 1223.6h0M350.7 1210.5h0M323.2 1272.4h0M304.6 1195.5h0M301.1 1187.7h0M304.7 1248.9h0M308.2 1247.7h0M360.6 1203.2h0M312.7 1204.6h0M323.2 1275.8h0M352.6 1227.8h0M323.1 1216.2h0M338.8 1259.5h0M301.6 1239.5h0M340.4 1263.1h0M360.6 1225.6h0M308.8 1189.6h0M317.2 1199.2h0M339.9 1279.8h0M337.7 1167.7h0M347.6 1251.3h0M337.3 1279.1h0M359.2 1216.8h0M337.8 1180.3h0M338.3 1228.5h0M342.4 1195.1h0M359.0 1264.1h0M347.5 1202.1h0M350.6 1204.6h0M361.0 1268.8h0M320.7 1233.9h0M315.6 1261.2h0M354.8 1245.2h0M332.7 1158.6h0M309.6 1273.0h0M300.5 1197.9h0M355.1 1222.8h0M340.1 1266.4h0M320.4 1274.5h0M358.3 1209.7h0M336.4 1183.3h0M361.3 1225.5h0M304.9 1232.6h0M303.5 1180.5h0M356.8 1181.9h0M355.7 1239.9h0M319.3 1219.0h0M346.8 1268.8h0M314.0 1277.9h0M324.0 1269.9h0M344.1 1206.9h0M334.0 1270.3h0M305.8 1257.6h0M349.4 1244.9h0M316.1 1230.6h0M318.0 1208.1h0M314.8 1256.0h0M341.4 1267.0h0M342.1 1199.9h0M349.1 1239.9h0M347.8 1245.4h0M319.6 1245.0h0M304.8 1204.5h0M363.2 1227.3h0M349.1 1278.3h0M321.8 1259.3h0M334.0 1249.6h0M348.6 1270.7h0M304.1 1265.7h0M336.0 1215.1h0M352.3 1174.2h0M362.9 1205.4h0M312.9 1247.1h0M357.3 1217.3h0M311.1 1188.5h0M338.2 1246.5h0M312.0 1226.6h0M352.2 1229.0h0M362.2 1257.6h0M325.9 1264.9h0M307.3 1232.1h0M348.5 1181.7h0M329.4 1231.0h0M315.1 1250.6h0M356.1 1250.7h0M312.7 1247.9h0M363.0 1235.4h0M302.0 1225.2h0M361.8 1187.0h0M323.4 1268.2h0M317.4 1189.5h0M304.1 1236.5h0M321.0 1233.4h0M360.3 1223.8h0M346.3 1264.4h0M355.4 1192.8h0M302.7 1267.9h0M309.5 1271.4h0M348.4 1232.5h0M337.3 1192.3h0M349.6 1209.1h0M348.5 1227.1h0M302.1 1188.4h0M352.3 1192.3h0M343.2 1243.3h0M356.9 1239.9h0M361.5 1190.8h0M358.4 1193.4h0M338.3 1277.6h0M355.8 1252.7h0M337.9 1274.0h0M318.7 1223.5h0M354.0 1249.7h0M355.8 1241.9h0M314.2 1203.3h0M340.1 1207.0h0M346.0 1272.3h0M346.0 1212.6h0M323.1 1257.3h0M344.2 1208.5h0M343.1 1261.8h0M327.0 1246.1h0M314.8 1217.9h0M302.1 1256.2h0M322.9 1241.4h0M329.6 1164.1h0M351.2 1236.7h0M360.9 1224.0h0M359.4 1254.1h0M304.8 1195.9h0M309.6 1259.4h0M301.6 1213.4h0M333.0 1271.9h0M313.3 1241.9h0M323.7 1276.4h0M322.8 1210.7h0M311.0 1274.8h0M362.2 1251.5h0M344.1 1271.8h0M352.0 1179.4h0M316.7 1261.0h0M359.2 1213.8h0M360.4 1252.4h0M301.0 1238.3h0M363.0 1252.0h0M308.2 1188.0h0M363.3 1237.3h0M330.0 1256.6h0M320.8 1270.9h0M318.2 1262.0h0M323.1 1229.2h0M345.8 1195.9h0M345.8 1230.8h0M344.4 1228.8h0M316.7 1252.1h0M313.6 1189.4h0M301.7 1221.0h0M350.3 1226.3h0M309.3 1238.4h0M342.1 1196.0h0M363.6 1200.0h0M357.2 1223.6h0M314.6 1247.6h0M340.3 1203.0h0M324.5 1196.1h0M352.3 1185.6h0M323.7 1243.6h0M357.3 1271.8h0M307.6 1273.8h0M304.8 1242.6h0M304.5 1199.0h0M302.3 1229.1h0M325.5 1231.8h0M306.1 1234.9h0M315.3 1257.4h0M299.8 1235.1h0M319.3 1231.2h0M310.0 1269.6h0M341.0 1207.5h0M348.2 1237.4h0M327.4 1204.1h0M306.4 1213.0h0M337.5 1232.5h0M323.6 1211.4h0M311.1 1241.9h0M301.1 1197.0h0M329.4 1276.3h0M349.7 1195.4h0M347.4 1263.7h0M341.9 1231.2h0M324.9 1205.4h0M337.1 1226.5h0M359.5 1176.9h0M303.1 1181.0h0M348.2 1199.8h0M338.1 1277.3h0M343.0 1213.2h0M352.0 1203.7h0M321.1 1235.5h0M344.0 1178.4h0M335.8 1163.5h0M361.6 1227.8h0M354.6 1228.6h0M308.3 1204.4h0M337.7 1218.5h0M301.2 1216.5h0M306.5 1241.7h0M339.6 1156.8h0M317.7 1237.4h0M314.6 1230.9h0M300.7 1199.2h0M337.2 1213.0h0M354.5 1185.4h0M313.1 1262.8h0M310.5 1211.7h0M341.2 1242.1h0M312.0 1229.5h0M299.8 1176.6h0M320.1 1172.1h0M362.4 1248.7h0M342.9 1229.7h0M314.8 1270.8h0M358.5 1191.4h0M320.0 1180.1h0M305.5 1248.5h0M335.1 1232.6h0M307.0 1249.3h0M305.6 1206.9h0M337.5 1217.5h0M360.2 1184.6h0M318.5 1194.3h0M353.6 1233.2h0M324.4 1281.0h0M357.8 1157.0h0M341.0 1242.5h0M356.3 1270.9h0M306.0 1272.4h0M337.5 1262.6h0M337.0 1198.7h0M343.4 1274.3h0M342.6 1246.1h0M353.5 1239.7h0M317.0 1254.5h0M313.9 1224.1h0M338.3 1258.1h0M324.6 1225.3h0M338.8 1182.3h0M319.4 1214.6h0M311.8 1201.4h0M316.8 1203.5h0M349.8 1191.5h0M318.5 1259.8h0M308.1 1238.1h0M345.4 1258.0h0M332.1 1270.5h0M351.8 1251.2h0M333.3 1270.7h0M324.9 1248.2h0M359.8 1195.9h0M308.9 1208.6h0M362.6 1241.8h0M347.1 1237.2h0M345.1 1258.0h0M362.8 1177.5h0M305.8 1230.3h0M339.1 1225.0h0M344.3 1186.8h0M306.3 1224.8h0M318.5 1257.0h0M314.0 1216.0h0M343.2 1209.3h0M337.5 1170.8h0M323.6 1191.4h0M309.5 1275.0h0M311.5 1244.3h0M336.3 1237.2h0M353.7 1211.8h0M311.6 1245.5h0M319.5 1222.5h0M348.4 1210.7h0M322.0 1235.8h0M353.7 1220.4h0M359.6 1223.9h0M351.2 1189.4h0M346.7 1213.5h0M350.6 1258.4h0M346.3 1188.6h0M329.8 1266.9h0M307.0 1268.8h0M361.9 1221.4h0M303.6 1202.4h0M305.4 1203.4h0M355.9 1183.6h0M340.7 1262.5h0M309.3 1222.8h0M333.6 1263.7h0M342.0 1261.8h0M346.1 1254.5h0M302.9 1175.9h0M340.7 1198.5h0M316.2 1209.4h0M352.9 1197.4h0M335.4 1205.8h0M354.0 1272.4h0M318.4 1238.0h0M336.4 1232.1h0M310.3 1259.8h0M349.8 1184.4h0M326.4 1223.2h0M331.5 1279.2h0M310.1 1244.5h0M345.5 1185.9h0M358.9 1181.5h0M346.5 1216.0h0M338.5 1207.2h0M325.8 1190.1h0M359.4 1212.8h0M357.3 1231.2h0M312.6 1230.6h0M341.7 1258.4h0M344.4 1254.7h0M353.7 1177.7h0M349.1 1266.8h0M349.4 1262.5h0M318.5 1245.3h0M341.1 1219.6h0M309.0 1215.0h0M330.6 1236.1h0M306.1 1212.2h0M350.8 1176.6h0M341.7 1179.3h0M344.4 1217.1h0M346.2 1263.9h0M345.1 1184.8h0" stroke="#BEBEBE" stroke-width="5.8" stroke-linecap="round" fill="none"/>
<path d="M286.0 1159.6h0M275.5 1172.8h0M286.7 1171.9h0M286.0 1184.7h0M224.2 1182.4h0M298.1 1186.8h0M296.0 1193.8h0M234.7 1202.6h0M257.4 1200.8h0M266.2 1202.2h0M261.8 1207.5h0M266.2 1206.4h0M287.8 1201.2h0M296.5 1203.4h0M280.2 1211.0h0M286.0 1211.7h0M222.4 1218.0h0M232.0 1226.2h0M271.8 1217.4h0M276.7 1218.0h0M281.1 1221.0h0M283.7 1221.0h0M296.5 1215.7h0M296.0 1221.5h0M258.3 1223.2h0M261.8 1228.5h0M267.1 1228.8h0M269.7 1231.5h0M274.6 1225.7h0M281.1 1230.2h0M286.4 1232.3h0M293.4 1227.1h0M296.0 1232.3h0M279.3 1235.8h0M254.5 1237.6h0M265.3 1239.3h0M283.7 1241.1h0M290.7 1241.1h0M295.1 1241.1h0M284.6 1245.5h0M289.9 1247.2h0M295.1 1245.5h0M259.2 1248.1h0M261.8 1248.1h0M267.1 1250.7h0M269.7 1254.2h0M277.6 1249.0h0M278.5 1257.7h0M282.0 1254.2h0M285.5 1258.6h0M288.1 1253.4h0M293.4 1255.1h0M296.9 1256.9h0M292.5 1262.1h0M295.1 1264.8h0M296.9 1268.3h0M281.1 1244.6h0M290.0 1236.0h0M292.0 1249.0h0M287.0 1226.0h0M297.0 1250.0h0M284.0 1236.0h0M291.0 1231.0h0M278.0 1240.0h0M297.0 1238.0h0M288.0 1260.0h0M366.9 1172.8h0M374.6 1172.8h0M387.4 1172.8h0M390.9 1175.4h0M424.2 1171.4h0M371.6 1187.7h0M376.0 1193.4h0M366.4 1190.3h0M368.1 1196.4h0M369.0 1201.7h0M377.8 1199.9h0M382.2 1198.2h0M386.2 1196.4h0M393.2 1188.2h0M397.0 1188.5h0M415.4 1187.7h0M424.2 1186.4h0M423.7 1196.4h0M414.9 1208.7h0M365.5 1209.6h0M370.8 1212.2h0M373.4 1215.7h0M382.2 1213.9h0M385.7 1214.8h0M388.3 1218.3h0M377.8 1221.0h0M383.0 1221.8h0M393.5 1221.0h0M397.9 1219.2h0M399.7 1215.7h0M400.5 1220.1h0M367.3 1225.3h0M371.6 1227.1h0M390.0 1227.1h0M408.4 1226.7h0M411.9 1233.2h0M397.0 1230.6h0M374.3 1230.2h0M385.7 1234.1h0M369.0 1237.6h0M376.9 1238.5h0M376.9 1241.1h0M386.5 1240.8h0M390.9 1239.7h0M369.9 1244.6h0M373.4 1247.2h0M367.3 1251.6h0M375.7 1254.2h0M367.3 1256.9h0M370.8 1263.5h0M378.7 1264.8h0M366.4 1229.7h0M366.4 1236.0h0M372.0 1233.0h0M368.0 1219.0h0M372.0 1243.0h0M366.0 1246.0h0M378.0 1226.0h0M374.0 1222.0h0M366.6 1172.0h0M374.3 1174.2h0M387.4 1173.0h0M390.7 1175.2h0M423.6 1170.9h0" stroke="#EFA21C" stroke-width="5.8" stroke-linecap="round" fill="none"/>
<path d="M286.0 1159.6h0M275.5 1172.8h0M286.7 1171.9h0M286.0 1184.7h0M224.2 1182.4h0M298.1 1186.8h0M296.0 1193.8h0M234.7 1202.6h0M257.4 1200.8h0M266.2 1202.2h0M261.8 1207.5h0M266.2 1206.4h0M287.8 1201.2h0M296.5 1203.4h0M280.2 1211.0h0M286.0 1211.7h0M222.4 1218.0h0M232.0 1226.2h0M271.8 1217.4h0M276.7 1218.0h0M281.1 1221.0h0M283.7 1221.0h0M296.5 1215.7h0M296.0 1221.5h0M258.3 1223.2h0M261.8 1228.5h0M267.1 1228.8h0M269.7 1231.5h0M274.6 1225.7h0M281.1 1230.2h0M286.4 1232.3h0M293.4 1227.1h0M296.0 1232.3h0M279.3 1235.8h0M254.5 1237.6h0M265.3 1239.3h0M283.7 1241.1h0M290.7 1241.1h0M295.1 1241.1h0M284.6 1245.5h0M289.9 1247.2h0M295.1 1245.5h0M259.2 1248.1h0M261.8 1248.1h0M267.1 1250.7h0M269.7 1254.2h0M277.6 1249.0h0M278.5 1257.7h0M282.0 1254.2h0M285.5 1258.6h0M288.1 1253.4h0M293.4 1255.1h0M296.9 1256.9h0M292.5 1262.1h0M295.1 1264.8h0M296.9 1268.3h0M281.1 1244.6h0M290.0 1236.0h0M292.0 1249.0h0M287.0 1226.0h0M297.0 1250.0h0M284.0 1236.0h0M291.0 1231.0h0M278.0 1240.0h0M297.0 1238.0h0M288.0 1260.0h0M366.9 1172.8h0M374.6 1172.8h0M387.4 1172.8h0M390.9 1175.4h0M424.2 1171.4h0M371.6 1187.7h0M376.0 1193.4h0M366.4 1190.3h0M368.1 1196.4h0M369.0 1201.7h0M377.8 1199.9h0M382.2 1198.2h0M386.2 1196.4h0M393.2 1188.2h0M397.0 1188.5h0M415.4 1187.7h0M424.2 1186.4h0M423.7 1196.4h0M414.9 1208.7h0M365.5 1209.6h0M370.8 1212.2h0M373.4 1215.7h0M382.2 1213.9h0M385.7 1214.8h0M388.3 1218.3h0M377.8 1221.0h0M383.0 1221.8h0M393.5 1221.0h0M397.9 1219.2h0M399.7 1215.7h0M400.5 1220.1h0M367.3 1225.3h0M371.6 1227.1h0M390.0 1227.1h0M408.4 1226.7h0M411.9 1233.2h0M397.0 1230.6h0M374.3 1230.2h0M385.7 1234.1h0M369.0 1237.6h0M376.9 1238.5h0M376.9 1241.1h0M386.5 1240.8h0M390.9 1239.7h0M369.9 1244.6h0M373.4 1247.2h0M367.3 1251.6h0M375.7 1254.2h0M367.3 1256.9h0M370.8 1263.5h0M378.7 1264.8h0M366.4 1229.7h0M366.4 1236.0h0M372.0 1233.0h0M368.0 1219.0h0M372.0 1243.0h0M366.0 1246.0h0M378.0 1226.0h0M374.0 1222.0h0M366.6 1172.0h0M374.3 1174.2h0M387.4 1173.0h0M390.7 1175.2h0M423.6 1170.9h0" stroke="#F8AE2C" stroke-width="4.7" stroke-linecap="round" fill="none"/>
<path d="M343.2 1100.8h0M362.3 1110.7h0M311.9 1139.1h0M306.4 1146.8h0M307.5 1151.2h0M339.3 1133.6h0M342.6 1135.8h0M356.8 1138.0h0M325.5 1137.4h0M305.6 1146.6h0M303.0 1150.0h0" stroke="#9636E2" stroke-width="5.8" stroke-linecap="round" fill="none"/>
<path d="M343.2 1100.8h0M362.3 1110.7h0M311.9 1139.1h0M306.4 1146.8h0M307.5 1151.2h0M339.3 1133.6h0M342.6 1135.8h0M356.8 1138.0h0M325.5 1137.4h0M305.6 1146.6h0M303.0 1150.0h0" stroke="#A746EE" stroke-width="4.7" stroke-linecap="round" fill="none"/>
<path d="M235.8 899.9h0M239.1 897.1h0M433.3 979.9h0M430.9 981.5h0M608.4 1001.5h0M606.5 1002.8h0M277.4 1031.2h0M275.2 1032.7h0M276.7 1116.4h0M252.0 1112.7h0M286.6 1124.3h0M259.6 1133.1h0M293.6 1128.0h0M237.7 1137.9h0M229.6 1144.9h0M253.1 1141.2h0M367.1 1113.3h0M370.0 1111.5h0M368.2 1135.2h0M371.5 1147.4h0M384.2 1144.6h0M398.8 1144.6h0M414.2 1151.2h0M436.1 1121.2h0M435.6 1121.2h0" stroke="#BE2026" stroke-width="5.8" stroke-linecap="round" fill="none"/>
<path d="M235.8 899.9h0M239.1 897.1h0M433.3 979.9h0M430.9 981.5h0M608.4 1001.5h0M606.5 1002.8h0M277.4 1031.2h0M275.2 1032.7h0M276.7 1116.4h0M252.0 1112.7h0M286.6 1124.3h0M259.6 1133.1h0M293.6 1128.0h0M237.7 1137.9h0M229.6 1144.9h0M253.1 1141.2h0M367.1 1113.3h0M370.0 1111.5h0M368.2 1135.2h0M371.5 1147.4h0M384.2 1144.6h0M398.8 1144.6h0M414.2 1151.2h0M436.1 1121.2h0M435.6 1121.2h0" stroke="#D8302F" stroke-width="4.7" stroke-linecap="round" fill="none"/>
<line x1="299.66" y1="1303.8" x2="299.66" y2="814.1" stroke="#3a3a3a" stroke-width="1.55" stroke-dasharray="7.4 3.48"/>
<line x1="363.74" y1="1303.8" x2="363.74" y2="814.1" stroke="#3a3a3a" stroke-width="1.55" stroke-dasharray="7.4 3.48"/>
<line x1="46.4" y1="1153.53" x2="680.9" y2="1153.53" stroke="#3a3a3a" stroke-width="1.55" stroke-dasharray="7.4 3.48"/>
<line x1="239.1" y1="897.1" x2="237.7" y2="898.7" stroke="#870E0E" stroke-width="1.65"/><path d="M240.5 895.5L239.4 900.2L236.0 897.3Z" fill="#fff" stroke="#870E0E" stroke-width="1.55" stroke-linejoin="miter"/>
<line x1="430.9" y1="981.5" x2="431.2" y2="981.1" stroke="#870E0E" stroke-width="1.65"/><path d="M428.5 984.5L429.4 979.7L432.9 982.5Z" fill="#fff" stroke="#870E0E" stroke-width="1.55" stroke-linejoin="miter"/>
<line x1="606.5" y1="1002.8" x2="606.4" y2="1002.9" stroke="#870E0E" stroke-width="1.65"/><path d="M604.0 1006.5L604.5 1001.7L608.3 1004.2Z" fill="#fff" stroke="#870E0E" stroke-width="1.55" stroke-linejoin="miter"/>
<line x1="275.2" y1="1032.7" x2="275.5" y2="1032.4" stroke="#870E0E" stroke-width="1.65"/><path d="M272.5 1035.5L273.9 1030.8L277.1 1034.0Z" fill="#fff" stroke="#870E0E" stroke-width="1.55" stroke-linejoin="miter"/>
<line x1="276.7" y1="1116.4" x2="266.9" y2="1094.3" stroke="#870E0E" stroke-width="1.65"/><path d="M265.1 1090.4L268.9 1093.4L264.8 1095.2Z" fill="#fff" stroke="#870E0E" stroke-width="1.55" stroke-linejoin="miter"/>
<line x1="252.0" y1="1112.7" x2="238.3" y2="1106.4" stroke="#870E0E" stroke-width="1.65"/><path d="M234.4 1104.6L239.2 1104.4L237.4 1108.4Z" fill="#fff" stroke="#870E0E" stroke-width="1.55" stroke-linejoin="miter"/>
<line x1="286.6" y1="1124.3" x2="288.4" y2="1115.4" stroke="#870E0E" stroke-width="1.65"/><path d="M289.2 1111.2L290.6 1115.9L286.2 1115.0Z" fill="#fff" stroke="#870E0E" stroke-width="1.55" stroke-linejoin="miter"/>
<line x1="259.6" y1="1133.1" x2="259.0" y2="1132.3" stroke="#870E0E" stroke-width="1.65"/><path d="M256.3 1129.0L260.7 1130.9L257.2 1133.8Z" fill="#fff" stroke="#870E0E" stroke-width="1.55" stroke-linejoin="miter"/>
<line x1="293.6" y1="1128.0" x2="292.7" y2="1129.4" stroke="#870E0E" stroke-width="1.65"/><path d="M290.5 1133.1L290.8 1128.3L294.7 1130.6Z" fill="#fff" stroke="#870E0E" stroke-width="1.55" stroke-linejoin="miter"/>
<line x1="237.7" y1="1137.9" x2="225.6" y2="1143.3" stroke="#870E0E" stroke-width="1.65"/><path d="M221.7 1145.0L224.7 1141.2L226.5 1145.3Z" fill="#fff" stroke="#870E0E" stroke-width="1.55" stroke-linejoin="miter"/>
<line x1="229.6" y1="1144.9" x2="219.6" y2="1157.5" stroke="#870E0E" stroke-width="1.65"/><path d="M216.9 1160.9L217.8 1156.1L221.3 1158.9Z" fill="#fff" stroke="#870E0E" stroke-width="1.55" stroke-linejoin="miter"/>
<line x1="253.1" y1="1141.2" x2="256.9" y2="1150.3" stroke="#870E0E" stroke-width="1.65"/><path d="M258.5 1154.3L254.8 1151.2L258.9 1149.5Z" fill="#fff" stroke="#870E0E" stroke-width="1.55" stroke-linejoin="miter"/>
<line x1="367.1" y1="1113.3" x2="369.3" y2="1111.4" stroke="#870E0E" stroke-width="1.65"/><path d="M372.5 1108.5L370.8 1113.0L367.8 1109.7Z" fill="#fff" stroke="#870E0E" stroke-width="1.55" stroke-linejoin="miter"/>
<line x1="368.2" y1="1135.2" x2="365.8" y2="1133.0" stroke="#870E0E" stroke-width="1.65"/><path d="M362.7 1130.0L367.4 1131.3L364.3 1134.6Z" fill="#fff" stroke="#870E0E" stroke-width="1.55" stroke-linejoin="miter"/>
<line x1="384.2" y1="1144.6" x2="388.3" y2="1142.2" stroke="#870E0E" stroke-width="1.65"/><path d="M392.0 1140.0L389.4 1144.1L387.2 1140.2Z" fill="#fff" stroke="#870E0E" stroke-width="1.55" stroke-linejoin="miter"/>
<line x1="398.8" y1="1144.6" x2="447.5" y2="1134.1" stroke="#870E0E" stroke-width="1.65"/><path d="M451.7 1133.2L448.0 1136.3L447.0 1131.9Z" fill="#fff" stroke="#870E0E" stroke-width="1.55" stroke-linejoin="miter"/>
<line x1="371.5" y1="1147.4" x2="364.3" y2="1146.5" stroke="#870E0E" stroke-width="1.65"/><path d="M360.0 1146.0L364.5 1144.3L364.0 1148.8Z" fill="#fff" stroke="#870E0E" stroke-width="1.55" stroke-linejoin="miter"/>
<line x1="371.5" y1="1147.4" x2="362.5" y2="1160.0" stroke="#870E0E" stroke-width="1.65"/><path d="M360.0 1163.5L360.7 1158.7L364.3 1161.3Z" fill="#fff" stroke="#870E0E" stroke-width="1.55" stroke-linejoin="miter"/>
<line x1="371.5" y1="1147.4" x2="376.8" y2="1153.8" stroke="#870E0E" stroke-width="1.65"/><path d="M379.5 1157.1L375.0 1155.2L378.5 1152.4Z" fill="#fff" stroke="#870E0E" stroke-width="1.55" stroke-linejoin="miter"/>
<line x1="436.1" y1="1121.2" x2="436.9" y2="1119.8" stroke="#870E0E" stroke-width="1.65"/><path d="M439.0 1116.1L438.8 1121.0L434.9 1118.7Z" fill="#fff" stroke="#870E0E" stroke-width="1.55" stroke-linejoin="miter"/>
<line x1="414.2" y1="1151.2" x2="427.1" y2="1153.7" stroke="#870E0E" stroke-width="1.65"/><path d="M431.3 1154.5L426.7 1155.9L427.5 1151.5Z" fill="#fff" stroke="#870E0E" stroke-width="1.55" stroke-linejoin="miter"/>
<rect x="223.1" y="881.8" width="55.4" height="13.6" rx="1.8" fill="#fff" stroke="#3c3c3c" stroke-width="1.0"/><text x="250.8" y="891.7" text-anchor="middle" class="lab">HLA-DQB1</text>
<rect x="390.5" y="984.5" width="55.4" height="13.6" rx="1.8" fill="#fff" stroke="#3c3c3c" stroke-width="1.0"/><text x="418.2" y="994.4" text-anchor="middle" class="lab">HLA-DQB2</text>
<rect x="573.1" y="1006.5" width="40.2" height="13.6" rx="1.8" fill="#fff" stroke="#3c3c3c" stroke-width="1.0"/><text x="593.2" y="1016.4" text-anchor="middle" class="lab">GSTM1</text>
<rect x="235.2" y="1035.5" width="54.9" height="13.6" rx="1.8" fill="#fff" stroke="#3c3c3c" stroke-width="1.0"/><text x="262.6" y="1045.4" text-anchor="middle" class="lab">HLA-DQA1</text>
<rect x="242.5" y="1076.6" width="43.0" height="13.6" rx="1.8" fill="#fff" stroke="#3c3c3c" stroke-width="1.0"/><text x="264.0" y="1086.5" text-anchor="middle" class="lab">IGHV1-2</text>
<rect x="190.7" y="1096.9" width="43.3" height="13.6" rx="1.8" fill="#fff" stroke="#3c3c3c" stroke-width="1.0"/><text x="212.3" y="1106.8" text-anchor="middle" class="lab">SYCP2L</text>
<rect x="274.3" y="1098.0" width="31.7" height="13.6" rx="1.8" fill="#fff" stroke="#3c3c3c" stroke-width="1.0"/><text x="290.1" y="1107.9" text-anchor="middle" class="lab">FMN1</text>
<rect x="214.7" y="1118.2" width="41.2" height="13.6" rx="1.8" fill="#fff" stroke="#3c3c3c" stroke-width="1.0"/><text x="235.3" y="1128.1" text-anchor="middle" class="lab">MYOM2</text>
<rect x="265.5" y="1133.1" width="32.0" height="13.6" rx="1.8" fill="#fff" stroke="#3c3c3c" stroke-width="1.0"/><text x="281.5" y="1143.0" text-anchor="middle" class="lab">CNR1</text>
<rect x="167.7" y="1139.6" width="53.6" height="13.6" rx="1.8" fill="#fff" stroke="#3c3c3c" stroke-width="1.0"/><text x="194.5" y="1149.5" text-anchor="middle" class="lab">HLA-DRB5</text>
<rect x="187.4" y="1160.9" width="44.9" height="13.6" rx="1.8" fill="#fff" stroke="#3c3c3c" stroke-width="1.0"/><text x="209.9" y="1170.8" text-anchor="middle" class="lab">NUTM2E</text>
<rect x="240.4" y="1154.3" width="41.6" height="13.6" rx="1.8" fill="#fff" stroke="#3c3c3c" stroke-width="1.0"/><text x="261.2" y="1164.2" text-anchor="middle" class="lab">CYP4F2</text>
<rect x="364.0" y="1094.9" width="37.7" height="13.6" rx="1.8" fill="#fff" stroke="#3c3c3c" stroke-width="1.0"/><text x="382.9" y="1104.8" text-anchor="middle" class="lab">HEBP1</text>
<rect x="313.6" y="1118.3" width="48.7" height="13.6" rx="1.8" fill="#fff" stroke="#3c3c3c" stroke-width="1.0"/><text x="338.0" y="1128.2" text-anchor="middle" class="lab">FAM215B</text>
<rect x="371.0" y="1126.2" width="73.9" height="13.6" rx="1.8" fill="#fff" stroke="#3c3c3c" stroke-width="1.0"/><text x="407.9" y="1136.1" text-anchor="middle" class="lab">RP11-678G14.3</text>
<rect x="452.1" y="1126.2" width="73.8" height="13.6" rx="1.8" fill="#fff" stroke="#3c3c3c" stroke-width="1.0"/><text x="489.0" y="1136.1" text-anchor="middle" class="lab">RP11-420K14.2</text>
<rect x="316.7" y="1139.6" width="42.9" height="13.6" rx="1.8" fill="#fff" stroke="#3c3c3c" stroke-width="1.0"/><text x="338.1" y="1149.5" text-anchor="middle" class="lab">GPR146</text>
<rect x="333.8" y="1161.0" width="25.8" height="13.6" rx="1.8" fill="#fff" stroke="#3c3c3c" stroke-width="1.0"/><text x="346.7" y="1170.9" text-anchor="middle" class="lab">C4B</text>
<rect x="367.2" y="1157.1" width="57.3" height="13.6" rx="1.8" fill="#fff" stroke="#3c3c3c" stroke-width="1.0"/><text x="395.9" y="1167.0" text-anchor="middle" class="lab">ARHGEF37</text>
<rect x="413.6" y="1102.6" width="74.4" height="13.6" rx="1.8" fill="#fff" stroke="#3c3c3c" stroke-width="1.0"/><text x="450.8" y="1112.5" text-anchor="middle" class="lab">CH507-513H4.1</text>
<rect x="431.7" y="1147.9" width="54.8" height="13.6" rx="1.8" fill="#fff" stroke="#3c3c3c" stroke-width="1.0"/><text x="459.1" y="1157.8" text-anchor="middle" class="lab">HLA-DQA2</text>
<rect x="46.4" y="814.1" width="634.5" height="489.7" fill="none" stroke="#505050" stroke-width="1.2"/>
<line x1="171.5" y1="1303.8" x2="171.5" y2="1309.6" stroke="#1e1e1e" stroke-width="1.6"/>
<text x="171.5" y="1323.1" text-anchor="middle" class="tick">-2.5</text>
<line x1="331.7" y1="1303.8" x2="331.7" y2="1309.6" stroke="#1e1e1e" stroke-width="1.6"/>
<text x="331.7" y="1323.1" text-anchor="middle" class="tick">0.0</text>
<line x1="491.9" y1="1303.8" x2="491.9" y2="1309.6" stroke="#1e1e1e" stroke-width="1.6"/>
<text x="491.9" y="1323.1" text-anchor="middle" class="tick">2.5</text>
<line x1="652.1" y1="1303.8" x2="652.1" y2="1309.6" stroke="#1e1e1e" stroke-width="1.6"/>
<text x="652.1" y="1323.1" text-anchor="middle" class="tick">5.0</text>
<line x1="40.6" y1="1281.7" x2="46.4" y2="1281.7" stroke="#1e1e1e" stroke-width="1.6"/>
<text x="35.8" y="1285.6" text-anchor="end" class="tick">0</text>
<line x1="40.6" y1="1170.3" x2="46.4" y2="1170.3" stroke="#1e1e1e" stroke-width="1.6"/>
<text x="35.8" y="1174.2" text-anchor="end" class="tick">2</text>
<line x1="40.6" y1="1058.9" x2="46.4" y2="1058.9" stroke="#1e1e1e" stroke-width="1.6"/>
<text x="35.8" y="1062.8" text-anchor="end" class="tick">4</text>
<line x1="40.6" y1="947.5" x2="46.4" y2="947.5" stroke="#1e1e1e" stroke-width="1.6"/>
<text x="35.8" y="951.4" text-anchor="end" class="tick">6</text>
<line x1="40.6" y1="836.1" x2="46.4" y2="836.1" stroke="#1e1e1e" stroke-width="1.6"/>
<text x="35.8" y="840.0" text-anchor="end" class="tick">8</text>
<text x="365.1" y="1338.9" text-anchor="middle" class="axt">Log<tspan font-size="8" dy="2.4">2</tspan><tspan dy="-2.4"> fold change</tspan></text>
<text transform="translate(19.1 1056.5) rotate(-90)" text-anchor="middle" class="axt" style="font-size:11px"><tspan>−</tspan><tspan dx="2.4">Log</tspan><tspan font-size="8" dy="2.3" dx="0.6">10</tspan><tspan dy="-2.3" dx="2.6" font-style="italic">P</tspan></text>
<circle cx="168.9" cy="1387.0" r="4.75" fill="#BEBEBE" stroke="#B8B8B8" stroke-width="0.9"/>
<text x="188.9" y="1391.2" class="leg">Not Sign</text>
<circle cx="254.3" cy="1387.0" r="4.75" fill="#F8AE2C" stroke="#EFA21C" stroke-width="0.9"/>
<text x="274.0" y="1391.2" class="leg">Log<tspan font-size="8.7" dy="2.6">2</tspan><tspan dy="-2.6"> FC</tspan></text>
<circle cx="338.4" cy="1387.0" r="4.75" fill="#A746EE" stroke="#9636E2" stroke-width="0.9"/>
<text x="358.8" y="1391.2" class="leg">p-value cutoff</text>
<circle cx="450.8" cy="1387.0" r="4.75" fill="#D8302F" stroke="#BE2026" stroke-width="0.9"/>
<text x="470.4" y="1391.2" class="leg">padj and Log<tspan font-size="8.7" dy="2.6">2</tspan><tspan dy="-2.6"> FC</tspan></text>
<text x="680.3" y="1425.8" text-anchor="end" class="foot">fold change cutoff = 0.5; p-value cutoff = 5x10-3</text>
</svg>
</body></html>
